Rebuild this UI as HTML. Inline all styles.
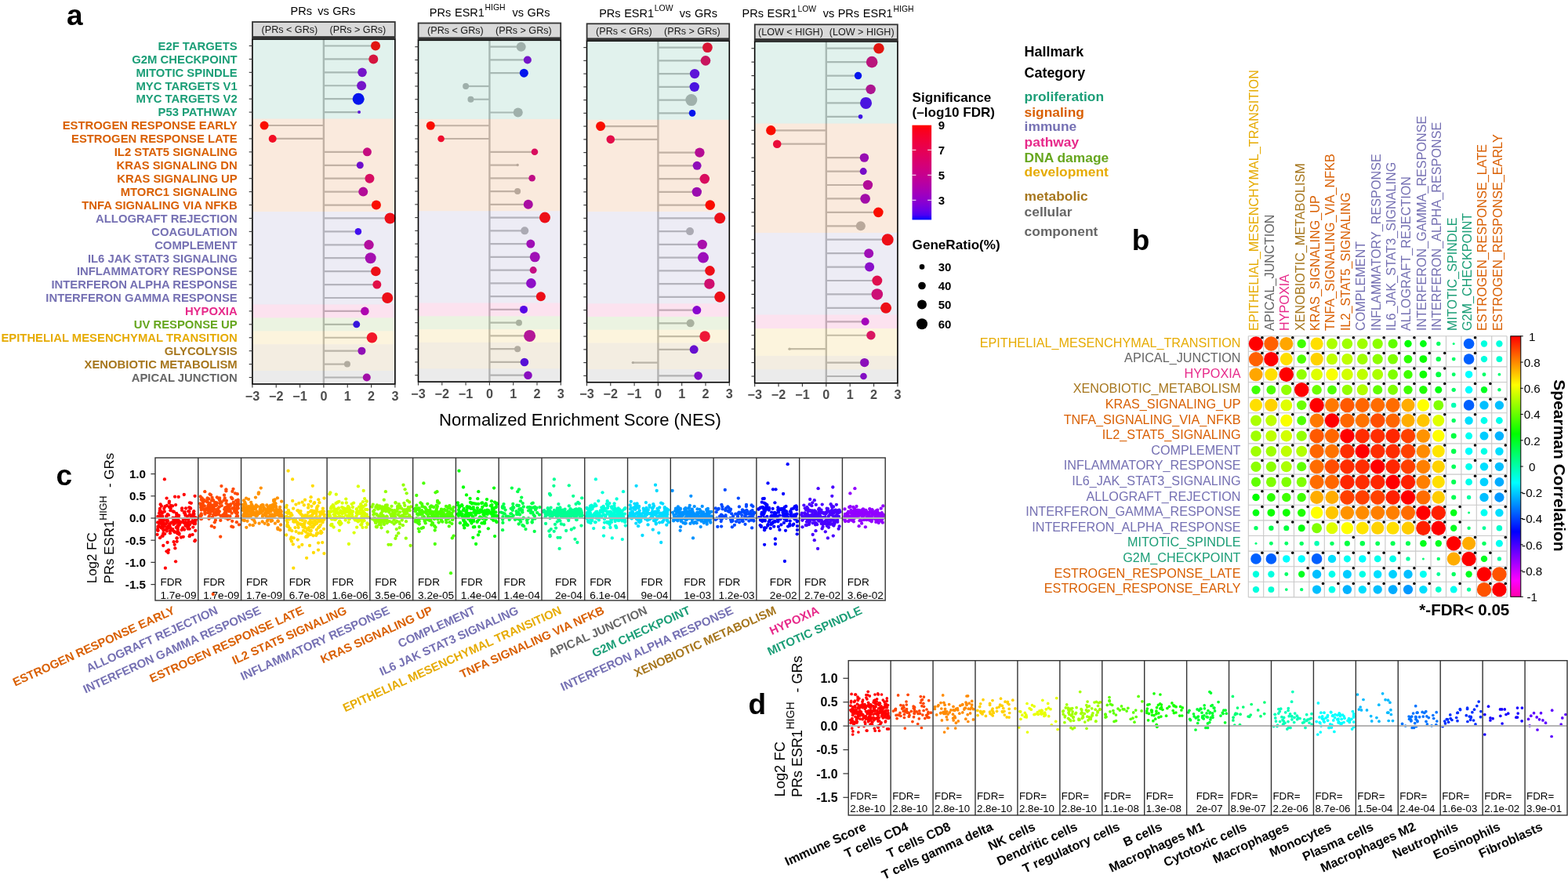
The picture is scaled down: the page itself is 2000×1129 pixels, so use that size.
<!DOCTYPE html><html><head><meta charset="utf-8"><title>Figure</title><style>html,body{margin:0;padding:0;background:#fff;}svg{display:block;} text{font-family:"Liberation Sans",sans-serif;} .b{font-weight:bold;}</style></head><body>
<svg width="2000" height="1129" viewBox="0 0 2000 1129">
<rect width="2000" height="1129" fill="#fff"/>
<text x="1163.6" y="130" class="b" font-size="17.1" fill="#000">Significance</text>
<text x="1163.6" y="148.8" class="b" font-size="17.1" fill="#000">(–log10 FDR)</text>
<defs><linearGradient id="sg" x1="0" y1="0" x2="0" y2="1"><stop offset="0.00" stop-color="#ff0000"/><stop offset="0.05" stop-color="#fb001a"/><stop offset="0.10" stop-color="#f6002a"/><stop offset="0.15" stop-color="#f20037"/><stop offset="0.20" stop-color="#ed0044"/><stop offset="0.25" stop-color="#e80050"/><stop offset="0.30" stop-color="#e3005b"/><stop offset="0.35" stop-color="#dd0066"/><stop offset="0.40" stop-color="#d70072"/><stop offset="0.45" stop-color="#d1007d"/><stop offset="0.50" stop-color="#ca0088"/><stop offset="0.55" stop-color="#c20094"/><stop offset="0.60" stop-color="#ba009f"/><stop offset="0.65" stop-color="#b000ab"/><stop offset="0.70" stop-color="#a600b7"/><stop offset="0.75" stop-color="#9a00c3"/><stop offset="0.80" stop-color="#8d00ce"/><stop offset="0.85" stop-color="#7c00da"/><stop offset="0.90" stop-color="#6800e7"/><stop offset="0.95" stop-color="#4b00f3"/><stop offset="1.00" stop-color="#0000ff"/></linearGradient><linearGradient id="cg" x1="0" y1="0" x2="0" y2="1"><stop offset="0.0000" stop-color="#ff0000"/><stop offset="0.0312" stop-color="#ff2a00"/><stop offset="0.0625" stop-color="#ff5500"/><stop offset="0.0938" stop-color="#ff8000"/><stop offset="0.1250" stop-color="#ffaa00"/><stop offset="0.1562" stop-color="#ffd400"/><stop offset="0.1875" stop-color="#ffff00"/><stop offset="0.2188" stop-color="#d4ff00"/><stop offset="0.2500" stop-color="#aaff00"/><stop offset="0.2812" stop-color="#80ff00"/><stop offset="0.3125" stop-color="#55ff00"/><stop offset="0.3438" stop-color="#2aff00"/><stop offset="0.3750" stop-color="#00ff00"/><stop offset="0.4062" stop-color="#00ff2a"/><stop offset="0.4375" stop-color="#00ff55"/><stop offset="0.4688" stop-color="#00ff80"/><stop offset="0.5000" stop-color="#00ffaa"/><stop offset="0.5312" stop-color="#00ffd4"/><stop offset="0.5625" stop-color="#00ffff"/><stop offset="0.5938" stop-color="#00d4ff"/><stop offset="0.6250" stop-color="#00aaff"/><stop offset="0.6562" stop-color="#0080ff"/><stop offset="0.6875" stop-color="#0055ff"/><stop offset="0.7188" stop-color="#002bff"/><stop offset="0.7500" stop-color="#0000ff"/><stop offset="0.7812" stop-color="#2a00ff"/><stop offset="0.8125" stop-color="#5500ff"/><stop offset="0.8438" stop-color="#8000ff"/><stop offset="0.8750" stop-color="#aa00ff"/><stop offset="0.9062" stop-color="#d500ff"/><stop offset="0.9375" stop-color="#ff00ff"/><stop offset="0.9688" stop-color="#ff00d4"/><stop offset="1.0000" stop-color="#ff00aa"/></linearGradient></defs>
<rect x="1163.5" y="159.7" width="24.6" height="120.7" fill="url(#sg)"/>
<line x1="1163.5" y1="191.3" x2="1168.4" y2="191.3" stroke="#fff" stroke-width="1"/>
<line x1="1183.2" y1="191.3" x2="1188.1" y2="191.3" stroke="#fff" stroke-width="1"/>
<line x1="1163.5" y1="223.3" x2="1168.4" y2="223.3" stroke="#fff" stroke-width="1"/>
<line x1="1183.2" y1="223.3" x2="1188.1" y2="223.3" stroke="#fff" stroke-width="1"/>
<line x1="1163.5" y1="255.3" x2="1168.4" y2="255.3" stroke="#fff" stroke-width="1"/>
<line x1="1183.2" y1="255.3" x2="1188.1" y2="255.3" stroke="#fff" stroke-width="1"/>
<text x="1196.7" y="164.7" class="b" font-size="15" fill="#000">9</text>
<text x="1196.7" y="196.7" class="b" font-size="15" fill="#000">7</text>
<text x="1196.7" y="228.7" class="b" font-size="15" fill="#000">5</text>
<text x="1196.7" y="260.7" class="b" font-size="15" fill="#000">3</text>
<text x="1163.6" y="317.5" class="b" font-size="17.1" fill="#000">GeneRatio(%)</text>
<circle cx="1176" cy="340.4" r="3.3" fill="#000"/>
<text x="1196.7" y="345.8" class="b" font-size="15" fill="#000">30</text>
<circle cx="1176" cy="364.5" r="4.8" fill="#000"/>
<text x="1196.7" y="369.9" class="b" font-size="15" fill="#000">40</text>
<circle cx="1176" cy="388.6" r="6.0" fill="#000"/>
<text x="1196.7" y="394" class="b" font-size="15" fill="#000">50</text>
<circle cx="1176" cy="413.3" r="7.0" fill="#000"/>
<text x="1196.7" y="418.7" class="b" font-size="15" fill="#000">60</text>
<text x="1306.6" y="71.7" class="b" font-size="17.9" fill="#000">Hallmark</text>
<text x="1306.6" y="99.4" class="b" font-size="17.9" fill="#000">Category</text>
<text x="1306.6" y="129.2" class="b" font-size="17.4" fill="#1B9E77">proliferation</text>
<text x="1306.6" y="148.8" class="b" font-size="17.4" fill="#D95F02">signaling</text>
<text x="1306.6" y="166.9" class="b" font-size="17.4" fill="#7570B3">immune</text>
<text x="1306.6" y="186.7" class="b" font-size="17.4" fill="#E7298A">pathway</text>
<text x="1306.6" y="206.9" class="b" font-size="17.4" fill="#66A61E">DNA damage</text>
<text x="1306.6" y="225" class="b" font-size="17.4" fill="#E6AB02">development</text>
<text x="1306.6" y="255.7" class="b" font-size="17.4" fill="#A6761D">metabolic</text>
<text x="1306.6" y="276.2" class="b" font-size="17.4" fill="#666666">cellular</text>
<text x="1306.6" y="301.2" class="b" font-size="17.4" fill="#666666">component</text>
<text x="1443.7" y="319" class="b" font-size="37">b</text>
<text x="85" y="32.4" class="b" font-size="37">a</text>
<text x="302.7" y="63.8" class="b" font-size="14.85" text-anchor="end" fill="#1B9E77">E2F TARGETS</text>
<text x="302.7" y="80.72" class="b" font-size="14.85" text-anchor="end" fill="#1B9E77">G2M CHECKPOINT</text>
<text x="302.7" y="97.64" class="b" font-size="14.85" text-anchor="end" fill="#1B9E77">MITOTIC SPINDLE</text>
<text x="302.7" y="114.56" class="b" font-size="14.85" text-anchor="end" fill="#1B9E77">MYC TARGETS V1</text>
<text x="302.7" y="131.48" class="b" font-size="14.85" text-anchor="end" fill="#1B9E77">MYC TARGETS V2</text>
<text x="302.7" y="148.4" class="b" font-size="14.85" text-anchor="end" fill="#1B9E77">P53 PATHWAY</text>
<text x="302.7" y="165.32" class="b" font-size="14.85" text-anchor="end" fill="#D95F02">ESTROGEN RESPONSE EARLY</text>
<text x="302.7" y="182.24" class="b" font-size="14.85" text-anchor="end" fill="#D95F02">ESTROGEN RESPONSE LATE</text>
<text x="302.7" y="199.16" class="b" font-size="14.85" text-anchor="end" fill="#D95F02">IL2 STAT5 SIGNALING</text>
<text x="302.7" y="216.08" class="b" font-size="14.85" text-anchor="end" fill="#D95F02">KRAS SIGNALING DN</text>
<text x="302.7" y="233" class="b" font-size="14.85" text-anchor="end" fill="#D95F02">KRAS SIGNALING UP</text>
<text x="302.7" y="249.92" class="b" font-size="14.85" text-anchor="end" fill="#D95F02">MTORC1 SIGNALING</text>
<text x="302.7" y="266.84" class="b" font-size="14.85" text-anchor="end" fill="#D95F02">TNFA SIGNALING VIA NFKB</text>
<text x="302.7" y="283.76" class="b" font-size="14.85" text-anchor="end" fill="#7570B3">ALLOGRAFT REJECTION</text>
<text x="302.7" y="300.68" class="b" font-size="14.85" text-anchor="end" fill="#7570B3">COAGULATION</text>
<text x="302.7" y="317.6" class="b" font-size="14.85" text-anchor="end" fill="#7570B3">COMPLEMENT</text>
<text x="302.7" y="334.52" class="b" font-size="14.85" text-anchor="end" fill="#7570B3">IL6 JAK STAT3 SIGNALING</text>
<text x="302.7" y="351.44" class="b" font-size="14.85" text-anchor="end" fill="#7570B3">INFLAMMATORY RESPONSE</text>
<text x="302.7" y="368.36" class="b" font-size="14.85" text-anchor="end" fill="#7570B3">INTERFERON ALPHA RESPONSE</text>
<text x="302.7" y="385.28" class="b" font-size="14.85" text-anchor="end" fill="#7570B3">INTERFERON GAMMA RESPONSE</text>
<text x="302.7" y="402.2" class="b" font-size="14.85" text-anchor="end" fill="#E7298A">HYPOXIA</text>
<text x="302.7" y="419.12" class="b" font-size="14.85" text-anchor="end" fill="#66A61E">UV RESPONSE UP</text>
<text x="302.7" y="436.04" class="b" font-size="14.85" text-anchor="end" fill="#E6AB02">EPITHELIAL MESENCHYMAL TRANSITION</text>
<text x="302.7" y="452.96" class="b" font-size="14.85" text-anchor="end" fill="#A6761D">GLYCOLYSIS</text>
<text x="302.7" y="469.88" class="b" font-size="14.85" text-anchor="end" fill="#A6761D">XENOBIOTIC METABOLISM</text>
<text x="302.7" y="486.8" class="b" font-size="14.85" text-anchor="end" fill="#666666">APICAL JUNCTION</text>
<rect x="321.91" y="50.04" width="181.98" height="439.92" fill="#fff"/>
<line x1="412.9" y1="50.04" x2="412.9" y2="489.96" stroke="#bebebe" stroke-width="2.4"/>
<line x1="412.9" y1="58.5" x2="479.02" y2="58.5" stroke="#bebebe" stroke-width="2.2"/>
<line x1="412.9" y1="75.42" x2="476.29" y2="75.42" stroke="#bebebe" stroke-width="2.2"/>
<line x1="412.9" y1="92.34" x2="462.03" y2="92.34" stroke="#bebebe" stroke-width="2.2"/>
<line x1="412.9" y1="109.26" x2="461.12" y2="109.26" stroke="#bebebe" stroke-width="2.2"/>
<line x1="412.9" y1="126.18" x2="457.18" y2="126.18" stroke="#bebebe" stroke-width="2.2"/>
<line x1="412.9" y1="143.1" x2="458.09" y2="143.1" stroke="#bebebe" stroke-width="2.2"/>
<line x1="412.9" y1="160.02" x2="337.07" y2="160.02" stroke="#bebebe" stroke-width="2.2"/>
<line x1="412.9" y1="176.94" x2="347.69" y2="176.94" stroke="#bebebe" stroke-width="2.2"/>
<line x1="412.9" y1="193.86" x2="468.4" y2="193.86" stroke="#bebebe" stroke-width="2.2"/>
<line x1="412.9" y1="210.78" x2="459.3" y2="210.78" stroke="#bebebe" stroke-width="2.2"/>
<line x1="412.9" y1="227.7" x2="471.44" y2="227.7" stroke="#bebebe" stroke-width="2.2"/>
<line x1="412.9" y1="244.62" x2="463.25" y2="244.62" stroke="#bebebe" stroke-width="2.2"/>
<line x1="412.9" y1="261.54" x2="479.93" y2="261.54" stroke="#bebebe" stroke-width="2.2"/>
<line x1="412.9" y1="278.46" x2="497.52" y2="278.46" stroke="#bebebe" stroke-width="2.2"/>
<line x1="412.9" y1="295.38" x2="456.88" y2="295.38" stroke="#bebebe" stroke-width="2.2"/>
<line x1="412.9" y1="312.3" x2="470.53" y2="312.3" stroke="#bebebe" stroke-width="2.2"/>
<line x1="412.9" y1="329.22" x2="472.65" y2="329.22" stroke="#bebebe" stroke-width="2.2"/>
<line x1="412.9" y1="346.14" x2="479.32" y2="346.14" stroke="#bebebe" stroke-width="2.2"/>
<line x1="412.9" y1="363.06" x2="480.84" y2="363.06" stroke="#bebebe" stroke-width="2.2"/>
<line x1="412.9" y1="379.98" x2="494.18" y2="379.98" stroke="#bebebe" stroke-width="2.2"/>
<line x1="412.9" y1="396.9" x2="465.37" y2="396.9" stroke="#bebebe" stroke-width="2.2"/>
<line x1="412.9" y1="413.82" x2="454.76" y2="413.82" stroke="#bebebe" stroke-width="2.2"/>
<line x1="412.9" y1="430.74" x2="474.47" y2="430.74" stroke="#bebebe" stroke-width="2.2"/>
<line x1="412.9" y1="447.66" x2="461.43" y2="447.66" stroke="#bebebe" stroke-width="2.2"/>
<line x1="412.9" y1="464.58" x2="442.93" y2="464.58" stroke="#bebebe" stroke-width="2.2"/>
<line x1="412.9" y1="481.5" x2="467.8" y2="481.5" stroke="#bebebe" stroke-width="2.2"/>
<circle cx="479.02" cy="58.5" r="6" fill="#ff0000"/>
<circle cx="476.29" cy="75.42" r="6" fill="#f20037"/>
<circle cx="462.03" cy="92.34" r="5.8" fill="#8300d6"/>
<circle cx="461.12" cy="109.26" r="6" fill="#8300d6"/>
<circle cx="457.18" cy="126.18" r="7.5" fill="#0000ff"/>
<circle cx="458.09" cy="143.1" r="2" fill="#6800e7"/>
<circle cx="337.07" cy="160.02" r="5.5" fill="#ff0000"/>
<circle cx="347.69" cy="176.94" r="5" fill="#f6002a"/>
<circle cx="468.4" cy="193.86" r="5.5" fill="#c20094"/>
<circle cx="459.3" cy="210.78" r="4.5" fill="#5e00eb"/>
<circle cx="471.44" cy="227.7" r="6" fill="#d70072"/>
<circle cx="463.25" cy="244.62" r="6" fill="#ac00b0"/>
<circle cx="479.93" cy="261.54" r="6" fill="#ff0000"/>
<circle cx="497.52" cy="278.46" r="7" fill="#ff0000"/>
<circle cx="456.88" cy="295.38" r="4.3" fill="#3a00f8"/>
<circle cx="470.53" cy="312.3" r="6.2" fill="#bd009b"/>
<circle cx="472.65" cy="329.22" r="7" fill="#ac00b0"/>
<circle cx="479.32" cy="346.14" r="6.2" fill="#ff0000"/>
<circle cx="480.84" cy="363.06" r="5.5" fill="#f20037"/>
<circle cx="494.18" cy="379.98" r="7" fill="#ff0000"/>
<circle cx="465.37" cy="396.9" r="5.3" fill="#a600b7"/>
<circle cx="454.76" cy="413.82" r="4.5" fill="#2f00fa"/>
<circle cx="474.47" cy="430.74" r="6.8" fill="#f50030"/>
<circle cx="461.43" cy="447.66" r="5" fill="#8d00ce"/>
<circle cx="442.93" cy="464.58" r="4" fill="#b3b3b3"/>
<circle cx="467.8" cy="481.5" r="5" fill="#aa00b2"/>
<rect x="321.91" y="50.04" width="181.98" height="101.52" fill="#1B9E77" fill-opacity="0.135"/>
<rect x="321.91" y="151.56" width="181.98" height="118.44" fill="#D95F02" fill-opacity="0.135"/>
<rect x="321.91" y="270" width="181.98" height="118.44" fill="#7570B3" fill-opacity="0.135"/>
<rect x="321.91" y="388.44" width="181.98" height="16.92" fill="#E7298A" fill-opacity="0.135"/>
<rect x="321.91" y="405.36" width="181.98" height="16.92" fill="#66A61E" fill-opacity="0.135"/>
<rect x="321.91" y="422.28" width="181.98" height="16.92" fill="#E6AB02" fill-opacity="0.135"/>
<rect x="321.91" y="439.2" width="181.98" height="33.84" fill="#A6761D" fill-opacity="0.135"/>
<rect x="321.91" y="473.04" width="181.98" height="16.92" fill="#666666" fill-opacity="0.135"/>
<rect x="321.91" y="50.04" width="181.98" height="439.92" fill="none" stroke="#000" stroke-width="1.6"/>
<rect x="321.11" y="27.1" width="183.58" height="22.94" fill="#333"/>
<rect x="322.91" y="28.9" width="179.98" height="17.24" fill="#d9d9d9"/>
<text x="369.4" y="41.82" font-size="12.6" text-anchor="middle" fill="#1a1a1a">(PRs &lt; GRs)</text>
<text x="456.4" y="41.82" font-size="12.6" text-anchor="middle" fill="#1a1a1a">(PRs &gt; GRs)</text>
<line x1="317.71" y1="58.5" x2="321.91" y2="58.5" stroke="#333" stroke-width="1.1"/>
<line x1="317.71" y1="75.42" x2="321.91" y2="75.42" stroke="#333" stroke-width="1.1"/>
<line x1="317.71" y1="92.34" x2="321.91" y2="92.34" stroke="#333" stroke-width="1.1"/>
<line x1="317.71" y1="109.26" x2="321.91" y2="109.26" stroke="#333" stroke-width="1.1"/>
<line x1="317.71" y1="126.18" x2="321.91" y2="126.18" stroke="#333" stroke-width="1.1"/>
<line x1="317.71" y1="143.1" x2="321.91" y2="143.1" stroke="#333" stroke-width="1.1"/>
<line x1="317.71" y1="160.02" x2="321.91" y2="160.02" stroke="#333" stroke-width="1.1"/>
<line x1="317.71" y1="176.94" x2="321.91" y2="176.94" stroke="#333" stroke-width="1.1"/>
<line x1="317.71" y1="193.86" x2="321.91" y2="193.86" stroke="#333" stroke-width="1.1"/>
<line x1="317.71" y1="210.78" x2="321.91" y2="210.78" stroke="#333" stroke-width="1.1"/>
<line x1="317.71" y1="227.7" x2="321.91" y2="227.7" stroke="#333" stroke-width="1.1"/>
<line x1="317.71" y1="244.62" x2="321.91" y2="244.62" stroke="#333" stroke-width="1.1"/>
<line x1="317.71" y1="261.54" x2="321.91" y2="261.54" stroke="#333" stroke-width="1.1"/>
<line x1="317.71" y1="278.46" x2="321.91" y2="278.46" stroke="#333" stroke-width="1.1"/>
<line x1="317.71" y1="295.38" x2="321.91" y2="295.38" stroke="#333" stroke-width="1.1"/>
<line x1="317.71" y1="312.3" x2="321.91" y2="312.3" stroke="#333" stroke-width="1.1"/>
<line x1="317.71" y1="329.22" x2="321.91" y2="329.22" stroke="#333" stroke-width="1.1"/>
<line x1="317.71" y1="346.14" x2="321.91" y2="346.14" stroke="#333" stroke-width="1.1"/>
<line x1="317.71" y1="363.06" x2="321.91" y2="363.06" stroke="#333" stroke-width="1.1"/>
<line x1="317.71" y1="379.98" x2="321.91" y2="379.98" stroke="#333" stroke-width="1.1"/>
<line x1="317.71" y1="396.9" x2="321.91" y2="396.9" stroke="#333" stroke-width="1.1"/>
<line x1="317.71" y1="413.82" x2="321.91" y2="413.82" stroke="#333" stroke-width="1.1"/>
<line x1="317.71" y1="430.74" x2="321.91" y2="430.74" stroke="#333" stroke-width="1.1"/>
<line x1="317.71" y1="447.66" x2="321.91" y2="447.66" stroke="#333" stroke-width="1.1"/>
<line x1="317.71" y1="464.58" x2="321.91" y2="464.58" stroke="#333" stroke-width="1.1"/>
<line x1="317.71" y1="481.5" x2="321.91" y2="481.5" stroke="#333" stroke-width="1.1"/>
<line x1="321.91" y1="489.96" x2="321.91" y2="494.46" stroke="#333" stroke-width="1.1"/>
<text x="321.91" y="510.66" class="b" font-size="16.2" text-anchor="middle" fill="#4d4d4d">−3</text>
<line x1="352.24" y1="489.96" x2="352.24" y2="494.46" stroke="#333" stroke-width="1.1"/>
<text x="352.24" y="510.66" class="b" font-size="16.2" text-anchor="middle" fill="#4d4d4d">−2</text>
<line x1="382.57" y1="489.96" x2="382.57" y2="494.46" stroke="#333" stroke-width="1.1"/>
<text x="382.57" y="510.66" class="b" font-size="16.2" text-anchor="middle" fill="#4d4d4d">−1</text>
<line x1="412.9" y1="489.96" x2="412.9" y2="494.46" stroke="#333" stroke-width="1.1"/>
<text x="412.9" y="510.66" class="b" font-size="16.2" text-anchor="middle" fill="#4d4d4d">0</text>
<line x1="443.23" y1="489.96" x2="443.23" y2="494.46" stroke="#333" stroke-width="1.1"/>
<text x="443.23" y="510.66" class="b" font-size="16.2" text-anchor="middle" fill="#4d4d4d">1</text>
<line x1="473.56" y1="489.96" x2="473.56" y2="494.46" stroke="#333" stroke-width="1.1"/>
<text x="473.56" y="510.66" class="b" font-size="16.2" text-anchor="middle" fill="#4d4d4d">2</text>
<line x1="503.89" y1="489.96" x2="503.89" y2="494.46" stroke="#333" stroke-width="1.1"/>
<text x="503.89" y="510.66" class="b" font-size="16.2" text-anchor="middle" fill="#4d4d4d">3</text>
<rect x="533.5" y="51.32" width="181.8" height="435.76" fill="#fff"/>
<line x1="624.4" y1="51.32" x2="624.4" y2="487.08" stroke="#bebebe" stroke-width="2.4"/>
<line x1="624.4" y1="59.7" x2="664.7" y2="59.7" stroke="#bebebe" stroke-width="2.2"/>
<line x1="624.4" y1="76.46" x2="672.88" y2="76.46" stroke="#bebebe" stroke-width="2.2"/>
<line x1="624.4" y1="93.22" x2="668.34" y2="93.22" stroke="#bebebe" stroke-width="2.2"/>
<line x1="624.4" y1="109.98" x2="594.1" y2="109.98" stroke="#bebebe" stroke-width="2.2"/>
<line x1="624.4" y1="126.74" x2="600.46" y2="126.74" stroke="#bebebe" stroke-width="2.2"/>
<line x1="624.4" y1="143.5" x2="660.76" y2="143.5" stroke="#bebebe" stroke-width="2.2"/>
<line x1="624.4" y1="160.26" x2="549.26" y2="160.26" stroke="#bebebe" stroke-width="2.2"/>
<line x1="624.4" y1="177.02" x2="562.59" y2="177.02" stroke="#bebebe" stroke-width="2.2"/>
<line x1="624.4" y1="193.78" x2="681.97" y2="193.78" stroke="#bebebe" stroke-width="2.2"/>
<line x1="624.4" y1="210.54" x2="660.15" y2="210.54" stroke="#bebebe" stroke-width="2.2"/>
<line x1="624.4" y1="227.3" x2="678.64" y2="227.3" stroke="#bebebe" stroke-width="2.2"/>
<line x1="624.4" y1="244.06" x2="660.15" y2="244.06" stroke="#bebebe" stroke-width="2.2"/>
<line x1="624.4" y1="260.82" x2="673.79" y2="260.82" stroke="#bebebe" stroke-width="2.2"/>
<line x1="624.4" y1="277.58" x2="695" y2="277.58" stroke="#bebebe" stroke-width="2.2"/>
<line x1="624.4" y1="294.34" x2="669.24" y2="294.34" stroke="#bebebe" stroke-width="2.2"/>
<line x1="624.4" y1="311.1" x2="676.82" y2="311.1" stroke="#bebebe" stroke-width="2.2"/>
<line x1="624.4" y1="327.86" x2="682.27" y2="327.86" stroke="#bebebe" stroke-width="2.2"/>
<line x1="624.4" y1="344.62" x2="680.15" y2="344.62" stroke="#bebebe" stroke-width="2.2"/>
<line x1="624.4" y1="361.38" x2="677.42" y2="361.38" stroke="#bebebe" stroke-width="2.2"/>
<line x1="624.4" y1="378.14" x2="689.85" y2="378.14" stroke="#bebebe" stroke-width="2.2"/>
<line x1="624.4" y1="394.9" x2="668.03" y2="394.9" stroke="#bebebe" stroke-width="2.2"/>
<line x1="624.4" y1="411.66" x2="661.97" y2="411.66" stroke="#bebebe" stroke-width="2.2"/>
<line x1="624.4" y1="428.42" x2="675.61" y2="428.42" stroke="#bebebe" stroke-width="2.2"/>
<line x1="624.4" y1="445.18" x2="660.15" y2="445.18" stroke="#bebebe" stroke-width="2.2"/>
<line x1="624.4" y1="461.94" x2="668.94" y2="461.94" stroke="#bebebe" stroke-width="2.2"/>
<line x1="624.4" y1="478.7" x2="673.49" y2="478.7" stroke="#bebebe" stroke-width="2.2"/>
<circle cx="664.7" cy="59.7" r="6" fill="#b3b3b3"/>
<circle cx="672.88" cy="76.46" r="5" fill="#8300d6"/>
<circle cx="668.34" cy="93.22" r="5.5" fill="#0000ff"/>
<circle cx="594.1" cy="109.98" r="4" fill="#b3b3b3"/>
<circle cx="600.46" cy="126.74" r="4" fill="#b3b3b3"/>
<circle cx="660.76" cy="143.5" r="6" fill="#b3b3b3"/>
<circle cx="549.26" cy="160.26" r="5.5" fill="#ff0000"/>
<circle cx="562.59" cy="177.02" r="4.3" fill="#f20037"/>
<circle cx="681.97" cy="193.78" r="4.3" fill="#d9006d"/>
<circle cx="660.15" cy="210.54" r="1.7" fill="#b3b3b3"/>
<circle cx="678.64" cy="227.3" r="4.3" fill="#bd009b"/>
<circle cx="660.15" cy="244.06" r="4" fill="#b3b3b3"/>
<circle cx="673.79" cy="260.82" r="6" fill="#a200bb"/>
<circle cx="695" cy="277.58" r="7" fill="#ff0000"/>
<circle cx="669.24" cy="294.34" r="5" fill="#b3b3b3"/>
<circle cx="676.82" cy="311.1" r="5.5" fill="#a600b7"/>
<circle cx="682.27" cy="327.86" r="6.5" fill="#a600b7"/>
<circle cx="680.15" cy="344.62" r="4.5" fill="#d1007d"/>
<circle cx="677.42" cy="361.38" r="6.3" fill="#9200ca"/>
<circle cx="689.85" cy="378.14" r="6" fill="#ff0000"/>
<circle cx="668.03" cy="394.9" r="5" fill="#4300f5"/>
<circle cx="661.97" cy="411.66" r="4" fill="#b3b3b3"/>
<circle cx="675.61" cy="428.42" r="7.5" fill="#ac00b0"/>
<circle cx="660.15" cy="445.18" r="4" fill="#b3b3b3"/>
<circle cx="668.94" cy="461.94" r="5.3" fill="#4b00f3"/>
<circle cx="673.49" cy="478.7" r="5.3" fill="#8d00ce"/>
<rect x="533.5" y="51.32" width="181.8" height="100.56" fill="#1B9E77" fill-opacity="0.135"/>
<rect x="533.5" y="151.88" width="181.8" height="117.32" fill="#D95F02" fill-opacity="0.135"/>
<rect x="533.5" y="269.2" width="181.8" height="117.32" fill="#7570B3" fill-opacity="0.135"/>
<rect x="533.5" y="386.52" width="181.8" height="16.76" fill="#E7298A" fill-opacity="0.135"/>
<rect x="533.5" y="403.28" width="181.8" height="16.76" fill="#66A61E" fill-opacity="0.135"/>
<rect x="533.5" y="420.04" width="181.8" height="16.76" fill="#E6AB02" fill-opacity="0.135"/>
<rect x="533.5" y="436.8" width="181.8" height="33.52" fill="#A6761D" fill-opacity="0.135"/>
<rect x="533.5" y="470.32" width="181.8" height="16.76" fill="#666666" fill-opacity="0.135"/>
<rect x="533.5" y="51.32" width="181.8" height="435.76" fill="none" stroke="#000" stroke-width="1.6"/>
<rect x="532.7" y="28.6" width="183.4" height="22.72" fill="#333"/>
<rect x="534.5" y="30.4" width="179.8" height="17.02" fill="#d9d9d9"/>
<text x="580.9" y="43.21" font-size="12.6" text-anchor="middle" fill="#1a1a1a">(PRs &lt; GRs)</text>
<text x="667.9" y="43.21" font-size="12.6" text-anchor="middle" fill="#1a1a1a">(PRs &gt; GRs)</text>
<line x1="529.3" y1="59.7" x2="533.5" y2="59.7" stroke="#333" stroke-width="1.1"/>
<line x1="529.3" y1="76.46" x2="533.5" y2="76.46" stroke="#333" stroke-width="1.1"/>
<line x1="529.3" y1="93.22" x2="533.5" y2="93.22" stroke="#333" stroke-width="1.1"/>
<line x1="529.3" y1="109.98" x2="533.5" y2="109.98" stroke="#333" stroke-width="1.1"/>
<line x1="529.3" y1="126.74" x2="533.5" y2="126.74" stroke="#333" stroke-width="1.1"/>
<line x1="529.3" y1="143.5" x2="533.5" y2="143.5" stroke="#333" stroke-width="1.1"/>
<line x1="529.3" y1="160.26" x2="533.5" y2="160.26" stroke="#333" stroke-width="1.1"/>
<line x1="529.3" y1="177.02" x2="533.5" y2="177.02" stroke="#333" stroke-width="1.1"/>
<line x1="529.3" y1="193.78" x2="533.5" y2="193.78" stroke="#333" stroke-width="1.1"/>
<line x1="529.3" y1="210.54" x2="533.5" y2="210.54" stroke="#333" stroke-width="1.1"/>
<line x1="529.3" y1="227.3" x2="533.5" y2="227.3" stroke="#333" stroke-width="1.1"/>
<line x1="529.3" y1="244.06" x2="533.5" y2="244.06" stroke="#333" stroke-width="1.1"/>
<line x1="529.3" y1="260.82" x2="533.5" y2="260.82" stroke="#333" stroke-width="1.1"/>
<line x1="529.3" y1="277.58" x2="533.5" y2="277.58" stroke="#333" stroke-width="1.1"/>
<line x1="529.3" y1="294.34" x2="533.5" y2="294.34" stroke="#333" stroke-width="1.1"/>
<line x1="529.3" y1="311.1" x2="533.5" y2="311.1" stroke="#333" stroke-width="1.1"/>
<line x1="529.3" y1="327.86" x2="533.5" y2="327.86" stroke="#333" stroke-width="1.1"/>
<line x1="529.3" y1="344.62" x2="533.5" y2="344.62" stroke="#333" stroke-width="1.1"/>
<line x1="529.3" y1="361.38" x2="533.5" y2="361.38" stroke="#333" stroke-width="1.1"/>
<line x1="529.3" y1="378.14" x2="533.5" y2="378.14" stroke="#333" stroke-width="1.1"/>
<line x1="529.3" y1="394.9" x2="533.5" y2="394.9" stroke="#333" stroke-width="1.1"/>
<line x1="529.3" y1="411.66" x2="533.5" y2="411.66" stroke="#333" stroke-width="1.1"/>
<line x1="529.3" y1="428.42" x2="533.5" y2="428.42" stroke="#333" stroke-width="1.1"/>
<line x1="529.3" y1="445.18" x2="533.5" y2="445.18" stroke="#333" stroke-width="1.1"/>
<line x1="529.3" y1="461.94" x2="533.5" y2="461.94" stroke="#333" stroke-width="1.1"/>
<line x1="529.3" y1="478.7" x2="533.5" y2="478.7" stroke="#333" stroke-width="1.1"/>
<line x1="533.5" y1="487.08" x2="533.5" y2="491.58" stroke="#333" stroke-width="1.1"/>
<text x="533.5" y="507.78" class="b" font-size="16.2" text-anchor="middle" fill="#4d4d4d">−3</text>
<line x1="563.8" y1="487.08" x2="563.8" y2="491.58" stroke="#333" stroke-width="1.1"/>
<text x="563.8" y="507.78" class="b" font-size="16.2" text-anchor="middle" fill="#4d4d4d">−2</text>
<line x1="594.1" y1="487.08" x2="594.1" y2="491.58" stroke="#333" stroke-width="1.1"/>
<text x="594.1" y="507.78" class="b" font-size="16.2" text-anchor="middle" fill="#4d4d4d">−1</text>
<line x1="624.4" y1="487.08" x2="624.4" y2="491.58" stroke="#333" stroke-width="1.1"/>
<text x="624.4" y="507.78" class="b" font-size="16.2" text-anchor="middle" fill="#4d4d4d">0</text>
<line x1="654.7" y1="487.08" x2="654.7" y2="491.58" stroke="#333" stroke-width="1.1"/>
<text x="654.7" y="507.78" class="b" font-size="16.2" text-anchor="middle" fill="#4d4d4d">1</text>
<line x1="685" y1="487.08" x2="685" y2="491.58" stroke="#333" stroke-width="1.1"/>
<text x="685" y="507.78" class="b" font-size="16.2" text-anchor="middle" fill="#4d4d4d">2</text>
<line x1="715.3" y1="487.08" x2="715.3" y2="491.58" stroke="#333" stroke-width="1.1"/>
<text x="715.3" y="507.78" class="b" font-size="16.2" text-anchor="middle" fill="#4d4d4d">3</text>
<rect x="748.5" y="52.23" width="181.8" height="435.5" fill="#fff"/>
<line x1="839.4" y1="52.23" x2="839.4" y2="487.73" stroke="#bebebe" stroke-width="2.4"/>
<line x1="839.4" y1="60.6" x2="902.42" y2="60.6" stroke="#bebebe" stroke-width="2.2"/>
<line x1="839.4" y1="77.35" x2="900" y2="77.35" stroke="#bebebe" stroke-width="2.2"/>
<line x1="839.4" y1="94.1" x2="886.06" y2="94.1" stroke="#bebebe" stroke-width="2.2"/>
<line x1="839.4" y1="110.85" x2="885.76" y2="110.85" stroke="#bebebe" stroke-width="2.2"/>
<line x1="839.4" y1="127.6" x2="881.82" y2="127.6" stroke="#bebebe" stroke-width="2.2"/>
<line x1="839.4" y1="144.35" x2="883.03" y2="144.35" stroke="#bebebe" stroke-width="2.2"/>
<line x1="839.4" y1="161.1" x2="766.07" y2="161.1" stroke="#bebebe" stroke-width="2.2"/>
<line x1="839.4" y1="177.85" x2="778.8" y2="177.85" stroke="#bebebe" stroke-width="2.2"/>
<line x1="839.4" y1="194.6" x2="892.42" y2="194.6" stroke="#bebebe" stroke-width="2.2"/>
<line x1="839.4" y1="211.35" x2="889.09" y2="211.35" stroke="#bebebe" stroke-width="2.2"/>
<line x1="839.4" y1="228.1" x2="898.79" y2="228.1" stroke="#bebebe" stroke-width="2.2"/>
<line x1="839.4" y1="244.85" x2="888.79" y2="244.85" stroke="#bebebe" stroke-width="2.2"/>
<line x1="839.4" y1="261.6" x2="905.76" y2="261.6" stroke="#bebebe" stroke-width="2.2"/>
<line x1="839.4" y1="278.35" x2="918.18" y2="278.35" stroke="#bebebe" stroke-width="2.2"/>
<line x1="839.4" y1="295.1" x2="880" y2="295.1" stroke="#bebebe" stroke-width="2.2"/>
<line x1="839.4" y1="311.85" x2="895.76" y2="311.85" stroke="#bebebe" stroke-width="2.2"/>
<line x1="839.4" y1="328.6" x2="896.97" y2="328.6" stroke="#bebebe" stroke-width="2.2"/>
<line x1="839.4" y1="345.35" x2="905.45" y2="345.35" stroke="#bebebe" stroke-width="2.2"/>
<line x1="839.4" y1="362.1" x2="904.85" y2="362.1" stroke="#bebebe" stroke-width="2.2"/>
<line x1="839.4" y1="378.85" x2="918.18" y2="378.85" stroke="#bebebe" stroke-width="2.2"/>
<line x1="839.4" y1="395.6" x2="888.79" y2="395.6" stroke="#bebebe" stroke-width="2.2"/>
<line x1="839.4" y1="412.35" x2="880.61" y2="412.35" stroke="#bebebe" stroke-width="2.2"/>
<line x1="839.4" y1="429.1" x2="899.09" y2="429.1" stroke="#bebebe" stroke-width="2.2"/>
<line x1="839.4" y1="445.85" x2="885.15" y2="445.85" stroke="#bebebe" stroke-width="2.2"/>
<line x1="839.4" y1="462.6" x2="807.28" y2="462.6" stroke="#bebebe" stroke-width="2.2"/>
<line x1="839.4" y1="479.35" x2="890.61" y2="479.35" stroke="#bebebe" stroke-width="2.2"/>
<circle cx="902.42" cy="60.6" r="6.4" fill="#f6002a"/>
<circle cx="900" cy="77.35" r="6.3" fill="#e3005b"/>
<circle cx="886.06" cy="94.1" r="6.2" fill="#6800e7"/>
<circle cx="885.76" cy="110.85" r="6.2" fill="#5200f0"/>
<circle cx="881.82" cy="127.6" r="7.5" fill="#b3b3b3"/>
<circle cx="883.03" cy="144.35" r="4.3" fill="#0000ff"/>
<circle cx="766.07" cy="161.1" r="6" fill="#ff0000"/>
<circle cx="778.8" cy="177.85" r="5.3" fill="#e50056"/>
<circle cx="892.42" cy="194.6" r="6.2" fill="#b000ab"/>
<circle cx="889.09" cy="211.35" r="5.5" fill="#8300d6"/>
<circle cx="898.79" cy="228.1" r="6.3" fill="#d9006d"/>
<circle cx="888.79" cy="244.85" r="6.2" fill="#9200ca"/>
<circle cx="905.76" cy="261.6" r="6.3" fill="#ff0000"/>
<circle cx="918.18" cy="278.35" r="7" fill="#ff0000"/>
<circle cx="880" cy="295.1" r="5" fill="#b3b3b3"/>
<circle cx="895.76" cy="311.85" r="6.2" fill="#b000ab"/>
<circle cx="896.97" cy="328.6" r="7" fill="#a200bb"/>
<circle cx="905.45" cy="345.35" r="6.3" fill="#ff0000"/>
<circle cx="904.85" cy="362.1" r="6.7" fill="#dd0066"/>
<circle cx="918.18" cy="378.85" r="7" fill="#ff0000"/>
<circle cx="888.79" cy="395.6" r="5.5" fill="#7c00da"/>
<circle cx="880.61" cy="412.35" r="5" fill="#b3b3b3"/>
<circle cx="899.09" cy="429.1" r="6.8" fill="#ef003f"/>
<circle cx="885.15" cy="445.85" r="5.5" fill="#5e00eb"/>
<circle cx="807.28" cy="462.6" r="1.7" fill="#b3b3b3"/>
<circle cx="890.61" cy="479.35" r="5.3" fill="#8300d6"/>
<rect x="748.5" y="52.23" width="181.8" height="100.5" fill="#1B9E77" fill-opacity="0.135"/>
<rect x="748.5" y="152.72" width="181.8" height="117.25" fill="#D95F02" fill-opacity="0.135"/>
<rect x="748.5" y="269.98" width="181.8" height="117.25" fill="#7570B3" fill-opacity="0.135"/>
<rect x="748.5" y="387.23" width="181.8" height="16.75" fill="#E7298A" fill-opacity="0.135"/>
<rect x="748.5" y="403.98" width="181.8" height="16.75" fill="#66A61E" fill-opacity="0.135"/>
<rect x="748.5" y="420.73" width="181.8" height="16.75" fill="#E6AB02" fill-opacity="0.135"/>
<rect x="748.5" y="437.48" width="181.8" height="33.5" fill="#A6761D" fill-opacity="0.135"/>
<rect x="748.5" y="470.98" width="181.8" height="16.75" fill="#666666" fill-opacity="0.135"/>
<rect x="748.5" y="52.23" width="181.8" height="435.5" fill="none" stroke="#000" stroke-width="1.6"/>
<rect x="747.7" y="29.4" width="183.4" height="22.83" fill="#333"/>
<rect x="749.5" y="31.2" width="179.8" height="17.13" fill="#d9d9d9"/>
<text x="795.9" y="44.06" font-size="12.6" text-anchor="middle" fill="#1a1a1a">(PRs &lt; GRs)</text>
<text x="882.9" y="44.06" font-size="12.6" text-anchor="middle" fill="#1a1a1a">(PRs &gt; GRs)</text>
<line x1="744.3" y1="60.6" x2="748.5" y2="60.6" stroke="#333" stroke-width="1.1"/>
<line x1="744.3" y1="77.35" x2="748.5" y2="77.35" stroke="#333" stroke-width="1.1"/>
<line x1="744.3" y1="94.1" x2="748.5" y2="94.1" stroke="#333" stroke-width="1.1"/>
<line x1="744.3" y1="110.85" x2="748.5" y2="110.85" stroke="#333" stroke-width="1.1"/>
<line x1="744.3" y1="127.6" x2="748.5" y2="127.6" stroke="#333" stroke-width="1.1"/>
<line x1="744.3" y1="144.35" x2="748.5" y2="144.35" stroke="#333" stroke-width="1.1"/>
<line x1="744.3" y1="161.1" x2="748.5" y2="161.1" stroke="#333" stroke-width="1.1"/>
<line x1="744.3" y1="177.85" x2="748.5" y2="177.85" stroke="#333" stroke-width="1.1"/>
<line x1="744.3" y1="194.6" x2="748.5" y2="194.6" stroke="#333" stroke-width="1.1"/>
<line x1="744.3" y1="211.35" x2="748.5" y2="211.35" stroke="#333" stroke-width="1.1"/>
<line x1="744.3" y1="228.1" x2="748.5" y2="228.1" stroke="#333" stroke-width="1.1"/>
<line x1="744.3" y1="244.85" x2="748.5" y2="244.85" stroke="#333" stroke-width="1.1"/>
<line x1="744.3" y1="261.6" x2="748.5" y2="261.6" stroke="#333" stroke-width="1.1"/>
<line x1="744.3" y1="278.35" x2="748.5" y2="278.35" stroke="#333" stroke-width="1.1"/>
<line x1="744.3" y1="295.1" x2="748.5" y2="295.1" stroke="#333" stroke-width="1.1"/>
<line x1="744.3" y1="311.85" x2="748.5" y2="311.85" stroke="#333" stroke-width="1.1"/>
<line x1="744.3" y1="328.6" x2="748.5" y2="328.6" stroke="#333" stroke-width="1.1"/>
<line x1="744.3" y1="345.35" x2="748.5" y2="345.35" stroke="#333" stroke-width="1.1"/>
<line x1="744.3" y1="362.1" x2="748.5" y2="362.1" stroke="#333" stroke-width="1.1"/>
<line x1="744.3" y1="378.85" x2="748.5" y2="378.85" stroke="#333" stroke-width="1.1"/>
<line x1="744.3" y1="395.6" x2="748.5" y2="395.6" stroke="#333" stroke-width="1.1"/>
<line x1="744.3" y1="412.35" x2="748.5" y2="412.35" stroke="#333" stroke-width="1.1"/>
<line x1="744.3" y1="429.1" x2="748.5" y2="429.1" stroke="#333" stroke-width="1.1"/>
<line x1="744.3" y1="445.85" x2="748.5" y2="445.85" stroke="#333" stroke-width="1.1"/>
<line x1="744.3" y1="462.6" x2="748.5" y2="462.6" stroke="#333" stroke-width="1.1"/>
<line x1="744.3" y1="479.35" x2="748.5" y2="479.35" stroke="#333" stroke-width="1.1"/>
<line x1="748.5" y1="487.73" x2="748.5" y2="492.23" stroke="#333" stroke-width="1.1"/>
<text x="748.5" y="508.43" class="b" font-size="16.2" text-anchor="middle" fill="#4d4d4d">−3</text>
<line x1="778.8" y1="487.73" x2="778.8" y2="492.23" stroke="#333" stroke-width="1.1"/>
<text x="778.8" y="508.43" class="b" font-size="16.2" text-anchor="middle" fill="#4d4d4d">−2</text>
<line x1="809.1" y1="487.73" x2="809.1" y2="492.23" stroke="#333" stroke-width="1.1"/>
<text x="809.1" y="508.43" class="b" font-size="16.2" text-anchor="middle" fill="#4d4d4d">−1</text>
<line x1="839.4" y1="487.73" x2="839.4" y2="492.23" stroke="#333" stroke-width="1.1"/>
<text x="839.4" y="508.43" class="b" font-size="16.2" text-anchor="middle" fill="#4d4d4d">0</text>
<line x1="869.7" y1="487.73" x2="869.7" y2="492.23" stroke="#333" stroke-width="1.1"/>
<text x="869.7" y="508.43" class="b" font-size="16.2" text-anchor="middle" fill="#4d4d4d">1</text>
<line x1="900" y1="487.73" x2="900" y2="492.23" stroke="#333" stroke-width="1.1"/>
<text x="900" y="508.43" class="b" font-size="16.2" text-anchor="middle" fill="#4d4d4d">2</text>
<line x1="930.3" y1="487.73" x2="930.3" y2="492.23" stroke="#333" stroke-width="1.1"/>
<text x="930.3" y="508.43" class="b" font-size="16.2" text-anchor="middle" fill="#4d4d4d">3</text>
<rect x="962.66" y="52.98" width="182.28" height="435.75" fill="#fff"/>
<line x1="1053.8" y1="52.98" x2="1053.8" y2="488.73" stroke="#bebebe" stroke-width="2.4"/>
<line x1="1053.8" y1="61.7" x2="1120.94" y2="61.7" stroke="#bebebe" stroke-width="2.2"/>
<line x1="1053.8" y1="79.13" x2="1112.13" y2="79.13" stroke="#bebebe" stroke-width="2.2"/>
<line x1="1053.8" y1="96.56" x2="1094.51" y2="96.56" stroke="#bebebe" stroke-width="2.2"/>
<line x1="1053.8" y1="113.99" x2="1110.61" y2="113.99" stroke="#bebebe" stroke-width="2.2"/>
<line x1="1053.8" y1="131.42" x2="1104.53" y2="131.42" stroke="#bebebe" stroke-width="2.2"/>
<line x1="1053.8" y1="148.85" x2="1097.55" y2="148.85" stroke="#bebebe" stroke-width="2.2"/>
<line x1="1053.8" y1="166.28" x2="983.32" y2="166.28" stroke="#bebebe" stroke-width="2.2"/>
<line x1="1053.8" y1="183.71" x2="991.22" y2="183.71" stroke="#bebebe" stroke-width="2.2"/>
<line x1="1053.8" y1="201.14" x2="1102.41" y2="201.14" stroke="#bebebe" stroke-width="2.2"/>
<line x1="1053.8" y1="218.57" x2="1101.19" y2="218.57" stroke="#bebebe" stroke-width="2.2"/>
<line x1="1053.8" y1="236" x2="1106.96" y2="236" stroke="#bebebe" stroke-width="2.2"/>
<line x1="1053.8" y1="253.43" x2="1103.62" y2="253.43" stroke="#bebebe" stroke-width="2.2"/>
<line x1="1053.8" y1="270.86" x2="1120.33" y2="270.86" stroke="#bebebe" stroke-width="2.2"/>
<line x1="1053.8" y1="288.29" x2="1097.85" y2="288.29" stroke="#bebebe" stroke-width="2.2"/>
<line x1="1053.8" y1="305.72" x2="1132.18" y2="305.72" stroke="#bebebe" stroke-width="2.2"/>
<line x1="1053.8" y1="323.15" x2="1108.18" y2="323.15" stroke="#bebebe" stroke-width="2.2"/>
<line x1="1053.8" y1="340.58" x2="1109.09" y2="340.58" stroke="#bebebe" stroke-width="2.2"/>
<line x1="1053.8" y1="358.01" x2="1118.81" y2="358.01" stroke="#bebebe" stroke-width="2.2"/>
<line x1="1053.8" y1="375.44" x2="1118.81" y2="375.44" stroke="#bebebe" stroke-width="2.2"/>
<line x1="1053.8" y1="392.87" x2="1130.05" y2="392.87" stroke="#bebebe" stroke-width="2.2"/>
<line x1="1053.8" y1="410.3" x2="1103.62" y2="410.3" stroke="#bebebe" stroke-width="2.2"/>
<line x1="1053.8" y1="427.73" x2="1110.91" y2="427.73" stroke="#bebebe" stroke-width="2.2"/>
<line x1="1053.8" y1="445.16" x2="1007.01" y2="445.16" stroke="#bebebe" stroke-width="2.2"/>
<line x1="1053.8" y1="462.59" x2="1102.71" y2="462.59" stroke="#bebebe" stroke-width="2.2"/>
<line x1="1053.8" y1="480.02" x2="1101.5" y2="480.02" stroke="#bebebe" stroke-width="2.2"/>
<circle cx="1120.94" cy="61.7" r="6.8" fill="#ff0000"/>
<circle cx="1112.13" cy="79.13" r="7.3" fill="#d1007d"/>
<circle cx="1094.51" cy="96.56" r="4.7" fill="#0000ff"/>
<circle cx="1110.61" cy="113.99" r="6.2" fill="#c20094"/>
<circle cx="1104.53" cy="131.42" r="7.5" fill="#5200f0"/>
<circle cx="1097.55" cy="148.85" r="2.8" fill="#4300f5"/>
<circle cx="983.32" cy="166.28" r="6.2" fill="#ff0000"/>
<circle cx="991.22" cy="183.71" r="5.3" fill="#ed0044"/>
<circle cx="1102.41" cy="201.14" r="5.7" fill="#8d00ce"/>
<circle cx="1101.19" cy="218.57" r="4.5" fill="#6800e7"/>
<circle cx="1106.96" cy="236" r="6.2" fill="#ac00b0"/>
<circle cx="1103.62" cy="253.43" r="6.3" fill="#9a00c3"/>
<circle cx="1120.33" cy="270.86" r="6.3" fill="#ff0000"/>
<circle cx="1097.85" cy="288.29" r="6" fill="#b3b3b3"/>
<circle cx="1132.18" cy="305.72" r="7.5" fill="#ff0000"/>
<circle cx="1108.18" cy="323.15" r="6" fill="#a600b7"/>
<circle cx="1109.09" cy="340.58" r="6" fill="#8d00ce"/>
<circle cx="1118.81" cy="358.01" r="6.5" fill="#ef003f"/>
<circle cx="1118.81" cy="375.44" r="7.3" fill="#d9006d"/>
<circle cx="1130.05" cy="392.87" r="7" fill="#ff0000"/>
<circle cx="1103.62" cy="410.3" r="5" fill="#9a00c3"/>
<circle cx="1110.91" cy="427.73" r="5.7" fill="#d70072"/>
<circle cx="1007.01" cy="445.16" r="1.7" fill="#b3b3b3"/>
<circle cx="1102.71" cy="462.59" r="5.7" fill="#8700d3"/>
<circle cx="1101.5" cy="480.02" r="4.3" fill="#8700d3"/>
<rect x="962.66" y="52.98" width="182.28" height="104.58" fill="#1B9E77" fill-opacity="0.135"/>
<rect x="962.66" y="157.56" width="182.28" height="139.44" fill="#D95F02" fill-opacity="0.135"/>
<rect x="962.66" y="297" width="182.28" height="104.58" fill="#7570B3" fill-opacity="0.135"/>
<rect x="962.66" y="401.58" width="182.28" height="17.43" fill="#E7298A" fill-opacity="0.135"/>
<rect x="962.66" y="419.01" width="182.28" height="34.86" fill="#E6AB02" fill-opacity="0.135"/>
<rect x="962.66" y="453.88" width="182.28" height="17.43" fill="#A6761D" fill-opacity="0.135"/>
<rect x="962.66" y="471.31" width="182.28" height="17.43" fill="#666666" fill-opacity="0.135"/>
<rect x="962.66" y="52.98" width="182.28" height="435.75" fill="none" stroke="#000" stroke-width="1.6"/>
<rect x="961.86" y="30.4" width="183.88" height="22.59" fill="#333"/>
<rect x="963.66" y="32.2" width="180.28" height="16.89" fill="#d9d9d9"/>
<text x="1008.4" y="44.94" font-size="12.6" text-anchor="middle" fill="#1a1a1a">(LOW &lt; HIGH)</text>
<text x="1099.2" y="44.94" font-size="12.6" text-anchor="middle" fill="#1a1a1a">(LOW &gt; HIGH)</text>
<line x1="958.46" y1="61.7" x2="962.66" y2="61.7" stroke="#333" stroke-width="1.1"/>
<line x1="958.46" y1="79.13" x2="962.66" y2="79.13" stroke="#333" stroke-width="1.1"/>
<line x1="958.46" y1="96.56" x2="962.66" y2="96.56" stroke="#333" stroke-width="1.1"/>
<line x1="958.46" y1="113.99" x2="962.66" y2="113.99" stroke="#333" stroke-width="1.1"/>
<line x1="958.46" y1="131.42" x2="962.66" y2="131.42" stroke="#333" stroke-width="1.1"/>
<line x1="958.46" y1="148.85" x2="962.66" y2="148.85" stroke="#333" stroke-width="1.1"/>
<line x1="958.46" y1="166.28" x2="962.66" y2="166.28" stroke="#333" stroke-width="1.1"/>
<line x1="958.46" y1="183.71" x2="962.66" y2="183.71" stroke="#333" stroke-width="1.1"/>
<line x1="958.46" y1="201.14" x2="962.66" y2="201.14" stroke="#333" stroke-width="1.1"/>
<line x1="958.46" y1="218.57" x2="962.66" y2="218.57" stroke="#333" stroke-width="1.1"/>
<line x1="958.46" y1="236" x2="962.66" y2="236" stroke="#333" stroke-width="1.1"/>
<line x1="958.46" y1="253.43" x2="962.66" y2="253.43" stroke="#333" stroke-width="1.1"/>
<line x1="958.46" y1="270.86" x2="962.66" y2="270.86" stroke="#333" stroke-width="1.1"/>
<line x1="958.46" y1="288.29" x2="962.66" y2="288.29" stroke="#333" stroke-width="1.1"/>
<line x1="958.46" y1="305.72" x2="962.66" y2="305.72" stroke="#333" stroke-width="1.1"/>
<line x1="958.46" y1="323.15" x2="962.66" y2="323.15" stroke="#333" stroke-width="1.1"/>
<line x1="958.46" y1="340.58" x2="962.66" y2="340.58" stroke="#333" stroke-width="1.1"/>
<line x1="958.46" y1="358.01" x2="962.66" y2="358.01" stroke="#333" stroke-width="1.1"/>
<line x1="958.46" y1="375.44" x2="962.66" y2="375.44" stroke="#333" stroke-width="1.1"/>
<line x1="958.46" y1="392.87" x2="962.66" y2="392.87" stroke="#333" stroke-width="1.1"/>
<line x1="958.46" y1="410.3" x2="962.66" y2="410.3" stroke="#333" stroke-width="1.1"/>
<line x1="958.46" y1="427.73" x2="962.66" y2="427.73" stroke="#333" stroke-width="1.1"/>
<line x1="958.46" y1="445.16" x2="962.66" y2="445.16" stroke="#333" stroke-width="1.1"/>
<line x1="958.46" y1="462.59" x2="962.66" y2="462.59" stroke="#333" stroke-width="1.1"/>
<line x1="958.46" y1="480.02" x2="962.66" y2="480.02" stroke="#333" stroke-width="1.1"/>
<line x1="962.66" y1="488.73" x2="962.66" y2="493.23" stroke="#333" stroke-width="1.1"/>
<text x="962.66" y="509.43" class="b" font-size="16.2" text-anchor="middle" fill="#4d4d4d">−3</text>
<line x1="993.04" y1="488.73" x2="993.04" y2="493.23" stroke="#333" stroke-width="1.1"/>
<text x="993.04" y="509.43" class="b" font-size="16.2" text-anchor="middle" fill="#4d4d4d">−2</text>
<line x1="1023.42" y1="488.73" x2="1023.42" y2="493.23" stroke="#333" stroke-width="1.1"/>
<text x="1023.42" y="509.43" class="b" font-size="16.2" text-anchor="middle" fill="#4d4d4d">−1</text>
<line x1="1053.8" y1="488.73" x2="1053.8" y2="493.23" stroke="#333" stroke-width="1.1"/>
<text x="1053.8" y="509.43" class="b" font-size="16.2" text-anchor="middle" fill="#4d4d4d">0</text>
<line x1="1084.18" y1="488.73" x2="1084.18" y2="493.23" stroke="#333" stroke-width="1.1"/>
<text x="1084.18" y="509.43" class="b" font-size="16.2" text-anchor="middle" fill="#4d4d4d">1</text>
<line x1="1114.56" y1="488.73" x2="1114.56" y2="493.23" stroke="#333" stroke-width="1.1"/>
<text x="1114.56" y="509.43" class="b" font-size="16.2" text-anchor="middle" fill="#4d4d4d">2</text>
<line x1="1144.94" y1="488.73" x2="1144.94" y2="493.23" stroke="#333" stroke-width="1.1"/>
<text x="1144.94" y="509.43" class="b" font-size="16.2" text-anchor="middle" fill="#4d4d4d">3</text>
<text y="19.2" font-size="14.5" fill="#000"><tspan x="370.6">PRs</tspan><tspan x="405.3">vs</tspan><tspan x="424.3">GRs</tspan></text>
<text y="21" font-size="14.5" fill="#000"><tspan x="547.8">PRs</tspan><tspan x="580">ESR1</tspan><tspan x="653.4">vs</tspan><tspan x="672.4">GRs</tspan></text>
<text x="618.6" y="12.6" font-size="10.4" fill="#000">HIGH</text>
<text y="21.8" font-size="14.5" fill="#000"><tspan x="764.2">PRs</tspan><tspan x="796.2">ESR1</tspan><tspan x="866.8">vs</tspan><tspan x="886">GRs</tspan></text>
<text x="834.8" y="13.8" font-size="10.4" fill="#000">LOW</text>
<text y="21.8" font-size="14.5" fill="#000"><tspan x="946.6">PRs</tspan><tspan x="978.6">ESR1</tspan><tspan x="1049.8">vs</tspan><tspan x="1068.7">PRs</tspan><tspan x="1100.8">ESR1</tspan></text>
<text x="1017.4" y="14.6" font-size="10.4" fill="#000">LOW</text>
<text x="1139.5" y="14.6" font-size="10.4" fill="#000">HIGH</text>
<text x="560" y="543.2" font-size="22.1" fill="#000">Normalized Enrichment Score (NES)</text>
<line x1="1592.3" y1="428.7" x2="1592.3" y2="761.9" stroke="#c8c8c8" stroke-width="1.1"/>
<line x1="1592.3" y1="428.7" x2="1922.1" y2="428.7" stroke="#c8c8c8" stroke-width="1.1"/>
<line x1="1611.7" y1="428.7" x2="1611.7" y2="761.9" stroke="#c8c8c8" stroke-width="1.1"/>
<line x1="1592.3" y1="448.3" x2="1922.1" y2="448.3" stroke="#c8c8c8" stroke-width="1.1"/>
<line x1="1631.1" y1="428.7" x2="1631.1" y2="761.9" stroke="#c8c8c8" stroke-width="1.1"/>
<line x1="1592.3" y1="467.9" x2="1922.1" y2="467.9" stroke="#c8c8c8" stroke-width="1.1"/>
<line x1="1650.5" y1="428.7" x2="1650.5" y2="761.9" stroke="#c8c8c8" stroke-width="1.1"/>
<line x1="1592.3" y1="487.5" x2="1922.1" y2="487.5" stroke="#c8c8c8" stroke-width="1.1"/>
<line x1="1669.9" y1="428.7" x2="1669.9" y2="761.9" stroke="#c8c8c8" stroke-width="1.1"/>
<line x1="1592.3" y1="507.1" x2="1922.1" y2="507.1" stroke="#c8c8c8" stroke-width="1.1"/>
<line x1="1689.3" y1="428.7" x2="1689.3" y2="761.9" stroke="#c8c8c8" stroke-width="1.1"/>
<line x1="1592.3" y1="526.7" x2="1922.1" y2="526.7" stroke="#c8c8c8" stroke-width="1.1"/>
<line x1="1708.7" y1="428.7" x2="1708.7" y2="761.9" stroke="#c8c8c8" stroke-width="1.1"/>
<line x1="1592.3" y1="546.3" x2="1922.1" y2="546.3" stroke="#c8c8c8" stroke-width="1.1"/>
<line x1="1728.1" y1="428.7" x2="1728.1" y2="761.9" stroke="#c8c8c8" stroke-width="1.1"/>
<line x1="1592.3" y1="565.9" x2="1922.1" y2="565.9" stroke="#c8c8c8" stroke-width="1.1"/>
<line x1="1747.5" y1="428.7" x2="1747.5" y2="761.9" stroke="#c8c8c8" stroke-width="1.1"/>
<line x1="1592.3" y1="585.5" x2="1922.1" y2="585.5" stroke="#c8c8c8" stroke-width="1.1"/>
<line x1="1766.9" y1="428.7" x2="1766.9" y2="761.9" stroke="#c8c8c8" stroke-width="1.1"/>
<line x1="1592.3" y1="605.1" x2="1922.1" y2="605.1" stroke="#c8c8c8" stroke-width="1.1"/>
<line x1="1786.3" y1="428.7" x2="1786.3" y2="761.9" stroke="#c8c8c8" stroke-width="1.1"/>
<line x1="1592.3" y1="624.7" x2="1922.1" y2="624.7" stroke="#c8c8c8" stroke-width="1.1"/>
<line x1="1805.7" y1="428.7" x2="1805.7" y2="761.9" stroke="#c8c8c8" stroke-width="1.1"/>
<line x1="1592.3" y1="644.3" x2="1922.1" y2="644.3" stroke="#c8c8c8" stroke-width="1.1"/>
<line x1="1825.1" y1="428.7" x2="1825.1" y2="761.9" stroke="#c8c8c8" stroke-width="1.1"/>
<line x1="1592.3" y1="663.9" x2="1922.1" y2="663.9" stroke="#c8c8c8" stroke-width="1.1"/>
<line x1="1844.5" y1="428.7" x2="1844.5" y2="761.9" stroke="#c8c8c8" stroke-width="1.1"/>
<line x1="1592.3" y1="683.5" x2="1922.1" y2="683.5" stroke="#c8c8c8" stroke-width="1.1"/>
<line x1="1863.9" y1="428.7" x2="1863.9" y2="761.9" stroke="#c8c8c8" stroke-width="1.1"/>
<line x1="1592.3" y1="703.1" x2="1922.1" y2="703.1" stroke="#c8c8c8" stroke-width="1.1"/>
<line x1="1883.3" y1="428.7" x2="1883.3" y2="761.9" stroke="#c8c8c8" stroke-width="1.1"/>
<line x1="1592.3" y1="722.7" x2="1922.1" y2="722.7" stroke="#c8c8c8" stroke-width="1.1"/>
<line x1="1902.7" y1="428.7" x2="1902.7" y2="761.9" stroke="#c8c8c8" stroke-width="1.1"/>
<line x1="1592.3" y1="742.3" x2="1922.1" y2="742.3" stroke="#c8c8c8" stroke-width="1.1"/>
<line x1="1922.1" y1="428.7" x2="1922.1" y2="761.9" stroke="#c8c8c8" stroke-width="1.1"/>
<line x1="1592.3" y1="761.9" x2="1922.1" y2="761.9" stroke="#c8c8c8" stroke-width="1.1"/>
<circle cx="1602" cy="438.5" r="9.2" fill="#ff0000"/>
<circle cx="1621.4" cy="438.5" r="9.13" fill="#ff6000"/>
<circle cx="1640.8" cy="438.5" r="8.56" fill="#ffa600"/>
<circle cx="1660.2" cy="438.5" r="5.67" fill="#40ff00"/>
<circle cx="1679.6" cy="438.5" r="8.06" fill="#ffdf00"/>
<circle cx="1699" cy="438.5" r="6.94" fill="#acff00"/>
<circle cx="1718.4" cy="438.5" r="6.81" fill="#9fff00"/>
<circle cx="1737.8" cy="438.5" r="6.81" fill="#9fff00"/>
<circle cx="1757.2" cy="438.5" r="6.59" fill="#8cff00"/>
<circle cx="1776.6" cy="438.5" r="6.07" fill="#60ff00"/>
<circle cx="1796" cy="438.5" r="4.74" fill="#00ff00"/>
<circle cx="1815.4" cy="438.5" r="4.41" fill="#00ff13"/>
<circle cx="1834.8" cy="438.5" r="2.67" fill="#00ff60"/>
<circle cx="1854.2" cy="438.5" r="1.52" fill="#00ff79"/>
<circle cx="1873.6" cy="438.5" r="6.81" fill="#0060ff"/>
<circle cx="1893" cy="438.5" r="4.18" fill="#00ffdf"/>
<circle cx="1912.4" cy="438.5" r="4.18" fill="#00ffdf"/>
<circle cx="1602" cy="458.1" r="9.13" fill="#ff6000"/>
<circle cx="1621.4" cy="458.1" r="9.2" fill="#ff0000"/>
<circle cx="1640.8" cy="458.1" r="8.06" fill="#ffdf00"/>
<circle cx="1660.2" cy="458.1" r="5.91" fill="#53ff00"/>
<circle cx="1679.6" cy="458.1" r="8.17" fill="#ffd200"/>
<circle cx="1699" cy="458.1" r="7.14" fill="#bfff00"/>
<circle cx="1718.4" cy="458.1" r="7.14" fill="#bfff00"/>
<circle cx="1737.8" cy="458.1" r="6.81" fill="#9fff00"/>
<circle cx="1757.2" cy="458.1" r="6.59" fill="#8cff00"/>
<circle cx="1776.6" cy="458.1" r="6.45" fill="#80ff00"/>
<circle cx="1796" cy="458.1" r="5.41" fill="#2dff00"/>
<circle cx="1815.4" cy="458.1" r="4.94" fill="#0dff00"/>
<circle cx="1834.8" cy="458.1" r="3.22" fill="#00ff4d"/>
<circle cx="1854.2" cy="458.1" r="2.45" fill="#00ff66"/>
<circle cx="1873.6" cy="458.1" r="6.81" fill="#0060ff"/>
<circle cx="1893" cy="458.1" r="4.18" fill="#00ffdf"/>
<circle cx="1912.4" cy="458.1" r="3.94" fill="#00ffd2"/>
<circle cx="1602" cy="477.7" r="8.56" fill="#ffa600"/>
<circle cx="1621.4" cy="477.7" r="8.06" fill="#ffdf00"/>
<circle cx="1640.8" cy="477.7" r="9.2" fill="#ff0000"/>
<circle cx="1660.2" cy="477.7" r="6.67" fill="#93ff00"/>
<circle cx="1679.6" cy="477.7" r="7.46" fill="#dfff00"/>
<circle cx="1699" cy="477.7" r="7.71" fill="#f9ff00"/>
<circle cx="1718.4" cy="477.7" r="7.33" fill="#d2ff00"/>
<circle cx="1737.8" cy="477.7" r="7.14" fill="#bfff00"/>
<circle cx="1757.2" cy="477.7" r="6.94" fill="#acff00"/>
<circle cx="1776.6" cy="477.7" r="6.45" fill="#80ff00"/>
<circle cx="1796" cy="477.7" r="5.67" fill="#40ff00"/>
<circle cx="1815.4" cy="477.7" r="4.94" fill="#0dff00"/>
<circle cx="1834.8" cy="477.7" r="3.53" fill="#00ff40"/>
<circle cx="1854.2" cy="477.7" r="2.45" fill="#00ff66"/>
<circle cx="1873.6" cy="477.7" r="4.74" fill="#00ffff"/>
<circle cx="1893" cy="477.7" r="2.45" fill="#00ff66"/>
<circle cx="1912.4" cy="477.7" r="1.91" fill="#00ff73"/>
<circle cx="1602" cy="497.3" r="5.67" fill="#40ff00"/>
<circle cx="1621.4" cy="497.3" r="5.91" fill="#53ff00"/>
<circle cx="1640.8" cy="497.3" r="6.67" fill="#93ff00"/>
<circle cx="1660.2" cy="497.3" r="9.2" fill="#ff0000"/>
<circle cx="1679.6" cy="497.3" r="6.23" fill="#6cff00"/>
<circle cx="1699" cy="497.3" r="5.91" fill="#53ff00"/>
<circle cx="1718.4" cy="497.3" r="6.67" fill="#93ff00"/>
<circle cx="1737.8" cy="497.3" r="7.01" fill="#b2ff00"/>
<circle cx="1757.2" cy="497.3" r="6.07" fill="#60ff00"/>
<circle cx="1776.6" cy="497.3" r="6.45" fill="#80ff00"/>
<circle cx="1796" cy="497.3" r="5.67" fill="#40ff00"/>
<circle cx="1815.4" cy="497.3" r="5.22" fill="#20ff00"/>
<circle cx="1834.8" cy="497.3" r="4.52" fill="#00ff0d"/>
<circle cx="1854.2" cy="497.3" r="2.67" fill="#00ff60"/>
<circle cx="1873.6" cy="497.3" r="4.74" fill="#00ffff"/>
<circle cx="1893" cy="497.3" r="4.18" fill="#00ff20"/>
<circle cx="1912.4" cy="497.3" r="2.2" fill="#00ff6c"/>
<circle cx="1602" cy="516.9" r="8.06" fill="#ffdf00"/>
<circle cx="1621.4" cy="516.9" r="8.17" fill="#ffd200"/>
<circle cx="1640.8" cy="516.9" r="7.46" fill="#dfff00"/>
<circle cx="1660.2" cy="516.9" r="6.23" fill="#6cff00"/>
<circle cx="1679.6" cy="516.9" r="9.2" fill="#ff0000"/>
<circle cx="1699" cy="516.9" r="8.93" fill="#ff7900"/>
<circle cx="1718.4" cy="516.9" r="9.18" fill="#ff5900"/>
<circle cx="1737.8" cy="516.9" r="9.08" fill="#ff6600"/>
<circle cx="1757.2" cy="516.9" r="9.03" fill="#ff6c00"/>
<circle cx="1776.6" cy="516.9" r="9.03" fill="#ff6c00"/>
<circle cx="1796" cy="516.9" r="8.5" fill="#ffac00"/>
<circle cx="1815.4" cy="516.9" r="7.77" fill="#ffff00"/>
<circle cx="1834.8" cy="516.9" r="6.45" fill="#80ff00"/>
<circle cx="1854.2" cy="516.9" r="3.22" fill="#00ffb3"/>
<circle cx="1873.6" cy="516.9" r="6.81" fill="#0060ff"/>
<circle cx="1893" cy="516.9" r="5.67" fill="#00bfff"/>
<circle cx="1912.4" cy="516.9" r="5.67" fill="#00bfff"/>
<circle cx="1602" cy="536.5" r="6.94" fill="#acff00"/>
<circle cx="1621.4" cy="536.5" r="7.14" fill="#bfff00"/>
<circle cx="1640.8" cy="536.5" r="7.71" fill="#f9ff00"/>
<circle cx="1660.2" cy="536.5" r="5.91" fill="#53ff00"/>
<circle cx="1679.6" cy="536.5" r="8.93" fill="#ff7900"/>
<circle cx="1699" cy="536.5" r="9.2" fill="#ff0000"/>
<circle cx="1718.4" cy="536.5" r="9.08" fill="#ff6600"/>
<circle cx="1737.8" cy="536.5" r="8.98" fill="#ff7300"/>
<circle cx="1757.2" cy="536.5" r="9.2" fill="#ff4d00"/>
<circle cx="1776.6" cy="536.5" r="9.08" fill="#ff6600"/>
<circle cx="1796" cy="536.5" r="8.5" fill="#ffac00"/>
<circle cx="1815.4" cy="536.5" r="8.28" fill="#ffc600"/>
<circle cx="1834.8" cy="536.5" r="7.46" fill="#dfff00"/>
<circle cx="1854.2" cy="536.5" r="2.67" fill="#00ff60"/>
<circle cx="1873.6" cy="536.5" r="5.22" fill="#00dfff"/>
<circle cx="1893" cy="536.5" r="4.41" fill="#00ffec"/>
<circle cx="1912.4" cy="536.5" r="4.41" fill="#00ffec"/>
<circle cx="1602" cy="556.1" r="6.81" fill="#9fff00"/>
<circle cx="1621.4" cy="556.1" r="7.14" fill="#bfff00"/>
<circle cx="1640.8" cy="556.1" r="7.33" fill="#d2ff00"/>
<circle cx="1660.2" cy="556.1" r="6.67" fill="#93ff00"/>
<circle cx="1679.6" cy="556.1" r="9.18" fill="#ff5900"/>
<circle cx="1699" cy="556.1" r="9.08" fill="#ff6600"/>
<circle cx="1718.4" cy="556.1" r="9.2" fill="#ff0000"/>
<circle cx="1737.8" cy="556.1" r="9.2" fill="#ff2d00"/>
<circle cx="1757.2" cy="556.1" r="9.2" fill="#ff2d00"/>
<circle cx="1776.6" cy="556.1" r="9.2" fill="#ff2600"/>
<circle cx="1796" cy="556.1" r="9.2" fill="#ff4000"/>
<circle cx="1815.4" cy="556.1" r="8.72" fill="#ff9300"/>
<circle cx="1834.8" cy="556.1" r="7.77" fill="#ffff00"/>
<circle cx="1854.2" cy="556.1" r="3.53" fill="#00ff40"/>
<circle cx="1873.6" cy="556.1" r="4.52" fill="#00fff2"/>
<circle cx="1893" cy="556.1" r="5.49" fill="#00ccff"/>
<circle cx="1912.4" cy="556.1" r="5.83" fill="#00b2ff"/>
<circle cx="1602" cy="575.7" r="6.81" fill="#9fff00"/>
<circle cx="1621.4" cy="575.7" r="6.81" fill="#9fff00"/>
<circle cx="1640.8" cy="575.7" r="7.14" fill="#bfff00"/>
<circle cx="1660.2" cy="575.7" r="7.01" fill="#b2ff00"/>
<circle cx="1679.6" cy="575.7" r="9.08" fill="#ff6600"/>
<circle cx="1699" cy="575.7" r="8.98" fill="#ff7300"/>
<circle cx="1718.4" cy="575.7" r="9.2" fill="#ff2d00"/>
<circle cx="1737.8" cy="575.7" r="9.2" fill="#ff0000"/>
<circle cx="1757.2" cy="575.7" r="9.2" fill="#ff2d00"/>
<circle cx="1776.6" cy="575.7" r="9.2" fill="#ff2d00"/>
<circle cx="1796" cy="575.7" r="9.2" fill="#ff4000"/>
<circle cx="1815.4" cy="575.7" r="8.77" fill="#ff8c00"/>
<circle cx="1834.8" cy="575.7" r="8" fill="#ffe500"/>
<circle cx="1854.2" cy="575.7" r="3.22" fill="#00ff4d"/>
<circle cx="1873.6" cy="575.7" r="4.74" fill="#00ffff"/>
<circle cx="1893" cy="575.7" r="4.3" fill="#00ffe5"/>
<circle cx="1912.4" cy="575.7" r="5.22" fill="#00dfff"/>
<circle cx="1602" cy="595.3" r="6.59" fill="#8cff00"/>
<circle cx="1621.4" cy="595.3" r="6.59" fill="#8cff00"/>
<circle cx="1640.8" cy="595.3" r="6.94" fill="#acff00"/>
<circle cx="1660.2" cy="595.3" r="6.07" fill="#60ff00"/>
<circle cx="1679.6" cy="595.3" r="9.03" fill="#ff6c00"/>
<circle cx="1699" cy="595.3" r="9.2" fill="#ff4d00"/>
<circle cx="1718.4" cy="595.3" r="9.2" fill="#ff2d00"/>
<circle cx="1737.8" cy="595.3" r="9.2" fill="#ff2d00"/>
<circle cx="1757.2" cy="595.3" r="9.2" fill="#ff0000"/>
<circle cx="1776.6" cy="595.3" r="9.2" fill="#ff2600"/>
<circle cx="1796" cy="595.3" r="9.2" fill="#ff4000"/>
<circle cx="1815.4" cy="595.3" r="8.87" fill="#ff7f00"/>
<circle cx="1834.8" cy="595.3" r="8.17" fill="#ffd200"/>
<circle cx="1854.2" cy="595.3" r="2.87" fill="#00ff59"/>
<circle cx="1873.6" cy="595.3" r="4.41" fill="#00ffec"/>
<circle cx="1893" cy="595.3" r="5.22" fill="#00dfff"/>
<circle cx="1912.4" cy="595.3" r="5.67" fill="#00bfff"/>
<circle cx="1602" cy="614.9" r="6.07" fill="#60ff00"/>
<circle cx="1621.4" cy="614.9" r="6.45" fill="#80ff00"/>
<circle cx="1640.8" cy="614.9" r="6.45" fill="#80ff00"/>
<circle cx="1660.2" cy="614.9" r="6.45" fill="#80ff00"/>
<circle cx="1679.6" cy="614.9" r="9.03" fill="#ff6c00"/>
<circle cx="1699" cy="614.9" r="9.08" fill="#ff6600"/>
<circle cx="1718.4" cy="614.9" r="9.2" fill="#ff2600"/>
<circle cx="1737.8" cy="614.9" r="9.2" fill="#ff2d00"/>
<circle cx="1757.2" cy="614.9" r="9.2" fill="#ff2600"/>
<circle cx="1776.6" cy="614.9" r="9.2" fill="#ff0000"/>
<circle cx="1796" cy="614.9" r="9.2" fill="#ff2000"/>
<circle cx="1815.4" cy="614.9" r="8.87" fill="#ff7f00"/>
<circle cx="1834.8" cy="614.9" r="8.06" fill="#ffdf00"/>
<circle cx="1854.2" cy="614.9" r="3.05" fill="#00ff53"/>
<circle cx="1873.6" cy="614.9" r="4.41" fill="#00ffec"/>
<circle cx="1893" cy="614.9" r="5.41" fill="#00d2ff"/>
<circle cx="1912.4" cy="614.9" r="5.91" fill="#00acff"/>
<circle cx="1602" cy="634.5" r="4.74" fill="#00ff00"/>
<circle cx="1621.4" cy="634.5" r="5.41" fill="#2dff00"/>
<circle cx="1640.8" cy="634.5" r="5.67" fill="#40ff00"/>
<circle cx="1660.2" cy="634.5" r="5.67" fill="#40ff00"/>
<circle cx="1679.6" cy="634.5" r="8.5" fill="#ffac00"/>
<circle cx="1699" cy="634.5" r="8.5" fill="#ffac00"/>
<circle cx="1718.4" cy="634.5" r="9.2" fill="#ff4000"/>
<circle cx="1737.8" cy="634.5" r="9.2" fill="#ff4000"/>
<circle cx="1757.2" cy="634.5" r="9.2" fill="#ff4000"/>
<circle cx="1776.6" cy="634.5" r="9.2" fill="#ff2000"/>
<circle cx="1796" cy="634.5" r="9.2" fill="#ff0000"/>
<circle cx="1815.4" cy="634.5" r="9.03" fill="#ff6c00"/>
<circle cx="1834.8" cy="634.5" r="8.23" fill="#ffcc00"/>
<circle cx="1854.2" cy="634.5" r="3.05" fill="#00ff53"/>
<circle cx="1873.6" cy="634.5" r="2.67" fill="#00ff9f"/>
<circle cx="1893" cy="634.5" r="5.67" fill="#00bfff"/>
<circle cx="1912.4" cy="634.5" r="6.15" fill="#0099ff"/>
<circle cx="1602" cy="654.1" r="4.41" fill="#00ff13"/>
<circle cx="1621.4" cy="654.1" r="4.94" fill="#0dff00"/>
<circle cx="1640.8" cy="654.1" r="4.94" fill="#0dff00"/>
<circle cx="1660.2" cy="654.1" r="5.22" fill="#20ff00"/>
<circle cx="1679.6" cy="654.1" r="7.77" fill="#ffff00"/>
<circle cx="1699" cy="654.1" r="8.28" fill="#ffc600"/>
<circle cx="1718.4" cy="654.1" r="8.72" fill="#ff9300"/>
<circle cx="1737.8" cy="654.1" r="8.77" fill="#ff8c00"/>
<circle cx="1757.2" cy="654.1" r="8.87" fill="#ff7f00"/>
<circle cx="1776.6" cy="654.1" r="8.87" fill="#ff7f00"/>
<circle cx="1796" cy="654.1" r="9.03" fill="#ff6c00"/>
<circle cx="1815.4" cy="654.1" r="9.2" fill="#ff0000"/>
<circle cx="1834.8" cy="654.1" r="9.2" fill="#ff2000"/>
<circle cx="1854.2" cy="654.1" r="4.3" fill="#00ff19"/>
<circle cx="1873.6" cy="654.1" r="1.52" fill="#00ff79"/>
<circle cx="1893" cy="654.1" r="4.52" fill="#00fff2"/>
<circle cx="1912.4" cy="654.1" r="5.22" fill="#00dfff"/>
<circle cx="1602" cy="673.7" r="2.67" fill="#00ff60"/>
<circle cx="1621.4" cy="673.7" r="3.22" fill="#00ff4d"/>
<circle cx="1640.8" cy="673.7" r="3.53" fill="#00ff40"/>
<circle cx="1660.2" cy="673.7" r="4.52" fill="#00ff0d"/>
<circle cx="1679.6" cy="673.7" r="6.45" fill="#80ff00"/>
<circle cx="1699" cy="673.7" r="7.46" fill="#dfff00"/>
<circle cx="1718.4" cy="673.7" r="7.77" fill="#ffff00"/>
<circle cx="1737.8" cy="673.7" r="8" fill="#ffe500"/>
<circle cx="1757.2" cy="673.7" r="8.17" fill="#ffd200"/>
<circle cx="1776.6" cy="673.7" r="8.06" fill="#ffdf00"/>
<circle cx="1796" cy="673.7" r="8.23" fill="#ffcc00"/>
<circle cx="1815.4" cy="673.7" r="9.2" fill="#ff2000"/>
<circle cx="1834.8" cy="673.7" r="9.2" fill="#ff0000"/>
<circle cx="1854.2" cy="673.7" r="4.18" fill="#00ff20"/>
<circle cx="1873.6" cy="673.7" r="2.2" fill="#00ff6c"/>
<circle cx="1893" cy="673.7" r="2.45" fill="#00ff99"/>
<circle cx="1912.4" cy="673.7" r="3.8" fill="#00ffcc"/>
<circle cx="1602" cy="693.3" r="1.52" fill="#00ff79"/>
<circle cx="1621.4" cy="693.3" r="2.45" fill="#00ff66"/>
<circle cx="1640.8" cy="693.3" r="2.45" fill="#00ff66"/>
<circle cx="1660.2" cy="693.3" r="2.67" fill="#00ff60"/>
<circle cx="1679.6" cy="693.3" r="3.22" fill="#00ffb3"/>
<circle cx="1699" cy="693.3" r="2.67" fill="#00ff60"/>
<circle cx="1718.4" cy="693.3" r="3.53" fill="#00ff40"/>
<circle cx="1737.8" cy="693.3" r="3.22" fill="#00ff4d"/>
<circle cx="1757.2" cy="693.3" r="2.87" fill="#00ff59"/>
<circle cx="1776.6" cy="693.3" r="3.05" fill="#00ff53"/>
<circle cx="1796" cy="693.3" r="3.05" fill="#00ff53"/>
<circle cx="1815.4" cy="693.3" r="4.3" fill="#00ff19"/>
<circle cx="1834.8" cy="693.3" r="4.18" fill="#00ff20"/>
<circle cx="1854.2" cy="693.3" r="9.2" fill="#ff0000"/>
<circle cx="1873.6" cy="693.3" r="8.5" fill="#ffac00"/>
<circle cx="1893" cy="693.3" r="2.67" fill="#00ff60"/>
<circle cx="1912.4" cy="693.3" r="4.52" fill="#00fff2"/>
<circle cx="1602" cy="712.9" r="6.81" fill="#0060ff"/>
<circle cx="1621.4" cy="712.9" r="6.81" fill="#0060ff"/>
<circle cx="1640.8" cy="712.9" r="4.74" fill="#00ffff"/>
<circle cx="1660.2" cy="712.9" r="4.74" fill="#00ffff"/>
<circle cx="1679.6" cy="712.9" r="6.81" fill="#0060ff"/>
<circle cx="1699" cy="712.9" r="5.22" fill="#00dfff"/>
<circle cx="1718.4" cy="712.9" r="4.52" fill="#00fff2"/>
<circle cx="1737.8" cy="712.9" r="4.74" fill="#00ffff"/>
<circle cx="1757.2" cy="712.9" r="4.41" fill="#00ffec"/>
<circle cx="1776.6" cy="712.9" r="4.41" fill="#00ffec"/>
<circle cx="1796" cy="712.9" r="2.67" fill="#00ff9f"/>
<circle cx="1815.4" cy="712.9" r="1.52" fill="#00ff79"/>
<circle cx="1834.8" cy="712.9" r="2.2" fill="#00ff6c"/>
<circle cx="1854.2" cy="712.9" r="8.5" fill="#ffac00"/>
<circle cx="1873.6" cy="712.9" r="9.2" fill="#ff0000"/>
<circle cx="1893" cy="712.9" r="4.18" fill="#00ff20"/>
<circle cx="1912.4" cy="712.9" r="2.67" fill="#00ff9f"/>
<circle cx="1602" cy="732.5" r="4.18" fill="#00ffdf"/>
<circle cx="1621.4" cy="732.5" r="4.18" fill="#00ffdf"/>
<circle cx="1640.8" cy="732.5" r="2.45" fill="#00ff66"/>
<circle cx="1660.2" cy="732.5" r="4.18" fill="#00ff20"/>
<circle cx="1679.6" cy="732.5" r="5.67" fill="#00bfff"/>
<circle cx="1699" cy="732.5" r="4.41" fill="#00ffec"/>
<circle cx="1718.4" cy="732.5" r="5.49" fill="#00ccff"/>
<circle cx="1737.8" cy="732.5" r="4.3" fill="#00ffe5"/>
<circle cx="1757.2" cy="732.5" r="5.22" fill="#00dfff"/>
<circle cx="1776.6" cy="732.5" r="5.41" fill="#00d2ff"/>
<circle cx="1796" cy="732.5" r="5.67" fill="#00bfff"/>
<circle cx="1815.4" cy="732.5" r="4.52" fill="#00fff2"/>
<circle cx="1834.8" cy="732.5" r="2.45" fill="#00ff99"/>
<circle cx="1854.2" cy="732.5" r="2.67" fill="#00ff60"/>
<circle cx="1873.6" cy="732.5" r="4.18" fill="#00ff20"/>
<circle cx="1893" cy="732.5" r="9.2" fill="#ff0000"/>
<circle cx="1912.4" cy="732.5" r="9.2" fill="#ff5300"/>
<circle cx="1602" cy="752.1" r="4.18" fill="#00ffdf"/>
<circle cx="1621.4" cy="752.1" r="3.94" fill="#00ffd2"/>
<circle cx="1640.8" cy="752.1" r="1.91" fill="#00ff73"/>
<circle cx="1660.2" cy="752.1" r="2.2" fill="#00ff6c"/>
<circle cx="1679.6" cy="752.1" r="5.67" fill="#00bfff"/>
<circle cx="1699" cy="752.1" r="4.41" fill="#00ffec"/>
<circle cx="1718.4" cy="752.1" r="5.83" fill="#00b2ff"/>
<circle cx="1737.8" cy="752.1" r="5.22" fill="#00dfff"/>
<circle cx="1757.2" cy="752.1" r="5.67" fill="#00bfff"/>
<circle cx="1776.6" cy="752.1" r="5.91" fill="#00acff"/>
<circle cx="1796" cy="752.1" r="6.15" fill="#0099ff"/>
<circle cx="1815.4" cy="752.1" r="5.22" fill="#00dfff"/>
<circle cx="1834.8" cy="752.1" r="3.8" fill="#00ffcc"/>
<circle cx="1854.2" cy="752.1" r="4.52" fill="#00fff2"/>
<circle cx="1873.6" cy="752.1" r="2.67" fill="#00ff9f"/>
<circle cx="1893" cy="752.1" r="9.2" fill="#ff5300"/>
<circle cx="1912.4" cy="752.1" r="9.2" fill="#ff0000"/>
<circle cx="1609.9" cy="430.8" r="1.75" fill="#000"/>
<circle cx="1629.3" cy="430.8" r="1.75" fill="#000"/>
<circle cx="1648.7" cy="430.8" r="1.75" fill="#000"/>
<circle cx="1668.1" cy="430.8" r="1.75" fill="#000"/>
<circle cx="1687.5" cy="430.8" r="1.75" fill="#000"/>
<circle cx="1706.9" cy="430.8" r="1.75" fill="#000"/>
<circle cx="1726.3" cy="430.8" r="1.75" fill="#000"/>
<circle cx="1745.7" cy="430.8" r="1.75" fill="#000"/>
<circle cx="1765.1" cy="430.8" r="1.75" fill="#000"/>
<circle cx="1784.5" cy="430.8" r="1.75" fill="#000"/>
<circle cx="1803.9" cy="430.8" r="1.75" fill="#000"/>
<circle cx="1823.3" cy="430.8" r="1.75" fill="#000"/>
<circle cx="1881.5" cy="430.8" r="1.75" fill="#000"/>
<circle cx="1609.9" cy="450.4" r="1.75" fill="#000"/>
<circle cx="1629.3" cy="450.4" r="1.75" fill="#000"/>
<circle cx="1648.7" cy="450.4" r="1.75" fill="#000"/>
<circle cx="1668.1" cy="450.4" r="1.75" fill="#000"/>
<circle cx="1687.5" cy="450.4" r="1.75" fill="#000"/>
<circle cx="1706.9" cy="450.4" r="1.75" fill="#000"/>
<circle cx="1726.3" cy="450.4" r="1.75" fill="#000"/>
<circle cx="1745.7" cy="450.4" r="1.75" fill="#000"/>
<circle cx="1765.1" cy="450.4" r="1.75" fill="#000"/>
<circle cx="1784.5" cy="450.4" r="1.75" fill="#000"/>
<circle cx="1803.9" cy="450.4" r="1.75" fill="#000"/>
<circle cx="1823.3" cy="450.4" r="1.75" fill="#000"/>
<circle cx="1842.7" cy="450.4" r="1.75" fill="#000"/>
<circle cx="1881.5" cy="450.4" r="1.75" fill="#000"/>
<circle cx="1609.9" cy="470" r="1.75" fill="#000"/>
<circle cx="1629.3" cy="470" r="1.75" fill="#000"/>
<circle cx="1648.7" cy="470" r="1.75" fill="#000"/>
<circle cx="1668.1" cy="470" r="1.75" fill="#000"/>
<circle cx="1687.5" cy="470" r="1.75" fill="#000"/>
<circle cx="1706.9" cy="470" r="1.75" fill="#000"/>
<circle cx="1726.3" cy="470" r="1.75" fill="#000"/>
<circle cx="1745.7" cy="470" r="1.75" fill="#000"/>
<circle cx="1765.1" cy="470" r="1.75" fill="#000"/>
<circle cx="1784.5" cy="470" r="1.75" fill="#000"/>
<circle cx="1803.9" cy="470" r="1.75" fill="#000"/>
<circle cx="1823.3" cy="470" r="1.75" fill="#000"/>
<circle cx="1842.7" cy="470" r="1.75" fill="#000"/>
<circle cx="1881.5" cy="470" r="1.75" fill="#000"/>
<circle cx="1609.9" cy="489.6" r="1.75" fill="#000"/>
<circle cx="1629.3" cy="489.6" r="1.75" fill="#000"/>
<circle cx="1648.7" cy="489.6" r="1.75" fill="#000"/>
<circle cx="1668.1" cy="489.6" r="1.75" fill="#000"/>
<circle cx="1687.5" cy="489.6" r="1.75" fill="#000"/>
<circle cx="1706.9" cy="489.6" r="1.75" fill="#000"/>
<circle cx="1726.3" cy="489.6" r="1.75" fill="#000"/>
<circle cx="1745.7" cy="489.6" r="1.75" fill="#000"/>
<circle cx="1765.1" cy="489.6" r="1.75" fill="#000"/>
<circle cx="1784.5" cy="489.6" r="1.75" fill="#000"/>
<circle cx="1803.9" cy="489.6" r="1.75" fill="#000"/>
<circle cx="1823.3" cy="489.6" r="1.75" fill="#000"/>
<circle cx="1842.7" cy="489.6" r="1.75" fill="#000"/>
<circle cx="1881.5" cy="489.6" r="1.75" fill="#000"/>
<circle cx="1900.9" cy="489.6" r="1.75" fill="#000"/>
<circle cx="1609.9" cy="509.2" r="1.75" fill="#000"/>
<circle cx="1629.3" cy="509.2" r="1.75" fill="#000"/>
<circle cx="1648.7" cy="509.2" r="1.75" fill="#000"/>
<circle cx="1668.1" cy="509.2" r="1.75" fill="#000"/>
<circle cx="1687.5" cy="509.2" r="1.75" fill="#000"/>
<circle cx="1706.9" cy="509.2" r="1.75" fill="#000"/>
<circle cx="1726.3" cy="509.2" r="1.75" fill="#000"/>
<circle cx="1745.7" cy="509.2" r="1.75" fill="#000"/>
<circle cx="1765.1" cy="509.2" r="1.75" fill="#000"/>
<circle cx="1784.5" cy="509.2" r="1.75" fill="#000"/>
<circle cx="1803.9" cy="509.2" r="1.75" fill="#000"/>
<circle cx="1823.3" cy="509.2" r="1.75" fill="#000"/>
<circle cx="1842.7" cy="509.2" r="1.75" fill="#000"/>
<circle cx="1881.5" cy="509.2" r="1.75" fill="#000"/>
<circle cx="1900.9" cy="509.2" r="1.75" fill="#000"/>
<circle cx="1920.3" cy="509.2" r="1.75" fill="#000"/>
<circle cx="1609.9" cy="528.8" r="1.75" fill="#000"/>
<circle cx="1629.3" cy="528.8" r="1.75" fill="#000"/>
<circle cx="1648.7" cy="528.8" r="1.75" fill="#000"/>
<circle cx="1668.1" cy="528.8" r="1.75" fill="#000"/>
<circle cx="1687.5" cy="528.8" r="1.75" fill="#000"/>
<circle cx="1706.9" cy="528.8" r="1.75" fill="#000"/>
<circle cx="1726.3" cy="528.8" r="1.75" fill="#000"/>
<circle cx="1745.7" cy="528.8" r="1.75" fill="#000"/>
<circle cx="1765.1" cy="528.8" r="1.75" fill="#000"/>
<circle cx="1784.5" cy="528.8" r="1.75" fill="#000"/>
<circle cx="1803.9" cy="528.8" r="1.75" fill="#000"/>
<circle cx="1823.3" cy="528.8" r="1.75" fill="#000"/>
<circle cx="1842.7" cy="528.8" r="1.75" fill="#000"/>
<circle cx="1881.5" cy="528.8" r="1.75" fill="#000"/>
<circle cx="1609.9" cy="548.4" r="1.75" fill="#000"/>
<circle cx="1629.3" cy="548.4" r="1.75" fill="#000"/>
<circle cx="1648.7" cy="548.4" r="1.75" fill="#000"/>
<circle cx="1668.1" cy="548.4" r="1.75" fill="#000"/>
<circle cx="1687.5" cy="548.4" r="1.75" fill="#000"/>
<circle cx="1706.9" cy="548.4" r="1.75" fill="#000"/>
<circle cx="1726.3" cy="548.4" r="1.75" fill="#000"/>
<circle cx="1745.7" cy="548.4" r="1.75" fill="#000"/>
<circle cx="1765.1" cy="548.4" r="1.75" fill="#000"/>
<circle cx="1784.5" cy="548.4" r="1.75" fill="#000"/>
<circle cx="1803.9" cy="548.4" r="1.75" fill="#000"/>
<circle cx="1823.3" cy="548.4" r="1.75" fill="#000"/>
<circle cx="1842.7" cy="548.4" r="1.75" fill="#000"/>
<circle cx="1900.9" cy="548.4" r="1.75" fill="#000"/>
<circle cx="1920.3" cy="548.4" r="1.75" fill="#000"/>
<circle cx="1609.9" cy="568" r="1.75" fill="#000"/>
<circle cx="1629.3" cy="568" r="1.75" fill="#000"/>
<circle cx="1648.7" cy="568" r="1.75" fill="#000"/>
<circle cx="1668.1" cy="568" r="1.75" fill="#000"/>
<circle cx="1687.5" cy="568" r="1.75" fill="#000"/>
<circle cx="1706.9" cy="568" r="1.75" fill="#000"/>
<circle cx="1726.3" cy="568" r="1.75" fill="#000"/>
<circle cx="1745.7" cy="568" r="1.75" fill="#000"/>
<circle cx="1765.1" cy="568" r="1.75" fill="#000"/>
<circle cx="1784.5" cy="568" r="1.75" fill="#000"/>
<circle cx="1803.9" cy="568" r="1.75" fill="#000"/>
<circle cx="1823.3" cy="568" r="1.75" fill="#000"/>
<circle cx="1842.7" cy="568" r="1.75" fill="#000"/>
<circle cx="1881.5" cy="568" r="1.75" fill="#000"/>
<circle cx="1920.3" cy="568" r="1.75" fill="#000"/>
<circle cx="1609.9" cy="587.6" r="1.75" fill="#000"/>
<circle cx="1629.3" cy="587.6" r="1.75" fill="#000"/>
<circle cx="1648.7" cy="587.6" r="1.75" fill="#000"/>
<circle cx="1668.1" cy="587.6" r="1.75" fill="#000"/>
<circle cx="1687.5" cy="587.6" r="1.75" fill="#000"/>
<circle cx="1706.9" cy="587.6" r="1.75" fill="#000"/>
<circle cx="1726.3" cy="587.6" r="1.75" fill="#000"/>
<circle cx="1745.7" cy="587.6" r="1.75" fill="#000"/>
<circle cx="1765.1" cy="587.6" r="1.75" fill="#000"/>
<circle cx="1784.5" cy="587.6" r="1.75" fill="#000"/>
<circle cx="1803.9" cy="587.6" r="1.75" fill="#000"/>
<circle cx="1823.3" cy="587.6" r="1.75" fill="#000"/>
<circle cx="1842.7" cy="587.6" r="1.75" fill="#000"/>
<circle cx="1881.5" cy="587.6" r="1.75" fill="#000"/>
<circle cx="1900.9" cy="587.6" r="1.75" fill="#000"/>
<circle cx="1920.3" cy="587.6" r="1.75" fill="#000"/>
<circle cx="1609.9" cy="607.2" r="1.75" fill="#000"/>
<circle cx="1629.3" cy="607.2" r="1.75" fill="#000"/>
<circle cx="1648.7" cy="607.2" r="1.75" fill="#000"/>
<circle cx="1668.1" cy="607.2" r="1.75" fill="#000"/>
<circle cx="1687.5" cy="607.2" r="1.75" fill="#000"/>
<circle cx="1706.9" cy="607.2" r="1.75" fill="#000"/>
<circle cx="1726.3" cy="607.2" r="1.75" fill="#000"/>
<circle cx="1745.7" cy="607.2" r="1.75" fill="#000"/>
<circle cx="1765.1" cy="607.2" r="1.75" fill="#000"/>
<circle cx="1784.5" cy="607.2" r="1.75" fill="#000"/>
<circle cx="1803.9" cy="607.2" r="1.75" fill="#000"/>
<circle cx="1823.3" cy="607.2" r="1.75" fill="#000"/>
<circle cx="1842.7" cy="607.2" r="1.75" fill="#000"/>
<circle cx="1881.5" cy="607.2" r="1.75" fill="#000"/>
<circle cx="1900.9" cy="607.2" r="1.75" fill="#000"/>
<circle cx="1920.3" cy="607.2" r="1.75" fill="#000"/>
<circle cx="1609.9" cy="626.8" r="1.75" fill="#000"/>
<circle cx="1629.3" cy="626.8" r="1.75" fill="#000"/>
<circle cx="1648.7" cy="626.8" r="1.75" fill="#000"/>
<circle cx="1668.1" cy="626.8" r="1.75" fill="#000"/>
<circle cx="1687.5" cy="626.8" r="1.75" fill="#000"/>
<circle cx="1706.9" cy="626.8" r="1.75" fill="#000"/>
<circle cx="1726.3" cy="626.8" r="1.75" fill="#000"/>
<circle cx="1745.7" cy="626.8" r="1.75" fill="#000"/>
<circle cx="1765.1" cy="626.8" r="1.75" fill="#000"/>
<circle cx="1784.5" cy="626.8" r="1.75" fill="#000"/>
<circle cx="1803.9" cy="626.8" r="1.75" fill="#000"/>
<circle cx="1823.3" cy="626.8" r="1.75" fill="#000"/>
<circle cx="1842.7" cy="626.8" r="1.75" fill="#000"/>
<circle cx="1900.9" cy="626.8" r="1.75" fill="#000"/>
<circle cx="1920.3" cy="626.8" r="1.75" fill="#000"/>
<circle cx="1609.9" cy="646.4" r="1.75" fill="#000"/>
<circle cx="1629.3" cy="646.4" r="1.75" fill="#000"/>
<circle cx="1648.7" cy="646.4" r="1.75" fill="#000"/>
<circle cx="1668.1" cy="646.4" r="1.75" fill="#000"/>
<circle cx="1687.5" cy="646.4" r="1.75" fill="#000"/>
<circle cx="1706.9" cy="646.4" r="1.75" fill="#000"/>
<circle cx="1726.3" cy="646.4" r="1.75" fill="#000"/>
<circle cx="1745.7" cy="646.4" r="1.75" fill="#000"/>
<circle cx="1765.1" cy="646.4" r="1.75" fill="#000"/>
<circle cx="1784.5" cy="646.4" r="1.75" fill="#000"/>
<circle cx="1803.9" cy="646.4" r="1.75" fill="#000"/>
<circle cx="1823.3" cy="646.4" r="1.75" fill="#000"/>
<circle cx="1842.7" cy="646.4" r="1.75" fill="#000"/>
<circle cx="1862.1" cy="646.4" r="1.75" fill="#000"/>
<circle cx="1900.9" cy="646.4" r="1.75" fill="#000"/>
<circle cx="1920.3" cy="646.4" r="1.75" fill="#000"/>
<circle cx="1629.3" cy="666" r="1.75" fill="#000"/>
<circle cx="1648.7" cy="666" r="1.75" fill="#000"/>
<circle cx="1668.1" cy="666" r="1.75" fill="#000"/>
<circle cx="1687.5" cy="666" r="1.75" fill="#000"/>
<circle cx="1706.9" cy="666" r="1.75" fill="#000"/>
<circle cx="1726.3" cy="666" r="1.75" fill="#000"/>
<circle cx="1745.7" cy="666" r="1.75" fill="#000"/>
<circle cx="1765.1" cy="666" r="1.75" fill="#000"/>
<circle cx="1784.5" cy="666" r="1.75" fill="#000"/>
<circle cx="1803.9" cy="666" r="1.75" fill="#000"/>
<circle cx="1823.3" cy="666" r="1.75" fill="#000"/>
<circle cx="1842.7" cy="666" r="1.75" fill="#000"/>
<circle cx="1862.1" cy="666" r="1.75" fill="#000"/>
<circle cx="1726.3" cy="685.6" r="1.75" fill="#000"/>
<circle cx="1823.3" cy="685.6" r="1.75" fill="#000"/>
<circle cx="1842.7" cy="685.6" r="1.75" fill="#000"/>
<circle cx="1862.1" cy="685.6" r="1.75" fill="#000"/>
<circle cx="1881.5" cy="685.6" r="1.75" fill="#000"/>
<circle cx="1920.3" cy="685.6" r="1.75" fill="#000"/>
<circle cx="1609.9" cy="705.2" r="1.75" fill="#000"/>
<circle cx="1629.3" cy="705.2" r="1.75" fill="#000"/>
<circle cx="1648.7" cy="705.2" r="1.75" fill="#000"/>
<circle cx="1668.1" cy="705.2" r="1.75" fill="#000"/>
<circle cx="1687.5" cy="705.2" r="1.75" fill="#000"/>
<circle cx="1706.9" cy="705.2" r="1.75" fill="#000"/>
<circle cx="1726.3" cy="705.2" r="1.75" fill="#000"/>
<circle cx="1745.7" cy="705.2" r="1.75" fill="#000"/>
<circle cx="1765.1" cy="705.2" r="1.75" fill="#000"/>
<circle cx="1784.5" cy="705.2" r="1.75" fill="#000"/>
<circle cx="1862.1" cy="705.2" r="1.75" fill="#000"/>
<circle cx="1881.5" cy="705.2" r="1.75" fill="#000"/>
<circle cx="1900.9" cy="705.2" r="1.75" fill="#000"/>
<circle cx="1668.1" cy="724.8" r="1.75" fill="#000"/>
<circle cx="1687.5" cy="724.8" r="1.75" fill="#000"/>
<circle cx="1726.3" cy="724.8" r="1.75" fill="#000"/>
<circle cx="1765.1" cy="724.8" r="1.75" fill="#000"/>
<circle cx="1784.5" cy="724.8" r="1.75" fill="#000"/>
<circle cx="1803.9" cy="724.8" r="1.75" fill="#000"/>
<circle cx="1823.3" cy="724.8" r="1.75" fill="#000"/>
<circle cx="1881.5" cy="724.8" r="1.75" fill="#000"/>
<circle cx="1900.9" cy="724.8" r="1.75" fill="#000"/>
<circle cx="1920.3" cy="724.8" r="1.75" fill="#000"/>
<circle cx="1687.5" cy="744.4" r="1.75" fill="#000"/>
<circle cx="1706.9" cy="744.4" r="1.75" fill="#000"/>
<circle cx="1726.3" cy="744.4" r="1.75" fill="#000"/>
<circle cx="1745.7" cy="744.4" r="1.75" fill="#000"/>
<circle cx="1765.1" cy="744.4" r="1.75" fill="#000"/>
<circle cx="1784.5" cy="744.4" r="1.75" fill="#000"/>
<circle cx="1803.9" cy="744.4" r="1.75" fill="#000"/>
<circle cx="1823.3" cy="744.4" r="1.75" fill="#000"/>
<circle cx="1862.1" cy="744.4" r="1.75" fill="#000"/>
<circle cx="1900.9" cy="744.4" r="1.75" fill="#000"/>
<circle cx="1920.3" cy="744.4" r="1.75" fill="#000"/>
<text x="1582.5" y="442.5" font-size="16.2" text-anchor="end" fill="#E6AB02">EPITHELIAL_MESENCHYMAL_TRANSITION</text>
<text transform="translate(1605.3,422) rotate(-90)" font-size="16.2" fill="#E6AB02">EPITHELIAL_MESENCHYMAL_TRANSITION</text>
<text x="1582.5" y="462.1" font-size="16.2" text-anchor="end" fill="#666666">APICAL_JUNCTION</text>
<text transform="translate(1624.7,422) rotate(-90)" font-size="16.2" fill="#666666">APICAL_JUNCTION</text>
<text x="1582.5" y="481.7" font-size="16.2" text-anchor="end" fill="#E7298A">HYPOXIA</text>
<text transform="translate(1644.1,422) rotate(-90)" font-size="16.2" fill="#E7298A">HYPOXIA</text>
<text x="1582.5" y="501.3" font-size="16.2" text-anchor="end" fill="#A6761D">XENOBIOTIC_METABOLISM</text>
<text transform="translate(1663.5,422) rotate(-90)" font-size="16.2" fill="#A6761D">XENOBIOTIC_METABOLISM</text>
<text x="1582.5" y="520.9" font-size="16.2" text-anchor="end" fill="#D95F02">KRAS_SIGNALING_UP</text>
<text transform="translate(1682.9,422) rotate(-90)" font-size="16.2" fill="#D95F02">KRAS_SIGNALING_UP</text>
<text x="1582.5" y="540.5" font-size="16.2" text-anchor="end" fill="#D95F02">TNFA_SIGNALING_VIA_NFKB</text>
<text transform="translate(1702.3,422) rotate(-90)" font-size="16.2" fill="#D95F02">TNFA_SIGNALING_VIA_NFKB</text>
<text x="1582.5" y="560.1" font-size="16.2" text-anchor="end" fill="#D95F02">IL2_STAT5_SIGNALING</text>
<text transform="translate(1721.7,422) rotate(-90)" font-size="16.2" fill="#D95F02">IL2_STAT5_SIGNALING</text>
<text x="1582.5" y="579.7" font-size="16.2" text-anchor="end" fill="#7570B3">COMPLEMENT</text>
<text transform="translate(1741.1,422) rotate(-90)" font-size="16.2" fill="#7570B3">COMPLEMENT</text>
<text x="1582.5" y="599.3" font-size="16.2" text-anchor="end" fill="#7570B3">INFLAMMATORY_RESPONSE</text>
<text transform="translate(1760.5,422) rotate(-90)" font-size="16.2" fill="#7570B3">INFLAMMATORY_RESPONSE</text>
<text x="1582.5" y="618.9" font-size="16.2" text-anchor="end" fill="#7570B3">IL6_JAK_STAT3_SIGNALING</text>
<text transform="translate(1779.9,422) rotate(-90)" font-size="16.2" fill="#7570B3">IL6_JAK_STAT3_SIGNALING</text>
<text x="1582.5" y="638.5" font-size="16.2" text-anchor="end" fill="#7570B3">ALLOGRAFT_REJECTION</text>
<text transform="translate(1799.3,422) rotate(-90)" font-size="16.2" fill="#7570B3">ALLOGRAFT_REJECTION</text>
<text x="1582.5" y="658.1" font-size="16.2" text-anchor="end" fill="#7570B3">INTERFERON_GAMMA_RESPONSE</text>
<text transform="translate(1818.7,422) rotate(-90)" font-size="16.2" fill="#7570B3">INTERFERON_GAMMA_RESPONSE</text>
<text x="1582.5" y="677.7" font-size="16.2" text-anchor="end" fill="#7570B3">INTERFERON_ALPHA_RESPONSE</text>
<text transform="translate(1838.1,422) rotate(-90)" font-size="16.2" fill="#7570B3">INTERFERON_ALPHA_RESPONSE</text>
<text x="1582.5" y="697.3" font-size="16.2" text-anchor="end" fill="#1B9E77">MITOTIC_SPINDLE</text>
<text transform="translate(1857.5,422) rotate(-90)" font-size="16.2" fill="#1B9E77">MITOTIC_SPINDLE</text>
<text x="1582.5" y="716.9" font-size="16.2" text-anchor="end" fill="#1B9E77">G2M_CHECKPOINT</text>
<text transform="translate(1876.9,422) rotate(-90)" font-size="16.2" fill="#1B9E77">G2M_CHECKPOINT</text>
<text x="1582.5" y="736.5" font-size="16.2" text-anchor="end" fill="#D95F02">ESTROGEN_RESPONSE_LATE</text>
<text transform="translate(1896.3,422) rotate(-90)" font-size="16.2" fill="#D95F02">ESTROGEN_RESPONSE_LATE</text>
<text x="1582.5" y="756.1" font-size="16.2" text-anchor="end" fill="#D95F02">ESTROGEN_RESPONSE_EARLY</text>
<text transform="translate(1915.7,422) rotate(-90)" font-size="16.2" fill="#D95F02">ESTROGEN_RESPONSE_EARLY</text>
<rect x="1926.8" y="428.8" width="13" height="332.5" fill="url(#cg)" stroke="#000" stroke-width="1"/>
<line x1="1939.3" y1="428.8" x2="1942.8" y2="428.8" stroke="#000" stroke-width="1"/>
<text x="1954.2" y="434.6" font-size="15.2" text-anchor="middle" fill="#000">1</text>
<line x1="1939.3" y1="462.05" x2="1942.8" y2="462.05" stroke="#000" stroke-width="1"/>
<text x="1954.2" y="467.85" font-size="15.2" text-anchor="middle" fill="#000">0.8</text>
<line x1="1939.3" y1="495.3" x2="1942.8" y2="495.3" stroke="#000" stroke-width="1"/>
<text x="1954.2" y="501.1" font-size="15.2" text-anchor="middle" fill="#000">0.6</text>
<line x1="1939.3" y1="528.55" x2="1942.8" y2="528.55" stroke="#000" stroke-width="1"/>
<text x="1954.2" y="534.35" font-size="15.2" text-anchor="middle" fill="#000">0.4</text>
<line x1="1939.3" y1="561.8" x2="1942.8" y2="561.8" stroke="#000" stroke-width="1"/>
<text x="1954.2" y="567.6" font-size="15.2" text-anchor="middle" fill="#000">0.2</text>
<line x1="1939.3" y1="595.05" x2="1942.8" y2="595.05" stroke="#000" stroke-width="1"/>
<text x="1954.2" y="600.85" font-size="15.2" text-anchor="middle" fill="#000">0</text>
<line x1="1939.3" y1="628.3" x2="1942.8" y2="628.3" stroke="#000" stroke-width="1"/>
<text x="1954.2" y="634.1" font-size="15.2" text-anchor="middle" fill="#000">-0.2</text>
<line x1="1939.3" y1="661.55" x2="1942.8" y2="661.55" stroke="#000" stroke-width="1"/>
<text x="1954.2" y="667.35" font-size="15.2" text-anchor="middle" fill="#000">-0.4</text>
<line x1="1939.3" y1="694.8" x2="1942.8" y2="694.8" stroke="#000" stroke-width="1"/>
<text x="1954.2" y="700.6" font-size="15.2" text-anchor="middle" fill="#000">-0.6</text>
<line x1="1939.3" y1="728.05" x2="1942.8" y2="728.05" stroke="#000" stroke-width="1"/>
<text x="1954.2" y="733.85" font-size="15.2" text-anchor="middle" fill="#000">-0.8</text>
<line x1="1939.3" y1="761.3" x2="1942.8" y2="761.3" stroke="#000" stroke-width="1"/>
<text x="1954.2" y="767.1" font-size="15.2" text-anchor="middle" fill="#000">-1</text>
<text transform="translate(1981.5,594) rotate(90)" class="b" font-size="21" text-anchor="middle" fill="#000">Spearman Correlation</text>
<text x="1810.3" y="785.3" class="b" font-size="20.6" fill="#000">*-FDR&lt; 0.05</text>
<text x="71.5" y="619" class="b" font-size="37">c</text>
<rect x="198" y="584" width="931.2" height="182" fill="#fff"/>
<clipPath id="clc"><rect x="198" y="584" width="931.2" height="182"/></clipPath>
<g clip-path="url(#clc)">
<g fill="#ff0000"><circle cx="237.9" cy="671.6" r="2.15"/><circle cx="224.3" cy="665.1" r="2.15"/><circle cx="209.4" cy="671.4" r="2.15"/><circle cx="239.8" cy="672.1" r="2.15"/><circle cx="217.0" cy="677.3" r="2.15"/><circle cx="240.4" cy="671.3" r="2.15"/><circle cx="248.9" cy="660.1" r="2.15"/><circle cx="220.2" cy="665.9" r="2.15"/><circle cx="220.5" cy="660.7" r="2.15"/><circle cx="247.7" cy="667.4" r="2.15"/><circle cx="236.6" cy="666.1" r="2.15"/><circle cx="208.9" cy="667.9" r="2.15"/><circle cx="206.8" cy="683.6" r="2.15"/><circle cx="208.0" cy="662.2" r="2.15"/><circle cx="245.6" cy="665.2" r="2.15"/><circle cx="240.7" cy="665.2" r="2.15"/><circle cx="207.7" cy="683.8" r="2.15"/><circle cx="241.7" cy="684.2" r="2.15"/><circle cx="249.3" cy="677.0" r="2.15"/><circle cx="233.2" cy="673.4" r="2.15"/><circle cx="217.9" cy="666.9" r="2.15"/><circle cx="227.8" cy="669.8" r="2.15"/><circle cx="207.0" cy="665.1" r="2.15"/><circle cx="201.2" cy="674.9" r="2.15"/><circle cx="248.9" cy="666.8" r="2.15"/><circle cx="232.9" cy="666.1" r="2.15"/><circle cx="226.7" cy="675.1" r="2.15"/><circle cx="247.0" cy="654.9" r="2.15"/><circle cx="222.1" cy="664.8" r="2.15"/><circle cx="243.9" cy="659.3" r="2.15"/><circle cx="241.7" cy="674.7" r="2.15"/><circle cx="211.0" cy="675.7" r="2.15"/><circle cx="213.0" cy="672.4" r="2.15"/><circle cx="215.1" cy="670.4" r="2.15"/><circle cx="212.4" cy="664.1" r="2.15"/><circle cx="229.7" cy="667.4" r="2.15"/><circle cx="213.4" cy="673.2" r="2.15"/><circle cx="221.3" cy="677.6" r="2.15"/><circle cx="207.0" cy="673.9" r="2.15"/><circle cx="245.8" cy="659.1" r="2.15"/><circle cx="218.1" cy="676.3" r="2.15"/><circle cx="223.3" cy="667.4" r="2.15"/><circle cx="229.5" cy="665.9" r="2.15"/><circle cx="245.6" cy="682.1" r="2.15"/><circle cx="221.4" cy="669.0" r="2.15"/><circle cx="246.2" cy="658.4" r="2.15"/><circle cx="225.5" cy="686.5" r="2.15"/><circle cx="227.0" cy="672.2" r="2.15"/><circle cx="226.6" cy="670.4" r="2.15"/><circle cx="201.4" cy="676.4" r="2.15"/><circle cx="222.4" cy="665.3" r="2.15"/><circle cx="209.6" cy="670.0" r="2.15"/><circle cx="200.6" cy="681.9" r="2.15"/><circle cx="240.3" cy="662.5" r="2.15"/><circle cx="209.0" cy="663.8" r="2.15"/><circle cx="224.1" cy="661.5" r="2.15"/><circle cx="236.6" cy="657.3" r="2.15"/><circle cx="228.2" cy="666.4" r="2.15"/><circle cx="216.7" cy="668.5" r="2.15"/><circle cx="226.3" cy="680.5" r="2.15"/><circle cx="228.2" cy="664.3" r="2.15"/><circle cx="239.6" cy="674.6" r="2.15"/><circle cx="205.7" cy="673.3" r="2.15"/><circle cx="228.4" cy="680.2" r="2.15"/><circle cx="212.8" cy="677.6" r="2.15"/><circle cx="214.3" cy="674.0" r="2.15"/><circle cx="239.0" cy="658.6" r="2.15"/><circle cx="225.8" cy="686.6" r="2.15"/><circle cx="228.5" cy="681.8" r="2.15"/><circle cx="238.4" cy="667.4" r="2.15"/><circle cx="246.0" cy="657.2" r="2.15"/><circle cx="222.6" cy="664.6" r="2.15"/><circle cx="231.0" cy="685.5" r="2.15"/><circle cx="225.7" cy="690.8" r="2.15"/><circle cx="226.0" cy="666.4" r="2.15"/><circle cx="235.0" cy="675.7" r="2.15"/><circle cx="223.0" cy="678.9" r="2.15"/><circle cx="227.0" cy="661.2" r="2.15"/><circle cx="224.3" cy="660.1" r="2.15"/><circle cx="247.4" cy="668.1" r="2.15"/><circle cx="235.3" cy="667.4" r="2.15"/><circle cx="244.2" cy="665.8" r="2.15"/><circle cx="247.4" cy="656.0" r="2.15"/><circle cx="213.4" cy="664.2" r="2.15"/><circle cx="228.4" cy="665.1" r="2.15"/><circle cx="247.5" cy="664.8" r="2.15"/><circle cx="242.3" cy="682.7" r="2.15"/><circle cx="207.3" cy="658.6" r="2.15"/><circle cx="206.5" cy="661.4" r="2.15"/><circle cx="222.5" cy="665.0" r="2.15"/><circle cx="204.1" cy="686.2" r="2.15"/><circle cx="212.5" cy="674.8" r="2.15"/><circle cx="204.1" cy="662.3" r="2.15"/><circle cx="233.8" cy="684.8" r="2.15"/><circle cx="239.5" cy="671.0" r="2.15"/><circle cx="245.2" cy="660.8" r="2.15"/><circle cx="208.2" cy="680.6" r="2.15"/><circle cx="236.2" cy="655.8" r="2.15"/><circle cx="233.4" cy="664.8" r="2.15"/><circle cx="207.6" cy="670.7" r="2.15"/><circle cx="244.5" cy="666.7" r="2.15"/><circle cx="248.7" cy="664.0" r="2.15"/><circle cx="211.4" cy="668.4" r="2.15"/><circle cx="248.0" cy="659.8" r="2.15"/><circle cx="220.3" cy="675.1" r="2.15"/><circle cx="224.8" cy="673.0" r="2.15"/><circle cx="249.8" cy="660.6" r="2.15"/><circle cx="242.0" cy="669.2" r="2.15"/><circle cx="208.5" cy="676.9" r="2.15"/><circle cx="222.0" cy="661.5" r="2.15"/><circle cx="226.2" cy="657.1" r="2.15"/><circle cx="217.4" cy="673.2" r="2.15"/><circle cx="210.2" cy="681.1" r="2.15"/><circle cx="216.3" cy="670.6" r="2.15"/><circle cx="236.5" cy="670.7" r="2.15"/><circle cx="201.4" cy="672.0" r="2.15"/><circle cx="228.1" cy="657.6" r="2.15"/><circle cx="222.4" cy="678.1" r="2.15"/><circle cx="201.4" cy="658.8" r="2.15"/><circle cx="217.0" cy="680.2" r="2.15"/><circle cx="231.6" cy="676.1" r="2.15"/><circle cx="226.0" cy="664.1" r="2.15"/><circle cx="203.7" cy="659.9" r="2.15"/><circle cx="249.6" cy="662.2" r="2.15"/><circle cx="239.8" cy="666.5" r="2.15"/><circle cx="248.9" cy="668.3" r="2.15"/><circle cx="205.7" cy="668.2" r="2.15"/><circle cx="213.7" cy="664.6" r="2.15"/><circle cx="202.4" cy="671.0" r="2.15"/><circle cx="239.3" cy="667.1" r="2.15"/><circle cx="213.9" cy="664.6" r="2.15"/><circle cx="206.9" cy="669.5" r="2.15"/><circle cx="221.5" cy="663.0" r="2.15"/><circle cx="245.9" cy="664.7" r="2.15"/><circle cx="241.3" cy="652.5" r="2.15"/><circle cx="213.3" cy="666.7" r="2.15"/><circle cx="207.9" cy="673.1" r="2.15"/><circle cx="246.3" cy="672.6" r="2.15"/><circle cx="228.9" cy="669.6" r="2.15"/><circle cx="235.4" cy="661.6" r="2.15"/><circle cx="204.9" cy="672.3" r="2.15"/><circle cx="203.3" cy="666.2" r="2.15"/><circle cx="234.8" cy="653.9" r="2.15"/><circle cx="221.7" cy="691.2" r="2.15"/><circle cx="204.1" cy="663.7" r="2.15"/><circle cx="247.3" cy="652.2" r="2.15"/><circle cx="232.1" cy="650.9" r="2.15"/><circle cx="240.4" cy="652.2" r="2.15"/><circle cx="204.6" cy="657.9" r="2.15"/><circle cx="243.2" cy="648.7" r="2.15"/><circle cx="203.8" cy="651.8" r="2.15"/><circle cx="243.5" cy="658.6" r="2.15"/><circle cx="223.1" cy="633.7" r="2.15"/><circle cx="217.4" cy="651.2" r="2.15"/><circle cx="228.0" cy="658.9" r="2.15"/><circle cx="246.7" cy="655.1" r="2.15"/><circle cx="213.8" cy="656.1" r="2.15"/><circle cx="206.9" cy="654.8" r="2.15"/><circle cx="226.7" cy="677.3" r="2.15"/><circle cx="212.3" cy="658.4" r="2.15"/><circle cx="205.9" cy="645.7" r="2.15"/><circle cx="208.5" cy="664.1" r="2.15"/><circle cx="203.0" cy="654.8" r="2.15"/><circle cx="210.5" cy="646.2" r="2.15"/><circle cx="216.0" cy="647.0" r="2.15"/><circle cx="215.7" cy="641.6" r="2.15"/><circle cx="238.3" cy="668.6" r="2.15"/><circle cx="214.9" cy="657.2" r="2.15"/><circle cx="225.4" cy="657.1" r="2.15"/><circle cx="209.3" cy="649.0" r="2.15"/><circle cx="217.8" cy="645.0" r="2.15"/><circle cx="201.4" cy="676.9" r="2.15"/><circle cx="212.9" cy="645.0" r="2.15"/><circle cx="201.2" cy="666.5" r="2.15"/><circle cx="237.0" cy="648.5" r="2.15"/><circle cx="227.9" cy="666.9" r="2.15"/><circle cx="209.9" cy="652.7" r="2.15"/><circle cx="224.1" cy="644.1" r="2.15"/><circle cx="247.1" cy="655.5" r="2.15"/><circle cx="205.8" cy="652.6" r="2.15"/><circle cx="241.3" cy="647.5" r="2.15"/><circle cx="222.0" cy="653.0" r="2.15"/><circle cx="225.1" cy="655.0" r="2.15"/><circle cx="242.1" cy="641.3" r="2.15"/><circle cx="220.1" cy="645.4" r="2.15"/><circle cx="225.7" cy="656.7" r="2.15"/><circle cx="234.8" cy="631.0" r="2.15"/><circle cx="249.5" cy="663.9" r="2.15"/><circle cx="217.5" cy="646.5" r="2.15"/><circle cx="242.0" cy="656.5" r="2.15"/><circle cx="235.7" cy="653.1" r="2.15"/><circle cx="232.2" cy="648.3" r="2.15"/><circle cx="220.6" cy="652.4" r="2.15"/><circle cx="217.8" cy="648.8" r="2.15"/><circle cx="203.2" cy="667.2" r="2.15"/><circle cx="206.9" cy="667.0" r="2.15"/><circle cx="204.0" cy="649.0" r="2.15"/><circle cx="237.4" cy="662.4" r="2.15"/><circle cx="213.2" cy="662.9" r="2.15"/><circle cx="208.6" cy="666.7" r="2.15"/><circle cx="204.7" cy="643.5" r="2.15"/><circle cx="242.4" cy="647.9" r="2.15"/><circle cx="243.9" cy="641.8" r="2.15"/><circle cx="233.9" cy="662.2" r="2.15"/><circle cx="209.9" cy="611.4" r="2.15"/><circle cx="210.9" cy="724.7" r="2.15"/><circle cx="224.1" cy="716.3" r="2.15"/><circle cx="214.5" cy="705.0" r="2.15"/><circle cx="212.5" cy="703.3" r="2.15"/><circle cx="215.1" cy="701.6" r="2.15"/><circle cx="223.4" cy="699.4" r="2.15"/><circle cx="208.3" cy="696.0" r="2.15"/><circle cx="222.7" cy="694.8" r="2.15"/><circle cx="213.6" cy="692.0" r="2.15"/><circle cx="248.4" cy="690.3" r="2.15"/><circle cx="249.0" cy="689.2" r="2.15"/><circle cx="227.7" cy="633.9" r="2.15"/><circle cx="212.6" cy="635.6" r="2.15"/><circle cx="248.6" cy="632.8" r="2.15"/><circle cx="215.9" cy="639.6" r="2.15"/></g>
<g fill="#ff4900"><circle cx="269.1" cy="648.8" r="2.15"/><circle cx="303.5" cy="648.3" r="2.15"/><circle cx="261.5" cy="655.7" r="2.15"/><circle cx="280.3" cy="642.1" r="2.15"/><circle cx="286.6" cy="654.3" r="2.15"/><circle cx="298.3" cy="648.7" r="2.15"/><circle cx="266.0" cy="649.4" r="2.15"/><circle cx="268.7" cy="648.6" r="2.15"/><circle cx="267.6" cy="648.9" r="2.15"/><circle cx="275.2" cy="644.9" r="2.15"/><circle cx="277.5" cy="650.6" r="2.15"/><circle cx="302.8" cy="647.1" r="2.15"/><circle cx="297.6" cy="641.5" r="2.15"/><circle cx="298.8" cy="647.6" r="2.15"/><circle cx="256.3" cy="647.4" r="2.15"/><circle cx="256.8" cy="637.4" r="2.15"/><circle cx="290.6" cy="662.5" r="2.15"/><circle cx="299.9" cy="651.2" r="2.15"/><circle cx="278.8" cy="656.0" r="2.15"/><circle cx="284.5" cy="659.8" r="2.15"/><circle cx="255.2" cy="642.5" r="2.15"/><circle cx="274.8" cy="654.4" r="2.15"/><circle cx="301.5" cy="659.9" r="2.15"/><circle cx="296.4" cy="626.9" r="2.15"/><circle cx="297.9" cy="640.6" r="2.15"/><circle cx="303.7" cy="637.6" r="2.15"/><circle cx="267.6" cy="650.2" r="2.15"/><circle cx="260.7" cy="650.6" r="2.15"/><circle cx="262.9" cy="639.5" r="2.15"/><circle cx="281.3" cy="663.9" r="2.15"/><circle cx="289.2" cy="658.2" r="2.15"/><circle cx="302.2" cy="658.5" r="2.15"/><circle cx="291.2" cy="646.8" r="2.15"/><circle cx="287.5" cy="652.9" r="2.15"/><circle cx="293.4" cy="658.5" r="2.15"/><circle cx="278.0" cy="650.1" r="2.15"/><circle cx="282.7" cy="640.8" r="2.15"/><circle cx="257.2" cy="661.8" r="2.15"/><circle cx="294.2" cy="643.4" r="2.15"/><circle cx="266.8" cy="658.5" r="2.15"/><circle cx="301.1" cy="638.6" r="2.15"/><circle cx="287.4" cy="656.6" r="2.15"/><circle cx="270.4" cy="650.7" r="2.15"/><circle cx="261.6" cy="654.3" r="2.15"/><circle cx="267.8" cy="644.2" r="2.15"/><circle cx="287.0" cy="647.7" r="2.15"/><circle cx="290.1" cy="651.1" r="2.15"/><circle cx="260.8" cy="645.5" r="2.15"/><circle cx="258.7" cy="643.0" r="2.15"/><circle cx="281.4" cy="657.9" r="2.15"/><circle cx="284.3" cy="656.8" r="2.15"/><circle cx="274.6" cy="657.1" r="2.15"/><circle cx="266.4" cy="652.7" r="2.15"/><circle cx="285.2" cy="657.5" r="2.15"/><circle cx="255.7" cy="633.5" r="2.15"/><circle cx="270.3" cy="648.3" r="2.15"/><circle cx="278.2" cy="648.7" r="2.15"/><circle cx="303.1" cy="658.6" r="2.15"/><circle cx="287.4" cy="660.7" r="2.15"/><circle cx="299.3" cy="651.3" r="2.15"/><circle cx="278.9" cy="635.9" r="2.15"/><circle cx="266.9" cy="643.0" r="2.15"/><circle cx="267.5" cy="648.6" r="2.15"/><circle cx="303.1" cy="645.3" r="2.15"/><circle cx="290.4" cy="649.9" r="2.15"/><circle cx="270.6" cy="635.0" r="2.15"/><circle cx="256.3" cy="644.7" r="2.15"/><circle cx="280.1" cy="635.3" r="2.15"/><circle cx="288.9" cy="638.8" r="2.15"/><circle cx="276.2" cy="650.1" r="2.15"/><circle cx="268.1" cy="655.7" r="2.15"/><circle cx="288.5" cy="642.1" r="2.15"/><circle cx="301.4" cy="654.4" r="2.15"/><circle cx="266.5" cy="661.8" r="2.15"/><circle cx="256.9" cy="657.6" r="2.15"/><circle cx="272.1" cy="656.7" r="2.15"/><circle cx="276.2" cy="644.4" r="2.15"/><circle cx="289.3" cy="646.4" r="2.15"/><circle cx="265.1" cy="648.9" r="2.15"/><circle cx="295.0" cy="634.6" r="2.15"/><circle cx="292.1" cy="652.3" r="2.15"/><circle cx="280.4" cy="638.3" r="2.15"/><circle cx="265.5" cy="645.6" r="2.15"/><circle cx="303.6" cy="648.4" r="2.15"/><circle cx="270.8" cy="650.1" r="2.15"/><circle cx="296.1" cy="636.0" r="2.15"/><circle cx="266.7" cy="653.1" r="2.15"/><circle cx="266.3" cy="660.5" r="2.15"/><circle cx="293.2" cy="651.2" r="2.15"/><circle cx="269.9" cy="638.7" r="2.15"/><circle cx="302.7" cy="657.8" r="2.15"/><circle cx="280.0" cy="646.5" r="2.15"/><circle cx="264.6" cy="635.4" r="2.15"/><circle cx="266.4" cy="636.5" r="2.15"/><circle cx="276.0" cy="641.3" r="2.15"/><circle cx="288.4" cy="626.4" r="2.15"/><circle cx="302.5" cy="647.1" r="2.15"/><circle cx="262.5" cy="649.2" r="2.15"/><circle cx="274.9" cy="663.7" r="2.15"/><circle cx="265.8" cy="644.6" r="2.15"/><circle cx="303.8" cy="639.5" r="2.15"/><circle cx="262.3" cy="650.4" r="2.15"/><circle cx="257.8" cy="649.3" r="2.15"/><circle cx="258.2" cy="642.8" r="2.15"/><circle cx="274.8" cy="643.1" r="2.15"/><circle cx="300.0" cy="650.5" r="2.15"/><circle cx="299.3" cy="652.7" r="2.15"/><circle cx="291.8" cy="650.9" r="2.15"/><circle cx="305.0" cy="669.3" r="2.15"/><circle cx="301.7" cy="651.7" r="2.15"/><circle cx="271.6" cy="638.1" r="2.15"/><circle cx="264.5" cy="637.0" r="2.15"/><circle cx="301.9" cy="666.2" r="2.15"/><circle cx="292.4" cy="649.6" r="2.15"/><circle cx="256.8" cy="650.4" r="2.15"/><circle cx="288.4" cy="654.5" r="2.15"/><circle cx="274.1" cy="640.8" r="2.15"/><circle cx="273.9" cy="654.4" r="2.15"/><circle cx="271.8" cy="647.9" r="2.15"/><circle cx="263.7" cy="648.5" r="2.15"/><circle cx="255.4" cy="657.8" r="2.15"/><circle cx="269.2" cy="648.1" r="2.15"/><circle cx="272.8" cy="650.1" r="2.15"/><circle cx="302.9" cy="644.2" r="2.15"/><circle cx="261.4" cy="652.7" r="2.15"/><circle cx="303.3" cy="642.5" r="2.15"/><circle cx="265.6" cy="648.3" r="2.15"/><circle cx="273.0" cy="649.0" r="2.15"/><circle cx="296.2" cy="648.5" r="2.15"/><circle cx="296.2" cy="664.8" r="2.15"/><circle cx="276.8" cy="634.5" r="2.15"/><circle cx="257.7" cy="635.4" r="2.15"/><circle cx="278.8" cy="652.8" r="2.15"/><circle cx="273.8" cy="666.3" r="2.15"/><circle cx="301.1" cy="650.6" r="2.15"/><circle cx="264.9" cy="640.7" r="2.15"/><circle cx="273.4" cy="672.8" r="2.15"/><circle cx="300.0" cy="629.3" r="2.15"/><circle cx="256.7" cy="655.4" r="2.15"/><circle cx="275.7" cy="652.8" r="2.15"/><circle cx="295.7" cy="654.7" r="2.15"/><circle cx="293.5" cy="645.6" r="2.15"/><circle cx="257.3" cy="644.9" r="2.15"/><circle cx="257.0" cy="647.4" r="2.15"/><circle cx="258.3" cy="645.1" r="2.15"/><circle cx="301.1" cy="654.6" r="2.15"/><circle cx="268.0" cy="642.7" r="2.15"/><circle cx="292.5" cy="651.1" r="2.15"/><circle cx="300.0" cy="649.6" r="2.15"/><circle cx="272.1" cy="638.5" r="2.15"/><circle cx="268.8" cy="645.6" r="2.15"/><circle cx="303.0" cy="641.0" r="2.15"/><circle cx="286.0" cy="631.7" r="2.15"/><circle cx="268.3" cy="653.4" r="2.15"/><circle cx="291.0" cy="644.1" r="2.15"/><circle cx="271.0" cy="659.6" r="2.15"/><circle cx="269.0" cy="631.4" r="2.15"/><circle cx="255.4" cy="659.0" r="2.15"/><circle cx="292.9" cy="661.4" r="2.15"/><circle cx="300.9" cy="652.7" r="2.15"/><circle cx="286.8" cy="635.5" r="2.15"/><circle cx="302.3" cy="644.4" r="2.15"/><circle cx="256.4" cy="662.1" r="2.15"/><circle cx="266.9" cy="644.3" r="2.15"/><circle cx="278.9" cy="652.9" r="2.15"/><circle cx="302.9" cy="654.1" r="2.15"/><circle cx="302.8" cy="630.2" r="2.15"/><circle cx="274.5" cy="642.7" r="2.15"/><circle cx="267.7" cy="641.9" r="2.15"/><circle cx="276.7" cy="641.7" r="2.15"/><circle cx="279.8" cy="652.5" r="2.15"/><circle cx="301.5" cy="642.7" r="2.15"/><circle cx="264.4" cy="650.2" r="2.15"/><circle cx="295.3" cy="671.7" r="2.15"/><circle cx="292.1" cy="649.4" r="2.15"/><circle cx="296.3" cy="636.3" r="2.15"/><circle cx="293.8" cy="652.0" r="2.15"/><circle cx="285.5" cy="638.3" r="2.15"/><circle cx="271.6" cy="652.6" r="2.15"/><circle cx="271.2" cy="645.4" r="2.15"/><circle cx="273.3" cy="645.5" r="2.15"/><circle cx="294.2" cy="643.7" r="2.15"/><circle cx="259.2" cy="640.4" r="2.15"/><circle cx="265.1" cy="654.1" r="2.15"/><circle cx="292.8" cy="645.1" r="2.15"/><circle cx="267.6" cy="630.5" r="2.15"/><circle cx="258.5" cy="639.3" r="2.15"/><circle cx="256.9" cy="648.8" r="2.15"/><circle cx="282.8" cy="645.1" r="2.15"/><circle cx="271.5" cy="644.3" r="2.15"/><circle cx="304.1" cy="642.1" r="2.15"/><circle cx="299.3" cy="644.4" r="2.15"/><circle cx="304.5" cy="643.3" r="2.15"/><circle cx="268.4" cy="645.2" r="2.15"/><circle cx="259.4" cy="649.2" r="2.15"/><circle cx="260.0" cy="637.6" r="2.15"/><circle cx="280.1" cy="637.9" r="2.15"/><circle cx="290.6" cy="657.8" r="2.15"/><circle cx="277.5" cy="656.1" r="2.15"/><circle cx="266.9" cy="644.0" r="2.15"/><circle cx="276.0" cy="656.7" r="2.15"/><circle cx="286.2" cy="649.8" r="2.15"/><circle cx="288.8" cy="650.2" r="2.15"/><circle cx="292.5" cy="646.0" r="2.15"/><circle cx="282.4" cy="620.1" r="2.15"/><circle cx="297.5" cy="623.8" r="2.15"/><circle cx="288.4" cy="624.3" r="2.15"/><circle cx="261.3" cy="627.2" r="2.15"/><circle cx="281.2" cy="684.7" r="2.15"/><circle cx="297.2" cy="672.3" r="2.15"/><circle cx="269.9" cy="671.2" r="2.15"/><circle cx="271.8" cy="758.0" r="2.15"/></g>
<g fill="#ff9200"><circle cx="359.4" cy="658.5" r="2.15"/><circle cx="338.8" cy="655.2" r="2.15"/><circle cx="328.0" cy="652.9" r="2.15"/><circle cx="348.1" cy="657.0" r="2.15"/><circle cx="332.1" cy="652.5" r="2.15"/><circle cx="318.8" cy="647.5" r="2.15"/><circle cx="347.1" cy="644.5" r="2.15"/><circle cx="312.4" cy="641.0" r="2.15"/><circle cx="350.9" cy="657.8" r="2.15"/><circle cx="322.7" cy="655.4" r="2.15"/><circle cx="341.9" cy="669.3" r="2.15"/><circle cx="359.1" cy="639.7" r="2.15"/><circle cx="339.2" cy="657.4" r="2.15"/><circle cx="343.1" cy="652.8" r="2.15"/><circle cx="325.6" cy="649.0" r="2.15"/><circle cx="310.1" cy="661.7" r="2.15"/><circle cx="311.7" cy="649.4" r="2.15"/><circle cx="317.5" cy="652.7" r="2.15"/><circle cx="340.7" cy="664.9" r="2.15"/><circle cx="331.6" cy="650.6" r="2.15"/><circle cx="335.6" cy="644.5" r="2.15"/><circle cx="354.7" cy="665.2" r="2.15"/><circle cx="316.6" cy="647.1" r="2.15"/><circle cx="321.3" cy="651.1" r="2.15"/><circle cx="342.6" cy="649.3" r="2.15"/><circle cx="311.1" cy="649.6" r="2.15"/><circle cx="310.1" cy="643.7" r="2.15"/><circle cx="327.7" cy="654.1" r="2.15"/><circle cx="315.3" cy="646.6" r="2.15"/><circle cx="327.8" cy="655.3" r="2.15"/><circle cx="321.2" cy="647.6" r="2.15"/><circle cx="339.1" cy="658.0" r="2.15"/><circle cx="339.4" cy="653.3" r="2.15"/><circle cx="320.2" cy="640.8" r="2.15"/><circle cx="341.1" cy="649.5" r="2.15"/><circle cx="333.7" cy="653.6" r="2.15"/><circle cx="316.7" cy="660.3" r="2.15"/><circle cx="356.7" cy="657.9" r="2.15"/><circle cx="322.2" cy="651.2" r="2.15"/><circle cx="317.5" cy="646.2" r="2.15"/><circle cx="314.8" cy="649.7" r="2.15"/><circle cx="341.8" cy="649.0" r="2.15"/><circle cx="353.5" cy="652.8" r="2.15"/><circle cx="349.0" cy="643.4" r="2.15"/><circle cx="330.1" cy="655.2" r="2.15"/><circle cx="323.2" cy="656.3" r="2.15"/><circle cx="310.6" cy="646.5" r="2.15"/><circle cx="342.2" cy="652.1" r="2.15"/><circle cx="338.1" cy="654.4" r="2.15"/><circle cx="327.5" cy="656.4" r="2.15"/><circle cx="342.2" cy="654.3" r="2.15"/><circle cx="332.1" cy="648.3" r="2.15"/><circle cx="356.7" cy="650.1" r="2.15"/><circle cx="346.6" cy="660.7" r="2.15"/><circle cx="322.4" cy="649.7" r="2.15"/><circle cx="355.1" cy="651.3" r="2.15"/><circle cx="312.2" cy="659.3" r="2.15"/><circle cx="336.5" cy="647.3" r="2.15"/><circle cx="330.3" cy="654.4" r="2.15"/><circle cx="321.9" cy="654.8" r="2.15"/><circle cx="312.9" cy="647.2" r="2.15"/><circle cx="348.9" cy="643.6" r="2.15"/><circle cx="310.6" cy="657.2" r="2.15"/><circle cx="337.5" cy="649.6" r="2.15"/><circle cx="356.9" cy="658.5" r="2.15"/><circle cx="317.1" cy="636.9" r="2.15"/><circle cx="320.0" cy="655.9" r="2.15"/><circle cx="340.3" cy="644.5" r="2.15"/><circle cx="335.3" cy="656.9" r="2.15"/><circle cx="342.0" cy="647.0" r="2.15"/><circle cx="350.6" cy="637.5" r="2.15"/><circle cx="318.7" cy="669.7" r="2.15"/><circle cx="325.4" cy="655.5" r="2.15"/><circle cx="325.0" cy="649.2" r="2.15"/><circle cx="312.4" cy="653.2" r="2.15"/><circle cx="354.4" cy="657.1" r="2.15"/><circle cx="349.1" cy="638.0" r="2.15"/><circle cx="345.7" cy="652.0" r="2.15"/><circle cx="310.3" cy="663.7" r="2.15"/><circle cx="352.1" cy="646.8" r="2.15"/><circle cx="347.2" cy="664.2" r="2.15"/><circle cx="333.2" cy="644.8" r="2.15"/><circle cx="347.0" cy="656.5" r="2.15"/><circle cx="332.6" cy="651.6" r="2.15"/><circle cx="321.3" cy="644.0" r="2.15"/><circle cx="315.3" cy="651.7" r="2.15"/><circle cx="321.6" cy="662.0" r="2.15"/><circle cx="311.9" cy="664.0" r="2.15"/><circle cx="326.7" cy="644.5" r="2.15"/><circle cx="347.4" cy="647.5" r="2.15"/><circle cx="344.7" cy="658.1" r="2.15"/><circle cx="352.2" cy="646.7" r="2.15"/><circle cx="345.5" cy="649.2" r="2.15"/><circle cx="323.3" cy="648.2" r="2.15"/><circle cx="337.6" cy="667.8" r="2.15"/><circle cx="331.8" cy="654.6" r="2.15"/><circle cx="349.3" cy="646.4" r="2.15"/><circle cx="336.1" cy="647.6" r="2.15"/><circle cx="323.2" cy="646.6" r="2.15"/><circle cx="342.0" cy="669.2" r="2.15"/><circle cx="358.1" cy="651.4" r="2.15"/><circle cx="320.8" cy="649.2" r="2.15"/><circle cx="353.9" cy="635.3" r="2.15"/><circle cx="310.8" cy="659.0" r="2.15"/><circle cx="323.0" cy="654.8" r="2.15"/><circle cx="321.8" cy="652.3" r="2.15"/><circle cx="347.1" cy="646.5" r="2.15"/><circle cx="357.1" cy="655.5" r="2.15"/><circle cx="347.2" cy="644.8" r="2.15"/><circle cx="326.3" cy="657.9" r="2.15"/><circle cx="353.9" cy="650.7" r="2.15"/><circle cx="326.4" cy="656.1" r="2.15"/><circle cx="321.9" cy="651.5" r="2.15"/><circle cx="355.3" cy="657.2" r="2.15"/><circle cx="341.5" cy="663.4" r="2.15"/><circle cx="344.6" cy="645.1" r="2.15"/><circle cx="343.2" cy="650.5" r="2.15"/><circle cx="358.8" cy="656.3" r="2.15"/><circle cx="333.4" cy="651.2" r="2.15"/><circle cx="351.9" cy="645.8" r="2.15"/><circle cx="344.8" cy="659.2" r="2.15"/><circle cx="352.8" cy="653.3" r="2.15"/><circle cx="331.8" cy="648.9" r="2.15"/><circle cx="346.1" cy="649.0" r="2.15"/><circle cx="338.4" cy="654.8" r="2.15"/><circle cx="325.4" cy="666.8" r="2.15"/><circle cx="320.6" cy="644.1" r="2.15"/><circle cx="341.1" cy="650.3" r="2.15"/><circle cx="313.9" cy="652.5" r="2.15"/><circle cx="355.4" cy="654.4" r="2.15"/><circle cx="317.2" cy="650.8" r="2.15"/><circle cx="311.3" cy="655.4" r="2.15"/><circle cx="315.3" cy="659.5" r="2.15"/><circle cx="356.3" cy="657.5" r="2.15"/><circle cx="327.2" cy="656.6" r="2.15"/><circle cx="317.1" cy="656.7" r="2.15"/><circle cx="311.4" cy="660.4" r="2.15"/><circle cx="312.1" cy="648.2" r="2.15"/><circle cx="344.5" cy="661.4" r="2.15"/><circle cx="341.6" cy="648.1" r="2.15"/><circle cx="344.8" cy="659.4" r="2.15"/><circle cx="346.8" cy="650.2" r="2.15"/><circle cx="313.3" cy="643.2" r="2.15"/><circle cx="339.5" cy="651.2" r="2.15"/><circle cx="328.1" cy="657.5" r="2.15"/><circle cx="350.8" cy="652.2" r="2.15"/><circle cx="350.9" cy="651.5" r="2.15"/><circle cx="354.5" cy="664.3" r="2.15"/><circle cx="313.3" cy="656.7" r="2.15"/><circle cx="353.3" cy="651.4" r="2.15"/><circle cx="355.6" cy="655.7" r="2.15"/><circle cx="357.1" cy="652.0" r="2.15"/><circle cx="315.3" cy="647.6" r="2.15"/><circle cx="320.3" cy="647.4" r="2.15"/><circle cx="315.6" cy="646.4" r="2.15"/><circle cx="311.7" cy="648.6" r="2.15"/><circle cx="352.3" cy="654.5" r="2.15"/><circle cx="350.5" cy="652.7" r="2.15"/><circle cx="341.6" cy="654.4" r="2.15"/><circle cx="351.2" cy="654.7" r="2.15"/><circle cx="341.5" cy="653.8" r="2.15"/><circle cx="324.3" cy="664.2" r="2.15"/><circle cx="315.0" cy="654.8" r="2.15"/><circle cx="314.9" cy="652.7" r="2.15"/><circle cx="347.8" cy="659.1" r="2.15"/><circle cx="320.2" cy="652.7" r="2.15"/><circle cx="325.9" cy="649.1" r="2.15"/><circle cx="331.1" cy="653.7" r="2.15"/><circle cx="311.0" cy="638.5" r="2.15"/><circle cx="322.8" cy="670.2" r="2.15"/><circle cx="324.1" cy="653.9" r="2.15"/><circle cx="345.7" cy="664.9" r="2.15"/><circle cx="328.4" cy="645.9" r="2.15"/><circle cx="326.0" cy="634.6" r="2.15"/><circle cx="358.1" cy="669.5" r="2.15"/><circle cx="335.1" cy="651.7" r="2.15"/><circle cx="352.5" cy="649.0" r="2.15"/><circle cx="340.8" cy="654.6" r="2.15"/><circle cx="311.5" cy="648.8" r="2.15"/><circle cx="330.6" cy="667.7" r="2.15"/><circle cx="331.8" cy="646.8" r="2.15"/><circle cx="348.6" cy="650.0" r="2.15"/><circle cx="327.3" cy="652.4" r="2.15"/><circle cx="345.1" cy="656.5" r="2.15"/><circle cx="336.8" cy="648.2" r="2.15"/><circle cx="320.8" cy="655.8" r="2.15"/><circle cx="353.0" cy="651.0" r="2.15"/><circle cx="314.5" cy="656.0" r="2.15"/><circle cx="350.9" cy="667.7" r="2.15"/><circle cx="318.5" cy="652.8" r="2.15"/><circle cx="310.1" cy="651.2" r="2.15"/><circle cx="320.1" cy="647.4" r="2.15"/><circle cx="348.0" cy="658.5" r="2.15"/><circle cx="358.8" cy="652.8" r="2.15"/><circle cx="310.2" cy="648.4" r="2.15"/><circle cx="334.5" cy="651.6" r="2.15"/><circle cx="334.5" cy="644.1" r="2.15"/><circle cx="349.7" cy="639.1" r="2.15"/><circle cx="319.2" cy="658.7" r="2.15"/><circle cx="334.7" cy="665.5" r="2.15"/><circle cx="327.3" cy="646.7" r="2.15"/><circle cx="351.5" cy="642.2" r="2.15"/><circle cx="323.0" cy="646.3" r="2.15"/><circle cx="357.1" cy="647.0" r="2.15"/><circle cx="324.2" cy="656.7" r="2.15"/><circle cx="320.7" cy="657.4" r="2.15"/><circle cx="344.9" cy="646.5" r="2.15"/><circle cx="334.9" cy="658.7" r="2.15"/><circle cx="315.5" cy="664.8" r="2.15"/><circle cx="341.8" cy="659.3" r="2.15"/><circle cx="314.0" cy="635.7" r="2.15"/><circle cx="349.3" cy="639.5" r="2.15"/><circle cx="344.8" cy="657.2" r="2.15"/><circle cx="349.3" cy="657.5" r="2.15"/><circle cx="341.3" cy="651.0" r="2.15"/><circle cx="327.7" cy="657.6" r="2.15"/><circle cx="332.8" cy="622.6" r="2.15"/><circle cx="330.0" cy="628.3" r="2.15"/><circle cx="329.7" cy="630.0" r="2.15"/><circle cx="357.3" cy="676.2" r="2.15"/><circle cx="354.4" cy="673.4" r="2.15"/><circle cx="314.3" cy="672.8" r="2.15"/><circle cx="354.3" cy="675.1" r="2.15"/></g>
<g fill="#ffdb00"><circle cx="372.4" cy="657.2" r="2.15"/><circle cx="409.9" cy="664.2" r="2.15"/><circle cx="404.3" cy="667.7" r="2.15"/><circle cx="373.2" cy="638.9" r="2.15"/><circle cx="409.2" cy="677.6" r="2.15"/><circle cx="395.1" cy="665.6" r="2.15"/><circle cx="403.7" cy="658.8" r="2.15"/><circle cx="398.1" cy="671.5" r="2.15"/><circle cx="409.4" cy="680.3" r="2.15"/><circle cx="404.1" cy="661.8" r="2.15"/><circle cx="406.6" cy="664.9" r="2.15"/><circle cx="374.6" cy="686.3" r="2.15"/><circle cx="399.3" cy="672.5" r="2.15"/><circle cx="391.3" cy="674.6" r="2.15"/><circle cx="401.8" cy="668.9" r="2.15"/><circle cx="386.7" cy="659.1" r="2.15"/><circle cx="408.8" cy="655.4" r="2.15"/><circle cx="392.5" cy="680.8" r="2.15"/><circle cx="378.0" cy="665.9" r="2.15"/><circle cx="376.5" cy="673.1" r="2.15"/><circle cx="371.7" cy="685.3" r="2.15"/><circle cx="389.4" cy="657.5" r="2.15"/><circle cx="367.7" cy="671.2" r="2.15"/><circle cx="388.1" cy="668.6" r="2.15"/><circle cx="372.0" cy="690.6" r="2.15"/><circle cx="389.3" cy="659.4" r="2.15"/><circle cx="389.6" cy="664.9" r="2.15"/><circle cx="391.7" cy="657.4" r="2.15"/><circle cx="407.8" cy="671.7" r="2.15"/><circle cx="365.1" cy="647.2" r="2.15"/><circle cx="406.7" cy="661.5" r="2.15"/><circle cx="388.1" cy="671.5" r="2.15"/><circle cx="392.8" cy="660.3" r="2.15"/><circle cx="398.0" cy="657.7" r="2.15"/><circle cx="406.7" cy="672.5" r="2.15"/><circle cx="383.5" cy="652.1" r="2.15"/><circle cx="385.7" cy="659.6" r="2.15"/><circle cx="412.7" cy="656.1" r="2.15"/><circle cx="368.5" cy="653.0" r="2.15"/><circle cx="396.6" cy="634.2" r="2.15"/><circle cx="396.5" cy="666.3" r="2.15"/><circle cx="366.2" cy="671.2" r="2.15"/><circle cx="395.2" cy="659.9" r="2.15"/><circle cx="398.8" cy="666.9" r="2.15"/><circle cx="411.2" cy="692.1" r="2.15"/><circle cx="381.3" cy="641.8" r="2.15"/><circle cx="413.7" cy="659.9" r="2.15"/><circle cx="390.2" cy="684.9" r="2.15"/><circle cx="389.0" cy="673.0" r="2.15"/><circle cx="409.5" cy="662.3" r="2.15"/><circle cx="366.5" cy="669.3" r="2.15"/><circle cx="400.6" cy="670.0" r="2.15"/><circle cx="396.0" cy="662.2" r="2.15"/><circle cx="381.7" cy="653.7" r="2.15"/><circle cx="407.8" cy="653.3" r="2.15"/><circle cx="383.0" cy="662.9" r="2.15"/><circle cx="388.4" cy="660.7" r="2.15"/><circle cx="391.0" cy="684.0" r="2.15"/><circle cx="403.2" cy="683.1" r="2.15"/><circle cx="375.3" cy="665.6" r="2.15"/><circle cx="386.5" cy="672.2" r="2.15"/><circle cx="385.8" cy="663.9" r="2.15"/><circle cx="392.4" cy="675.6" r="2.15"/><circle cx="406.0" cy="673.2" r="2.15"/><circle cx="379.4" cy="667.1" r="2.15"/><circle cx="406.1" cy="692.6" r="2.15"/><circle cx="384.9" cy="680.2" r="2.15"/><circle cx="389.9" cy="658.6" r="2.15"/><circle cx="378.3" cy="665.6" r="2.15"/><circle cx="390.0" cy="678.5" r="2.15"/><circle cx="413.4" cy="662.8" r="2.15"/><circle cx="397.4" cy="645.8" r="2.15"/><circle cx="404.3" cy="649.9" r="2.15"/><circle cx="381.3" cy="680.2" r="2.15"/><circle cx="380.6" cy="673.0" r="2.15"/><circle cx="379.7" cy="688.6" r="2.15"/><circle cx="394.0" cy="673.1" r="2.15"/><circle cx="396.4" cy="681.6" r="2.15"/><circle cx="403.9" cy="675.8" r="2.15"/><circle cx="366.8" cy="662.4" r="2.15"/><circle cx="400.8" cy="669.4" r="2.15"/><circle cx="409.0" cy="669.6" r="2.15"/><circle cx="392.0" cy="684.5" r="2.15"/><circle cx="367.3" cy="655.0" r="2.15"/><circle cx="379.8" cy="669.5" r="2.15"/><circle cx="365.1" cy="682.5" r="2.15"/><circle cx="374.3" cy="665.5" r="2.15"/><circle cx="410.7" cy="652.5" r="2.15"/><circle cx="395.1" cy="682.1" r="2.15"/><circle cx="397.6" cy="660.7" r="2.15"/><circle cx="404.1" cy="681.2" r="2.15"/><circle cx="410.2" cy="655.5" r="2.15"/><circle cx="395.3" cy="658.4" r="2.15"/><circle cx="395.5" cy="668.9" r="2.15"/><circle cx="396.0" cy="677.7" r="2.15"/><circle cx="399.5" cy="683.3" r="2.15"/><circle cx="394.5" cy="676.5" r="2.15"/><circle cx="398.7" cy="656.2" r="2.15"/><circle cx="375.4" cy="662.1" r="2.15"/><circle cx="398.0" cy="666.1" r="2.15"/><circle cx="387.6" cy="672.6" r="2.15"/><circle cx="402.8" cy="667.5" r="2.15"/><circle cx="369.8" cy="659.7" r="2.15"/><circle cx="373.8" cy="694.4" r="2.15"/><circle cx="366.6" cy="671.2" r="2.15"/><circle cx="403.4" cy="666.2" r="2.15"/><circle cx="410.4" cy="679.3" r="2.15"/><circle cx="397.5" cy="672.5" r="2.15"/><circle cx="383.2" cy="668.5" r="2.15"/><circle cx="405.8" cy="680.1" r="2.15"/><circle cx="404.0" cy="680.5" r="2.15"/><circle cx="392.8" cy="683.4" r="2.15"/><circle cx="377.6" cy="678.1" r="2.15"/><circle cx="379.8" cy="667.2" r="2.15"/><circle cx="385.8" cy="657.4" r="2.15"/><circle cx="380.7" cy="668.2" r="2.15"/><circle cx="386.3" cy="670.5" r="2.15"/><circle cx="396.8" cy="676.9" r="2.15"/><circle cx="411.4" cy="665.0" r="2.15"/><circle cx="367.5" cy="671.8" r="2.15"/><circle cx="393.1" cy="653.9" r="2.15"/><circle cx="366.7" cy="666.6" r="2.15"/><circle cx="370.7" cy="656.2" r="2.15"/><circle cx="405.2" cy="662.1" r="2.15"/><circle cx="393.5" cy="667.2" r="2.15"/><circle cx="410.6" cy="664.3" r="2.15"/><circle cx="387.0" cy="676.8" r="2.15"/><circle cx="365.5" cy="659.2" r="2.15"/><circle cx="384.1" cy="669.2" r="2.15"/><circle cx="394.3" cy="676.5" r="2.15"/><circle cx="411.5" cy="666.4" r="2.15"/><circle cx="413.7" cy="656.7" r="2.15"/><circle cx="388.5" cy="667.1" r="2.15"/><circle cx="385.3" cy="694.9" r="2.15"/><circle cx="369.9" cy="674.1" r="2.15"/><circle cx="396.9" cy="667.0" r="2.15"/><circle cx="375.4" cy="661.6" r="2.15"/><circle cx="372.3" cy="677.2" r="2.15"/><circle cx="365.6" cy="664.0" r="2.15"/><circle cx="365.0" cy="659.2" r="2.15"/><circle cx="398.9" cy="661.8" r="2.15"/><circle cx="370.8" cy="687.8" r="2.15"/><circle cx="413.0" cy="674.8" r="2.15"/><circle cx="369.2" cy="675.9" r="2.15"/><circle cx="408.1" cy="658.1" r="2.15"/><circle cx="371.2" cy="654.8" r="2.15"/><circle cx="365.7" cy="644.8" r="2.15"/><circle cx="400.7" cy="654.3" r="2.15"/><circle cx="376.9" cy="662.6" r="2.15"/><circle cx="401.4" cy="664.5" r="2.15"/><circle cx="374.1" cy="648.7" r="2.15"/><circle cx="367.3" cy="661.2" r="2.15"/><circle cx="403.4" cy="655.5" r="2.15"/><circle cx="400.4" cy="642.3" r="2.15"/><circle cx="407.4" cy="641.2" r="2.15"/><circle cx="401.2" cy="641.2" r="2.15"/><circle cx="369.0" cy="662.6" r="2.15"/><circle cx="396.1" cy="639.5" r="2.15"/><circle cx="400.2" cy="653.4" r="2.15"/><circle cx="387.8" cy="644.4" r="2.15"/><circle cx="411.3" cy="652.7" r="2.15"/><circle cx="377.5" cy="643.6" r="2.15"/><circle cx="412.9" cy="652.3" r="2.15"/><circle cx="400.6" cy="652.0" r="2.15"/><circle cx="365.3" cy="653.8" r="2.15"/><circle cx="365.5" cy="659.3" r="2.15"/><circle cx="397.2" cy="652.3" r="2.15"/><circle cx="405.5" cy="645.4" r="2.15"/><circle cx="368.8" cy="661.4" r="2.15"/><circle cx="380.3" cy="651.4" r="2.15"/><circle cx="401.2" cy="660.6" r="2.15"/><circle cx="373.1" cy="662.0" r="2.15"/><circle cx="407.7" cy="665.2" r="2.15"/><circle cx="389.0" cy="637.7" r="2.15"/><circle cx="367.8" cy="650.8" r="2.15"/><circle cx="383.1" cy="654.8" r="2.15"/><circle cx="393.5" cy="643.9" r="2.15"/><circle cx="386.7" cy="668.8" r="2.15"/><circle cx="398.5" cy="651.6" r="2.15"/><circle cx="372.0" cy="657.1" r="2.15"/><circle cx="404.5" cy="646.7" r="2.15"/><circle cx="382.9" cy="663.0" r="2.15"/><circle cx="396.9" cy="651.3" r="2.15"/><circle cx="396.2" cy="652.4" r="2.15"/><circle cx="385.6" cy="640.7" r="2.15"/><circle cx="384.0" cy="656.2" r="2.15"/><circle cx="404.0" cy="652.5" r="2.15"/><circle cx="411.9" cy="648.6" r="2.15"/><circle cx="403.9" cy="648.7" r="2.15"/><circle cx="393.1" cy="647.7" r="2.15"/><circle cx="379.4" cy="651.3" r="2.15"/><circle cx="367.8" cy="660.2" r="2.15"/><circle cx="367.6" cy="600.7" r="2.15"/><circle cx="373.1" cy="611.4" r="2.15"/><circle cx="398.8" cy="619.8" r="2.15"/><circle cx="374.3" cy="724.7" r="2.15"/><circle cx="391.1" cy="711.8" r="2.15"/><circle cx="413.4" cy="706.1" r="2.15"/><circle cx="399.9" cy="705.0" r="2.15"/><circle cx="406.0" cy="701.6" r="2.15"/><circle cx="381.3" cy="697.7" r="2.15"/><circle cx="395.0" cy="696.0" r="2.15"/><circle cx="413.5" cy="635.6" r="2.15"/><circle cx="406.2" cy="637.3" r="2.15"/></g>
<g fill="#dbff00"><circle cx="427.3" cy="659.7" r="2.15"/><circle cx="433.1" cy="658.3" r="2.15"/><circle cx="461.4" cy="669.1" r="2.15"/><circle cx="436.2" cy="647.1" r="2.15"/><circle cx="427.9" cy="662.8" r="2.15"/><circle cx="444.0" cy="645.8" r="2.15"/><circle cx="435.4" cy="667.7" r="2.15"/><circle cx="464.6" cy="664.3" r="2.15"/><circle cx="425.3" cy="652.0" r="2.15"/><circle cx="468.4" cy="660.3" r="2.15"/><circle cx="422.4" cy="648.1" r="2.15"/><circle cx="464.2" cy="654.2" r="2.15"/><circle cx="452.9" cy="663.5" r="2.15"/><circle cx="430.1" cy="649.3" r="2.15"/><circle cx="443.4" cy="647.6" r="2.15"/><circle cx="433.8" cy="669.3" r="2.15"/><circle cx="432.4" cy="639.8" r="2.15"/><circle cx="429.6" cy="650.3" r="2.15"/><circle cx="437.7" cy="648.2" r="2.15"/><circle cx="469.0" cy="668.9" r="2.15"/><circle cx="469.3" cy="659.9" r="2.15"/><circle cx="465.7" cy="657.0" r="2.15"/><circle cx="424.4" cy="645.7" r="2.15"/><circle cx="434.0" cy="665.8" r="2.15"/><circle cx="464.3" cy="661.2" r="2.15"/><circle cx="422.4" cy="670.3" r="2.15"/><circle cx="455.8" cy="656.1" r="2.15"/><circle cx="434.2" cy="651.5" r="2.15"/><circle cx="468.4" cy="667.5" r="2.15"/><circle cx="420.4" cy="658.9" r="2.15"/><circle cx="459.8" cy="650.2" r="2.15"/><circle cx="436.6" cy="641.7" r="2.15"/><circle cx="426.5" cy="649.0" r="2.15"/><circle cx="419.7" cy="656.6" r="2.15"/><circle cx="461.1" cy="663.5" r="2.15"/><circle cx="445.8" cy="661.6" r="2.15"/><circle cx="428.8" cy="659.5" r="2.15"/><circle cx="441.3" cy="653.1" r="2.15"/><circle cx="465.0" cy="654.6" r="2.15"/><circle cx="430.4" cy="641.1" r="2.15"/><circle cx="448.1" cy="652.0" r="2.15"/><circle cx="426.4" cy="662.7" r="2.15"/><circle cx="428.5" cy="642.0" r="2.15"/><circle cx="458.0" cy="646.7" r="2.15"/><circle cx="455.0" cy="653.4" r="2.15"/><circle cx="429.4" cy="659.9" r="2.15"/><circle cx="423.5" cy="669.0" r="2.15"/><circle cx="423.9" cy="662.3" r="2.15"/><circle cx="449.9" cy="647.0" r="2.15"/><circle cx="444.3" cy="660.6" r="2.15"/><circle cx="433.2" cy="664.7" r="2.15"/><circle cx="429.8" cy="652.7" r="2.15"/><circle cx="450.1" cy="652.3" r="2.15"/><circle cx="454.9" cy="649.4" r="2.15"/><circle cx="460.0" cy="649.1" r="2.15"/><circle cx="448.6" cy="643.1" r="2.15"/><circle cx="429.6" cy="660.9" r="2.15"/><circle cx="422.8" cy="646.5" r="2.15"/><circle cx="456.1" cy="662.0" r="2.15"/><circle cx="439.9" cy="648.8" r="2.15"/><circle cx="455.5" cy="652.8" r="2.15"/><circle cx="422.3" cy="652.3" r="2.15"/><circle cx="460.0" cy="646.6" r="2.15"/><circle cx="436.3" cy="654.4" r="2.15"/><circle cx="461.5" cy="645.4" r="2.15"/><circle cx="462.7" cy="647.3" r="2.15"/><circle cx="444.1" cy="653.2" r="2.15"/><circle cx="420.3" cy="658.7" r="2.15"/><circle cx="465.0" cy="660.2" r="2.15"/><circle cx="443.3" cy="658.4" r="2.15"/><circle cx="463.0" cy="655.8" r="2.15"/><circle cx="432.8" cy="654.4" r="2.15"/><circle cx="428.8" cy="630.7" r="2.15"/><circle cx="461.0" cy="649.2" r="2.15"/><circle cx="437.9" cy="648.2" r="2.15"/><circle cx="427.7" cy="661.0" r="2.15"/><circle cx="438.1" cy="659.8" r="2.15"/><circle cx="449.2" cy="656.8" r="2.15"/><circle cx="419.8" cy="652.7" r="2.15"/><circle cx="445.5" cy="662.4" r="2.15"/><circle cx="441.8" cy="641.5" r="2.15"/><circle cx="445.3" cy="658.7" r="2.15"/><circle cx="425.6" cy="645.7" r="2.15"/><circle cx="455.2" cy="672.7" r="2.15"/><circle cx="460.3" cy="654.3" r="2.15"/><circle cx="462.7" cy="652.0" r="2.15"/><circle cx="435.6" cy="652.7" r="2.15"/><circle cx="455.0" cy="649.5" r="2.15"/><circle cx="438.6" cy="652.0" r="2.15"/><circle cx="457.0" cy="653.0" r="2.15"/><circle cx="422.6" cy="669.2" r="2.15"/><circle cx="463.1" cy="659.9" r="2.15"/><circle cx="467.1" cy="672.7" r="2.15"/><circle cx="444.2" cy="649.3" r="2.15"/><circle cx="445.2" cy="651.8" r="2.15"/><circle cx="446.0" cy="655.8" r="2.15"/><circle cx="446.4" cy="660.7" r="2.15"/><circle cx="420.6" cy="658.8" r="2.15"/><circle cx="467.8" cy="639.7" r="2.15"/><circle cx="430.7" cy="640.6" r="2.15"/><circle cx="428.7" cy="654.7" r="2.15"/><circle cx="424.7" cy="644.1" r="2.15"/><circle cx="432.0" cy="666.8" r="2.15"/><circle cx="460.3" cy="669.5" r="2.15"/><circle cx="421.1" cy="658.0" r="2.15"/><circle cx="424.4" cy="661.1" r="2.15"/><circle cx="454.4" cy="658.6" r="2.15"/><circle cx="429.3" cy="652.7" r="2.15"/><circle cx="420.4" cy="630.3" r="2.15"/><circle cx="449.5" cy="659.4" r="2.15"/><circle cx="448.3" cy="653.8" r="2.15"/><circle cx="445.6" cy="652.1" r="2.15"/><circle cx="454.6" cy="654.5" r="2.15"/><circle cx="424.7" cy="646.9" r="2.15"/><circle cx="462.9" cy="640.2" r="2.15"/><circle cx="455.3" cy="664.1" r="2.15"/><circle cx="421.8" cy="653.0" r="2.15"/><circle cx="425.7" cy="656.3" r="2.15"/><circle cx="444.2" cy="651.4" r="2.15"/><circle cx="444.5" cy="666.3" r="2.15"/><circle cx="433.5" cy="668.1" r="2.15"/><circle cx="425.6" cy="672.5" r="2.15"/><circle cx="439.8" cy="650.1" r="2.15"/><circle cx="426.4" cy="652.7" r="2.15"/><circle cx="449.1" cy="653.7" r="2.15"/><circle cx="462.5" cy="672.9" r="2.15"/><circle cx="426.9" cy="657.2" r="2.15"/><circle cx="448.1" cy="660.2" r="2.15"/><circle cx="456.8" cy="665.4" r="2.15"/><circle cx="427.8" cy="661.5" r="2.15"/><circle cx="460.8" cy="648.7" r="2.15"/><circle cx="466.3" cy="649.9" r="2.15"/><circle cx="438.9" cy="654.4" r="2.15"/><circle cx="440.5" cy="650.2" r="2.15"/><circle cx="461.4" cy="659.0" r="2.15"/><circle cx="445.8" cy="653.7" r="2.15"/><circle cx="439.3" cy="653.9" r="2.15"/><circle cx="466.5" cy="649.9" r="2.15"/><circle cx="458.3" cy="654.8" r="2.15"/><circle cx="436.4" cy="655.4" r="2.15"/><circle cx="431.5" cy="655.3" r="2.15"/><circle cx="436.3" cy="659.3" r="2.15"/><circle cx="441.3" cy="636.6" r="2.15"/><circle cx="468.5" cy="650.2" r="2.15"/><circle cx="459.7" cy="650.8" r="2.15"/><circle cx="465.1" cy="636.1" r="2.15"/><circle cx="460.2" cy="643.2" r="2.15"/><circle cx="461.8" cy="666.5" r="2.15"/><circle cx="422.2" cy="648.7" r="2.15"/><circle cx="445.4" cy="647.6" r="2.15"/><circle cx="467.3" cy="639.3" r="2.15"/><circle cx="466.2" cy="643.8" r="2.15"/><circle cx="432.0" cy="648.1" r="2.15"/><circle cx="440.6" cy="663.5" r="2.15"/><circle cx="451.1" cy="661.1" r="2.15"/><circle cx="437.7" cy="652.1" r="2.15"/><circle cx="446.0" cy="650.2" r="2.15"/><circle cx="423.0" cy="662.3" r="2.15"/><circle cx="441.2" cy="657.3" r="2.15"/><circle cx="444.7" cy="657.4" r="2.15"/><circle cx="420.6" cy="653.8" r="2.15"/><circle cx="426.5" cy="651.6" r="2.15"/><circle cx="467.9" cy="656.5" r="2.15"/><circle cx="458.3" cy="664.0" r="2.15"/><circle cx="466.3" cy="644.4" r="2.15"/><circle cx="451.1" cy="641.6" r="2.15"/><circle cx="459.9" cy="655.1" r="2.15"/><circle cx="463.7" cy="646.1" r="2.15"/><circle cx="456.9" cy="620.4" r="2.15"/><circle cx="463.7" cy="626.0" r="2.15"/><circle cx="421.3" cy="628.3" r="2.15"/><circle cx="444.9" cy="694.0" r="2.15"/><circle cx="451.6" cy="679.6" r="2.15"/><circle cx="432.8" cy="676.8" r="2.15"/></g>
<g fill="#92ff00"><circle cx="483.7" cy="658.5" r="2.15"/><circle cx="483.4" cy="661.9" r="2.15"/><circle cx="505.8" cy="675.1" r="2.15"/><circle cx="504.4" cy="660.7" r="2.15"/><circle cx="491.9" cy="660.3" r="2.15"/><circle cx="523.9" cy="660.1" r="2.15"/><circle cx="506.1" cy="664.9" r="2.15"/><circle cx="476.4" cy="656.6" r="2.15"/><circle cx="494.9" cy="648.3" r="2.15"/><circle cx="513.6" cy="657.6" r="2.15"/><circle cx="489.6" cy="659.8" r="2.15"/><circle cx="508.8" cy="643.1" r="2.15"/><circle cx="474.5" cy="646.5" r="2.15"/><circle cx="489.5" cy="647.0" r="2.15"/><circle cx="516.3" cy="644.9" r="2.15"/><circle cx="503.6" cy="658.3" r="2.15"/><circle cx="507.7" cy="656.5" r="2.15"/><circle cx="484.1" cy="645.3" r="2.15"/><circle cx="499.2" cy="660.4" r="2.15"/><circle cx="501.9" cy="656.4" r="2.15"/><circle cx="487.6" cy="652.0" r="2.15"/><circle cx="506.6" cy="652.0" r="2.15"/><circle cx="500.8" cy="657.9" r="2.15"/><circle cx="524.1" cy="646.5" r="2.15"/><circle cx="503.0" cy="657.0" r="2.15"/><circle cx="494.8" cy="648.8" r="2.15"/><circle cx="480.4" cy="645.7" r="2.15"/><circle cx="482.2" cy="649.4" r="2.15"/><circle cx="512.2" cy="648.7" r="2.15"/><circle cx="479.7" cy="665.8" r="2.15"/><circle cx="479.3" cy="667.2" r="2.15"/><circle cx="482.8" cy="660.9" r="2.15"/><circle cx="500.4" cy="651.1" r="2.15"/><circle cx="515.4" cy="641.8" r="2.15"/><circle cx="504.9" cy="666.4" r="2.15"/><circle cx="514.6" cy="652.6" r="2.15"/><circle cx="477.4" cy="663.1" r="2.15"/><circle cx="475.0" cy="662.0" r="2.15"/><circle cx="512.8" cy="657.9" r="2.15"/><circle cx="490.4" cy="649.1" r="2.15"/><circle cx="510.0" cy="653.4" r="2.15"/><circle cx="492.0" cy="644.7" r="2.15"/><circle cx="482.8" cy="664.3" r="2.15"/><circle cx="487.6" cy="647.3" r="2.15"/><circle cx="479.3" cy="647.0" r="2.15"/><circle cx="519.4" cy="654.7" r="2.15"/><circle cx="503.4" cy="651.1" r="2.15"/><circle cx="491.7" cy="660.4" r="2.15"/><circle cx="496.8" cy="665.2" r="2.15"/><circle cx="493.6" cy="659.0" r="2.15"/><circle cx="477.1" cy="661.2" r="2.15"/><circle cx="518.7" cy="629.3" r="2.15"/><circle cx="503.4" cy="659.7" r="2.15"/><circle cx="522.2" cy="640.5" r="2.15"/><circle cx="496.3" cy="653.5" r="2.15"/><circle cx="505.3" cy="652.5" r="2.15"/><circle cx="486.8" cy="648.7" r="2.15"/><circle cx="476.5" cy="662.4" r="2.15"/><circle cx="520.8" cy="647.1" r="2.15"/><circle cx="517.0" cy="652.0" r="2.15"/><circle cx="490.0" cy="669.0" r="2.15"/><circle cx="519.2" cy="649.9" r="2.15"/><circle cx="515.0" cy="650.4" r="2.15"/><circle cx="489.5" cy="651.3" r="2.15"/><circle cx="504.4" cy="641.1" r="2.15"/><circle cx="522.2" cy="659.1" r="2.15"/><circle cx="499.0" cy="650.7" r="2.15"/><circle cx="521.7" cy="648.6" r="2.15"/><circle cx="486.4" cy="663.5" r="2.15"/><circle cx="493.8" cy="644.5" r="2.15"/><circle cx="510.2" cy="668.4" r="2.15"/><circle cx="485.4" cy="667.1" r="2.15"/><circle cx="489.8" cy="650.6" r="2.15"/><circle cx="518.0" cy="665.2" r="2.15"/><circle cx="498.5" cy="656.4" r="2.15"/><circle cx="513.9" cy="670.2" r="2.15"/><circle cx="486.5" cy="654.7" r="2.15"/><circle cx="483.0" cy="665.6" r="2.15"/><circle cx="492.2" cy="652.3" r="2.15"/><circle cx="483.6" cy="669.2" r="2.15"/><circle cx="522.8" cy="651.3" r="2.15"/><circle cx="488.8" cy="657.8" r="2.15"/><circle cx="502.3" cy="654.8" r="2.15"/><circle cx="480.1" cy="656.0" r="2.15"/><circle cx="501.0" cy="654.2" r="2.15"/><circle cx="493.6" cy="667.3" r="2.15"/><circle cx="494.4" cy="678.5" r="2.15"/><circle cx="477.6" cy="655.1" r="2.15"/><circle cx="480.5" cy="663.8" r="2.15"/><circle cx="515.5" cy="659.5" r="2.15"/><circle cx="491.9" cy="651.5" r="2.15"/><circle cx="486.5" cy="673.3" r="2.15"/><circle cx="483.9" cy="662.2" r="2.15"/><circle cx="488.5" cy="660.9" r="2.15"/><circle cx="486.2" cy="664.9" r="2.15"/><circle cx="476.1" cy="652.4" r="2.15"/><circle cx="507.5" cy="656.6" r="2.15"/><circle cx="491.4" cy="662.8" r="2.15"/><circle cx="482.1" cy="664.2" r="2.15"/><circle cx="509.5" cy="648.1" r="2.15"/><circle cx="479.0" cy="661.3" r="2.15"/><circle cx="487.8" cy="650.1" r="2.15"/><circle cx="516.0" cy="651.3" r="2.15"/><circle cx="480.7" cy="672.4" r="2.15"/><circle cx="496.4" cy="665.1" r="2.15"/><circle cx="516.0" cy="655.3" r="2.15"/><circle cx="514.5" cy="652.3" r="2.15"/><circle cx="482.3" cy="648.3" r="2.15"/><circle cx="491.9" cy="648.1" r="2.15"/><circle cx="510.4" cy="646.0" r="2.15"/><circle cx="493.1" cy="658.7" r="2.15"/><circle cx="522.1" cy="657.3" r="2.15"/><circle cx="484.7" cy="648.4" r="2.15"/><circle cx="521.8" cy="659.2" r="2.15"/><circle cx="499.5" cy="645.8" r="2.15"/><circle cx="485.7" cy="669.7" r="2.15"/><circle cx="496.9" cy="649.5" r="2.15"/><circle cx="480.9" cy="656.9" r="2.15"/><circle cx="509.6" cy="673.1" r="2.15"/><circle cx="487.3" cy="646.5" r="2.15"/><circle cx="519.2" cy="652.6" r="2.15"/><circle cx="503.6" cy="655.2" r="2.15"/><circle cx="492.7" cy="665.1" r="2.15"/><circle cx="486.6" cy="659.6" r="2.15"/><circle cx="504.7" cy="641.7" r="2.15"/><circle cx="484.9" cy="662.8" r="2.15"/><circle cx="517.8" cy="686.7" r="2.15"/><circle cx="480.5" cy="663.1" r="2.15"/><circle cx="499.9" cy="666.2" r="2.15"/><circle cx="501.4" cy="656.6" r="2.15"/><circle cx="487.8" cy="658.9" r="2.15"/><circle cx="512.8" cy="663.6" r="2.15"/><circle cx="493.5" cy="663.0" r="2.15"/><circle cx="507.1" cy="645.9" r="2.15"/><circle cx="502.6" cy="668.4" r="2.15"/><circle cx="489.8" cy="637.7" r="2.15"/><circle cx="493.8" cy="660.3" r="2.15"/><circle cx="478.6" cy="665.2" r="2.15"/><circle cx="483.2" cy="648.3" r="2.15"/><circle cx="516.8" cy="650.3" r="2.15"/><circle cx="490.3" cy="664.8" r="2.15"/><circle cx="507.4" cy="648.6" r="2.15"/><circle cx="479.8" cy="672.0" r="2.15"/><circle cx="502.4" cy="663.7" r="2.15"/><circle cx="492.4" cy="645.2" r="2.15"/><circle cx="499.3" cy="657.7" r="2.15"/><circle cx="489.1" cy="667.1" r="2.15"/><circle cx="477.6" cy="650.7" r="2.15"/><circle cx="489.9" cy="647.1" r="2.15"/><circle cx="485.6" cy="655.6" r="2.15"/><circle cx="480.6" cy="671.7" r="2.15"/><circle cx="510.1" cy="658.5" r="2.15"/><circle cx="488.4" cy="651.6" r="2.15"/><circle cx="494.5" cy="648.4" r="2.15"/><circle cx="519.7" cy="638.6" r="2.15"/><circle cx="513.0" cy="657.6" r="2.15"/><circle cx="518.4" cy="659.7" r="2.15"/><circle cx="517.3" cy="655.7" r="2.15"/><circle cx="480.9" cy="644.5" r="2.15"/><circle cx="488.1" cy="663.9" r="2.15"/><circle cx="475.8" cy="643.6" r="2.15"/><circle cx="508.2" cy="680.2" r="2.15"/><circle cx="507.4" cy="648.2" r="2.15"/><circle cx="491.9" cy="661.5" r="2.15"/><circle cx="494.9" cy="651.2" r="2.15"/><circle cx="507.2" cy="649.1" r="2.15"/><circle cx="509.2" cy="666.0" r="2.15"/><circle cx="486.7" cy="656.1" r="2.15"/><circle cx="514.5" cy="618.7" r="2.15"/><circle cx="516.6" cy="624.3" r="2.15"/><circle cx="491.9" cy="627.2" r="2.15"/><circle cx="495.5" cy="694.8" r="2.15"/><circle cx="498.5" cy="694.8" r="2.15"/><circle cx="523.6" cy="696.0" r="2.15"/><circle cx="504.4" cy="686.9" r="2.15"/><circle cx="505.7" cy="683.6" r="2.15"/></g>
<g fill="#49ff00"><circle cx="562.1" cy="654.9" r="2.15"/><circle cx="554.8" cy="652.9" r="2.15"/><circle cx="550.1" cy="645.5" r="2.15"/><circle cx="546.0" cy="663.2" r="2.15"/><circle cx="551.0" cy="657.0" r="2.15"/><circle cx="562.3" cy="658.7" r="2.15"/><circle cx="570.3" cy="651.9" r="2.15"/><circle cx="574.2" cy="655.3" r="2.15"/><circle cx="537.3" cy="654.3" r="2.15"/><circle cx="543.9" cy="650.1" r="2.15"/><circle cx="551.2" cy="658.1" r="2.15"/><circle cx="557.2" cy="655.0" r="2.15"/><circle cx="546.5" cy="660.7" r="2.15"/><circle cx="538.9" cy="646.0" r="2.15"/><circle cx="533.4" cy="650.0" r="2.15"/><circle cx="545.3" cy="642.8" r="2.15"/><circle cx="552.1" cy="667.8" r="2.15"/><circle cx="577.6" cy="661.8" r="2.15"/><circle cx="574.4" cy="656.7" r="2.15"/><circle cx="572.3" cy="648.1" r="2.15"/><circle cx="577.7" cy="659.4" r="2.15"/><circle cx="577.1" cy="663.2" r="2.15"/><circle cx="560.0" cy="641.5" r="2.15"/><circle cx="569.6" cy="656.4" r="2.15"/><circle cx="532.1" cy="655.4" r="2.15"/><circle cx="562.8" cy="662.9" r="2.15"/><circle cx="559.5" cy="641.6" r="2.15"/><circle cx="543.9" cy="652.4" r="2.15"/><circle cx="557.6" cy="658.4" r="2.15"/><circle cx="576.6" cy="658.0" r="2.15"/><circle cx="553.1" cy="656.4" r="2.15"/><circle cx="561.4" cy="652.7" r="2.15"/><circle cx="544.0" cy="655.1" r="2.15"/><circle cx="546.2" cy="661.7" r="2.15"/><circle cx="573.3" cy="645.2" r="2.15"/><circle cx="530.5" cy="663.2" r="2.15"/><circle cx="538.5" cy="646.1" r="2.15"/><circle cx="563.0" cy="650.2" r="2.15"/><circle cx="551.4" cy="666.8" r="2.15"/><circle cx="533.4" cy="648.4" r="2.15"/><circle cx="562.1" cy="653.4" r="2.15"/><circle cx="547.7" cy="662.1" r="2.15"/><circle cx="558.1" cy="640.4" r="2.15"/><circle cx="549.9" cy="646.3" r="2.15"/><circle cx="555.5" cy="672.7" r="2.15"/><circle cx="557.3" cy="648.1" r="2.15"/><circle cx="548.9" cy="661.1" r="2.15"/><circle cx="534.8" cy="668.6" r="2.15"/><circle cx="538.1" cy="651.1" r="2.15"/><circle cx="573.5" cy="666.2" r="2.15"/><circle cx="556.4" cy="659.0" r="2.15"/><circle cx="534.7" cy="655.7" r="2.15"/><circle cx="572.1" cy="659.2" r="2.15"/><circle cx="541.8" cy="664.4" r="2.15"/><circle cx="533.8" cy="674.6" r="2.15"/><circle cx="555.6" cy="657.8" r="2.15"/><circle cx="541.7" cy="647.2" r="2.15"/><circle cx="553.5" cy="646.9" r="2.15"/><circle cx="556.7" cy="644.6" r="2.15"/><circle cx="540.4" cy="653.2" r="2.15"/><circle cx="557.7" cy="654.4" r="2.15"/><circle cx="534.7" cy="662.3" r="2.15"/><circle cx="554.7" cy="676.5" r="2.15"/><circle cx="558.5" cy="662.5" r="2.15"/><circle cx="533.1" cy="662.9" r="2.15"/><circle cx="549.5" cy="664.0" r="2.15"/><circle cx="532.8" cy="656.5" r="2.15"/><circle cx="551.0" cy="653.7" r="2.15"/><circle cx="572.2" cy="661.6" r="2.15"/><circle cx="556.6" cy="650.2" r="2.15"/><circle cx="564.8" cy="654.4" r="2.15"/><circle cx="566.9" cy="650.0" r="2.15"/><circle cx="534.8" cy="648.4" r="2.15"/><circle cx="578.5" cy="647.1" r="2.15"/><circle cx="565.1" cy="659.3" r="2.15"/><circle cx="534.2" cy="661.6" r="2.15"/><circle cx="570.5" cy="656.0" r="2.15"/><circle cx="548.7" cy="647.0" r="2.15"/><circle cx="537.7" cy="673.9" r="2.15"/><circle cx="577.0" cy="650.2" r="2.15"/><circle cx="557.2" cy="660.5" r="2.15"/><circle cx="567.8" cy="651.1" r="2.15"/><circle cx="535.9" cy="653.2" r="2.15"/><circle cx="567.8" cy="659.4" r="2.15"/><circle cx="532.0" cy="663.0" r="2.15"/><circle cx="540.9" cy="659.2" r="2.15"/><circle cx="547.7" cy="652.5" r="2.15"/><circle cx="529.9" cy="665.6" r="2.15"/><circle cx="558.8" cy="656.2" r="2.15"/><circle cx="539.7" cy="661.3" r="2.15"/><circle cx="544.1" cy="661.8" r="2.15"/><circle cx="564.4" cy="665.7" r="2.15"/><circle cx="550.4" cy="669.6" r="2.15"/><circle cx="573.4" cy="653.2" r="2.15"/><circle cx="560.1" cy="654.6" r="2.15"/><circle cx="572.6" cy="659.9" r="2.15"/><circle cx="557.2" cy="658.3" r="2.15"/><circle cx="574.9" cy="649.2" r="2.15"/><circle cx="572.5" cy="655.7" r="2.15"/><circle cx="537.5" cy="653.8" r="2.15"/><circle cx="566.3" cy="657.5" r="2.15"/><circle cx="546.1" cy="651.4" r="2.15"/><circle cx="567.2" cy="659.1" r="2.15"/><circle cx="563.1" cy="664.7" r="2.15"/><circle cx="570.3" cy="651.2" r="2.15"/><circle cx="535.2" cy="651.9" r="2.15"/><circle cx="547.7" cy="663.8" r="2.15"/><circle cx="565.9" cy="655.0" r="2.15"/><circle cx="576.4" cy="655.0" r="2.15"/><circle cx="565.1" cy="653.8" r="2.15"/><circle cx="531.3" cy="632.0" r="2.15"/><circle cx="559.2" cy="654.8" r="2.15"/><circle cx="534.1" cy="656.5" r="2.15"/><circle cx="556.5" cy="659.8" r="2.15"/><circle cx="569.2" cy="661.0" r="2.15"/><circle cx="534.7" cy="678.1" r="2.15"/><circle cx="575.3" cy="660.0" r="2.15"/><circle cx="562.8" cy="658.0" r="2.15"/><circle cx="541.8" cy="664.9" r="2.15"/><circle cx="538.7" cy="655.9" r="2.15"/><circle cx="551.4" cy="652.8" r="2.15"/><circle cx="570.9" cy="647.3" r="2.15"/><circle cx="558.1" cy="638.8" r="2.15"/><circle cx="534.8" cy="655.6" r="2.15"/><circle cx="530.2" cy="663.3" r="2.15"/><circle cx="534.6" cy="665.2" r="2.15"/><circle cx="569.0" cy="645.9" r="2.15"/><circle cx="538.3" cy="661.0" r="2.15"/><circle cx="556.8" cy="656.5" r="2.15"/><circle cx="543.6" cy="650.6" r="2.15"/><circle cx="563.4" cy="655.3" r="2.15"/><circle cx="548.1" cy="655.1" r="2.15"/><circle cx="536.3" cy="654.2" r="2.15"/><circle cx="572.8" cy="671.4" r="2.15"/><circle cx="556.0" cy="657.9" r="2.15"/><circle cx="563.5" cy="651.6" r="2.15"/><circle cx="569.4" cy="666.4" r="2.15"/><circle cx="576.4" cy="668.1" r="2.15"/><circle cx="529.8" cy="652.2" r="2.15"/><circle cx="546.2" cy="658.6" r="2.15"/><circle cx="536.6" cy="653.3" r="2.15"/><circle cx="554.1" cy="671.0" r="2.15"/><circle cx="572.7" cy="656.8" r="2.15"/><circle cx="569.0" cy="663.5" r="2.15"/><circle cx="530.9" cy="650.6" r="2.15"/><circle cx="538.2" cy="643.0" r="2.15"/><circle cx="569.9" cy="659.7" r="2.15"/><circle cx="563.0" cy="649.6" r="2.15"/><circle cx="548.7" cy="663.7" r="2.15"/><circle cx="552.8" cy="658.9" r="2.15"/><circle cx="537.0" cy="653.6" r="2.15"/><circle cx="571.3" cy="661.6" r="2.15"/><circle cx="548.7" cy="646.6" r="2.15"/><circle cx="572.7" cy="653.9" r="2.15"/><circle cx="559.6" cy="666.6" r="2.15"/><circle cx="532.9" cy="667.0" r="2.15"/><circle cx="545.5" cy="661.2" r="2.15"/><circle cx="539.9" cy="673.0" r="2.15"/><circle cx="573.7" cy="647.8" r="2.15"/><circle cx="558.5" cy="659.6" r="2.15"/><circle cx="531.3" cy="661.1" r="2.15"/><circle cx="537.6" cy="656.5" r="2.15"/><circle cx="547.1" cy="659.7" r="2.15"/><circle cx="552.4" cy="646.6" r="2.15"/><circle cx="557.9" cy="645.9" r="2.15"/><circle cx="548.5" cy="650.7" r="2.15"/><circle cx="546.7" cy="652.1" r="2.15"/><circle cx="529.4" cy="649.2" r="2.15"/><circle cx="558.0" cy="653.1" r="2.15"/><circle cx="545.8" cy="657.1" r="2.15"/><circle cx="530.1" cy="648.3" r="2.15"/><circle cx="552.0" cy="654.4" r="2.15"/><circle cx="578.3" cy="651.9" r="2.15"/><circle cx="531.4" cy="644.7" r="2.15"/><circle cx="536.4" cy="641.4" r="2.15"/><circle cx="562.6" cy="656.2" r="2.15"/><circle cx="542.7" cy="648.0" r="2.15"/><circle cx="542.7" cy="667.4" r="2.15"/><circle cx="554.0" cy="662.2" r="2.15"/><circle cx="542.2" cy="653.6" r="2.15"/><circle cx="540.4" cy="616.4" r="2.15"/><circle cx="557.5" cy="627.2" r="2.15"/><circle cx="555.5" cy="628.3" r="2.15"/><circle cx="554.8" cy="694.0" r="2.15"/><circle cx="575.0" cy="731.2" r="2.15"/><circle cx="576.8" cy="686.4" r="2.15"/><circle cx="578.6" cy="683.6" r="2.15"/></g>
<g fill="#00ff00"><circle cx="620.5" cy="644.8" r="2.15"/><circle cx="587.1" cy="653.1" r="2.15"/><circle cx="616.1" cy="653.1" r="2.15"/><circle cx="603.9" cy="672.4" r="2.15"/><circle cx="627.0" cy="653.5" r="2.15"/><circle cx="586.9" cy="667.2" r="2.15"/><circle cx="612.0" cy="660.7" r="2.15"/><circle cx="604.3" cy="661.4" r="2.15"/><circle cx="629.7" cy="658.3" r="2.15"/><circle cx="631.0" cy="640.6" r="2.15"/><circle cx="615.2" cy="641.4" r="2.15"/><circle cx="595.1" cy="669.7" r="2.15"/><circle cx="596.5" cy="658.4" r="2.15"/><circle cx="597.0" cy="661.9" r="2.15"/><circle cx="605.5" cy="654.2" r="2.15"/><circle cx="595.4" cy="669.2" r="2.15"/><circle cx="594.0" cy="667.4" r="2.15"/><circle cx="621.7" cy="656.0" r="2.15"/><circle cx="615.9" cy="661.7" r="2.15"/><circle cx="598.8" cy="646.7" r="2.15"/><circle cx="633.5" cy="657.8" r="2.15"/><circle cx="594.7" cy="653.7" r="2.15"/><circle cx="612.3" cy="659.3" r="2.15"/><circle cx="591.7" cy="649.0" r="2.15"/><circle cx="626.9" cy="645.7" r="2.15"/><circle cx="627.2" cy="656.1" r="2.15"/><circle cx="597.2" cy="659.6" r="2.15"/><circle cx="621.4" cy="650.7" r="2.15"/><circle cx="624.9" cy="654.6" r="2.15"/><circle cx="598.0" cy="647.6" r="2.15"/><circle cx="600.4" cy="654.7" r="2.15"/><circle cx="608.1" cy="654.6" r="2.15"/><circle cx="628.3" cy="649.0" r="2.15"/><circle cx="591.9" cy="662.1" r="2.15"/><circle cx="617.9" cy="665.7" r="2.15"/><circle cx="613.7" cy="651.7" r="2.15"/><circle cx="606.5" cy="657.0" r="2.15"/><circle cx="612.8" cy="650.5" r="2.15"/><circle cx="627.9" cy="648.8" r="2.15"/><circle cx="594.4" cy="652.5" r="2.15"/><circle cx="628.0" cy="660.3" r="2.15"/><circle cx="601.9" cy="642.6" r="2.15"/><circle cx="622.8" cy="674.3" r="2.15"/><circle cx="626.9" cy="661.7" r="2.15"/><circle cx="593.0" cy="665.6" r="2.15"/><circle cx="627.0" cy="639.3" r="2.15"/><circle cx="633.5" cy="658.4" r="2.15"/><circle cx="598.7" cy="657.1" r="2.15"/><circle cx="585.1" cy="650.5" r="2.15"/><circle cx="589.4" cy="645.3" r="2.15"/><circle cx="632.5" cy="647.4" r="2.15"/><circle cx="584.4" cy="656.0" r="2.15"/><circle cx="629.4" cy="654.0" r="2.15"/><circle cx="591.4" cy="664.2" r="2.15"/><circle cx="620.6" cy="653.2" r="2.15"/><circle cx="588.8" cy="657.7" r="2.15"/><circle cx="592.3" cy="673.4" r="2.15"/><circle cx="617.9" cy="653.6" r="2.15"/><circle cx="588.4" cy="656.4" r="2.15"/><circle cx="600.8" cy="648.9" r="2.15"/><circle cx="629.7" cy="650.3" r="2.15"/><circle cx="619.6" cy="654.6" r="2.15"/><circle cx="627.9" cy="656.9" r="2.15"/><circle cx="632.7" cy="642.2" r="2.15"/><circle cx="585.5" cy="653.7" r="2.15"/><circle cx="595.6" cy="647.0" r="2.15"/><circle cx="623.4" cy="651.8" r="2.15"/><circle cx="618.3" cy="644.4" r="2.15"/><circle cx="585.8" cy="647.3" r="2.15"/><circle cx="609.1" cy="664.6" r="2.15"/><circle cx="595.4" cy="650.8" r="2.15"/><circle cx="605.4" cy="642.4" r="2.15"/><circle cx="589.1" cy="644.2" r="2.15"/><circle cx="584.9" cy="658.0" r="2.15"/><circle cx="633.3" cy="641.8" r="2.15"/><circle cx="599.7" cy="648.0" r="2.15"/><circle cx="627.7" cy="649.9" r="2.15"/><circle cx="589.9" cy="660.8" r="2.15"/><circle cx="608.2" cy="651.8" r="2.15"/><circle cx="590.7" cy="651.2" r="2.15"/><circle cx="605.3" cy="672.2" r="2.15"/><circle cx="592.8" cy="659.3" r="2.15"/><circle cx="618.1" cy="667.6" r="2.15"/><circle cx="591.3" cy="670.1" r="2.15"/><circle cx="620.7" cy="653.6" r="2.15"/><circle cx="608.9" cy="648.0" r="2.15"/><circle cx="589.5" cy="655.4" r="2.15"/><circle cx="601.5" cy="667.6" r="2.15"/><circle cx="608.6" cy="665.9" r="2.15"/><circle cx="629.7" cy="648.2" r="2.15"/><circle cx="601.3" cy="656.9" r="2.15"/><circle cx="594.6" cy="652.9" r="2.15"/><circle cx="632.1" cy="657.6" r="2.15"/><circle cx="627.9" cy="654.0" r="2.15"/><circle cx="620.4" cy="660.7" r="2.15"/><circle cx="597.5" cy="660.8" r="2.15"/><circle cx="592.7" cy="666.8" r="2.15"/><circle cx="597.1" cy="655.0" r="2.15"/><circle cx="587.3" cy="655.8" r="2.15"/><circle cx="586.0" cy="645.9" r="2.15"/><circle cx="609.3" cy="636.2" r="2.15"/><circle cx="604.2" cy="653.7" r="2.15"/><circle cx="611.6" cy="678.4" r="2.15"/><circle cx="602.0" cy="665.2" r="2.15"/><circle cx="584.4" cy="644.4" r="2.15"/><circle cx="618.2" cy="651.3" r="2.15"/><circle cx="616.5" cy="656.6" r="2.15"/><circle cx="611.0" cy="662.8" r="2.15"/><circle cx="611.3" cy="651.3" r="2.15"/><circle cx="618.3" cy="652.6" r="2.15"/><circle cx="632.9" cy="646.3" r="2.15"/><circle cx="627.5" cy="644.1" r="2.15"/><circle cx="619.7" cy="642.3" r="2.15"/><circle cx="603.8" cy="647.1" r="2.15"/><circle cx="599.8" cy="664.7" r="2.15"/><circle cx="604.8" cy="650.5" r="2.15"/><circle cx="632.4" cy="664.5" r="2.15"/><circle cx="603.2" cy="661.0" r="2.15"/><circle cx="603.1" cy="661.7" r="2.15"/><circle cx="604.3" cy="664.9" r="2.15"/><circle cx="591.0" cy="662.1" r="2.15"/><circle cx="633.7" cy="643.2" r="2.15"/><circle cx="584.1" cy="656.0" r="2.15"/><circle cx="614.2" cy="642.0" r="2.15"/><circle cx="630.1" cy="654.1" r="2.15"/><circle cx="596.6" cy="669.9" r="2.15"/><circle cx="614.4" cy="660.7" r="2.15"/><circle cx="602.7" cy="641.8" r="2.15"/><circle cx="595.9" cy="646.2" r="2.15"/><circle cx="593.8" cy="656.7" r="2.15"/><circle cx="589.7" cy="657.2" r="2.15"/><circle cx="625.9" cy="645.2" r="2.15"/><circle cx="623.0" cy="651.2" r="2.15"/><circle cx="629.2" cy="657.0" r="2.15"/><circle cx="586.4" cy="645.8" r="2.15"/><circle cx="618.5" cy="654.8" r="2.15"/><circle cx="600.1" cy="663.5" r="2.15"/><circle cx="616.1" cy="667.4" r="2.15"/><circle cx="611.3" cy="672.0" r="2.15"/><circle cx="599.6" cy="635.9" r="2.15"/><circle cx="632.3" cy="653.4" r="2.15"/><circle cx="583.9" cy="641.3" r="2.15"/><circle cx="621.1" cy="653.7" r="2.15"/><circle cx="626.5" cy="654.3" r="2.15"/><circle cx="609.3" cy="653.4" r="2.15"/><circle cx="613.4" cy="653.1" r="2.15"/><circle cx="633.5" cy="666.1" r="2.15"/><circle cx="595.6" cy="655.5" r="2.15"/><circle cx="615.3" cy="647.0" r="2.15"/><circle cx="621.0" cy="637.1" r="2.15"/><circle cx="602.8" cy="658.6" r="2.15"/><circle cx="619.4" cy="651.8" r="2.15"/><circle cx="603.5" cy="649.3" r="2.15"/><circle cx="610.1" cy="642.9" r="2.15"/><circle cx="614.5" cy="650.9" r="2.15"/><circle cx="617.7" cy="657.7" r="2.15"/><circle cx="600.0" cy="640.9" r="2.15"/><circle cx="615.3" cy="652.7" r="2.15"/><circle cx="611.0" cy="654.2" r="2.15"/><circle cx="595.0" cy="631.4" r="2.15"/><circle cx="614.4" cy="667.4" r="2.15"/><circle cx="597.1" cy="655.3" r="2.15"/><circle cx="629.2" cy="663.8" r="2.15"/><circle cx="607.5" cy="642.8" r="2.15"/><circle cx="619.9" cy="662.6" r="2.15"/><circle cx="609.9" cy="653.5" r="2.15"/><circle cx="607.7" cy="652.0" r="2.15"/><circle cx="594.9" cy="657.7" r="2.15"/><circle cx="585.5" cy="600.7" r="2.15"/><circle cx="591.0" cy="621.5" r="2.15"/><circle cx="630.1" cy="622.6" r="2.15"/><circle cx="610.3" cy="627.2" r="2.15"/><circle cx="603.3" cy="685.8" r="2.15"/><circle cx="607.1" cy="694.0" r="2.15"/><circle cx="631.1" cy="684.1" r="2.15"/><circle cx="610.0" cy="682.4" r="2.15"/></g>
<g fill="#00ff49"><circle cx="661.7" cy="668.5" r="2.15"/><circle cx="680.5" cy="656.7" r="2.15"/><circle cx="659.4" cy="653.9" r="2.15"/><circle cx="662.3" cy="649.4" r="2.15"/><circle cx="683.1" cy="650.4" r="2.15"/><circle cx="660.6" cy="662.1" r="2.15"/><circle cx="663.2" cy="663.6" r="2.15"/><circle cx="664.2" cy="665.7" r="2.15"/><circle cx="679.8" cy="641.7" r="2.15"/><circle cx="672.1" cy="664.0" r="2.15"/><circle cx="675.6" cy="646.8" r="2.15"/><circle cx="658.7" cy="652.2" r="2.15"/><circle cx="640.7" cy="647.0" r="2.15"/><circle cx="672.6" cy="666.9" r="2.15"/><circle cx="666.3" cy="651.0" r="2.15"/><circle cx="677.0" cy="651.0" r="2.15"/><circle cx="677.1" cy="654.3" r="2.15"/><circle cx="644.6" cy="650.6" r="2.15"/><circle cx="649.7" cy="663.1" r="2.15"/><circle cx="642.5" cy="643.1" r="2.15"/><circle cx="679.4" cy="662.8" r="2.15"/><circle cx="643.7" cy="655.4" r="2.15"/><circle cx="643.1" cy="647.5" r="2.15"/><circle cx="676.2" cy="650.1" r="2.15"/><circle cx="666.8" cy="642.1" r="2.15"/><circle cx="641.4" cy="654.5" r="2.15"/><circle cx="672.6" cy="662.8" r="2.15"/><circle cx="674.1" cy="651.4" r="2.15"/><circle cx="662.7" cy="650.3" r="2.15"/><circle cx="641.4" cy="666.9" r="2.15"/><circle cx="673.1" cy="647.2" r="2.15"/><circle cx="659.5" cy="644.6" r="2.15"/><circle cx="667.8" cy="660.7" r="2.15"/><circle cx="688.4" cy="647.1" r="2.15"/><circle cx="679.4" cy="653.6" r="2.15"/><circle cx="682.2" cy="646.7" r="2.15"/><circle cx="645.9" cy="658.4" r="2.15"/><circle cx="655.3" cy="647.7" r="2.15"/><circle cx="664.5" cy="649.0" r="2.15"/><circle cx="639.0" cy="653.6" r="2.15"/><circle cx="688.0" cy="656.7" r="2.15"/><circle cx="652.4" cy="655.4" r="2.15"/><circle cx="651.7" cy="648.8" r="2.15"/><circle cx="654.3" cy="642.9" r="2.15"/><circle cx="651.4" cy="655.3" r="2.15"/><circle cx="681.5" cy="647.3" r="2.15"/><circle cx="666.4" cy="653.5" r="2.15"/><circle cx="664.1" cy="639.3" r="2.15"/><circle cx="659.6" cy="644.8" r="2.15"/><circle cx="641.2" cy="648.1" r="2.15"/><circle cx="653.8" cy="650.9" r="2.15"/><circle cx="681.9" cy="658.3" r="2.15"/><circle cx="678.7" cy="666.6" r="2.15"/><circle cx="681.4" cy="647.7" r="2.15"/><circle cx="651.5" cy="659.8" r="2.15"/><circle cx="648.7" cy="659.4" r="2.15"/><circle cx="641.3" cy="646.0" r="2.15"/><circle cx="665.4" cy="651.9" r="2.15"/><circle cx="657.3" cy="662.6" r="2.15"/><circle cx="661.8" cy="645.0" r="2.15"/><circle cx="663.1" cy="656.5" r="2.15"/><circle cx="667.8" cy="646.5" r="2.15"/><circle cx="656.9" cy="662.8" r="2.15"/><circle cx="678.6" cy="665.8" r="2.15"/><circle cx="648.7" cy="658.9" r="2.15"/><circle cx="684.5" cy="648.0" r="2.15"/><circle cx="666.4" cy="670.0" r="2.15"/><circle cx="641.2" cy="662.8" r="2.15"/><circle cx="654.3" cy="646.7" r="2.15"/><circle cx="665.2" cy="634.6" r="2.15"/><circle cx="659.1" cy="656.0" r="2.15"/><circle cx="666.8" cy="661.6" r="2.15"/><circle cx="654.8" cy="657.8" r="2.15"/><circle cx="652.3" cy="660.3" r="2.15"/><circle cx="678.4" cy="642.3" r="2.15"/><circle cx="653.2" cy="648.5" r="2.15"/><circle cx="674.1" cy="661.2" r="2.15"/><circle cx="678.7" cy="647.6" r="2.15"/><circle cx="668.2" cy="671.2" r="2.15"/><circle cx="661.3" cy="653.9" r="2.15"/><circle cx="685.3" cy="654.2" r="2.15"/><circle cx="660.9" cy="656.0" r="2.15"/><circle cx="682.5" cy="661.6" r="2.15"/><circle cx="641.5" cy="659.1" r="2.15"/><circle cx="652.9" cy="622.6" r="2.15"/><circle cx="662.0" cy="624.3" r="2.15"/><circle cx="660.3" cy="627.2" r="2.15"/><circle cx="670.5" cy="675.1" r="2.15"/><circle cx="641.1" cy="676.2" r="2.15"/><circle cx="681.7" cy="677.9" r="2.15"/></g>
<g fill="#00ff92"><circle cx="732.7" cy="651.3" r="2.15"/><circle cx="698.0" cy="653.4" r="2.15"/><circle cx="729.2" cy="652.1" r="2.15"/><circle cx="710.9" cy="648.4" r="2.15"/><circle cx="701.5" cy="661.0" r="2.15"/><circle cx="741.6" cy="657.6" r="2.15"/><circle cx="727.0" cy="660.4" r="2.15"/><circle cx="730.6" cy="655.3" r="2.15"/><circle cx="700.2" cy="656.6" r="2.15"/><circle cx="734.8" cy="657.9" r="2.15"/><circle cx="740.2" cy="653.8" r="2.15"/><circle cx="738.6" cy="649.1" r="2.15"/><circle cx="730.6" cy="650.8" r="2.15"/><circle cx="735.0" cy="649.4" r="2.15"/><circle cx="733.4" cy="654.9" r="2.15"/><circle cx="722.9" cy="653.9" r="2.15"/><circle cx="715.2" cy="650.5" r="2.15"/><circle cx="734.6" cy="652.0" r="2.15"/><circle cx="732.6" cy="652.0" r="2.15"/><circle cx="736.9" cy="656.4" r="2.15"/><circle cx="708.3" cy="656.8" r="2.15"/><circle cx="741.4" cy="657.6" r="2.15"/><circle cx="720.0" cy="651.1" r="2.15"/><circle cx="740.6" cy="658.2" r="2.15"/><circle cx="699.2" cy="654.7" r="2.15"/><circle cx="741.7" cy="654.4" r="2.15"/><circle cx="732.7" cy="655.7" r="2.15"/><circle cx="706.0" cy="656.3" r="2.15"/><circle cx="735.3" cy="653.9" r="2.15"/><circle cx="705.0" cy="657.8" r="2.15"/><circle cx="703.3" cy="654.9" r="2.15"/><circle cx="716.3" cy="650.9" r="2.15"/><circle cx="705.2" cy="657.2" r="2.15"/><circle cx="718.0" cy="651.4" r="2.15"/><circle cx="738.7" cy="651.1" r="2.15"/><circle cx="727.6" cy="649.2" r="2.15"/><circle cx="728.9" cy="658.3" r="2.15"/><circle cx="713.0" cy="649.6" r="2.15"/><circle cx="732.5" cy="651.9" r="2.15"/><circle cx="733.0" cy="650.4" r="2.15"/><circle cx="727.5" cy="652.0" r="2.15"/><circle cx="740.4" cy="655.8" r="2.15"/><circle cx="734.6" cy="652.1" r="2.15"/><circle cx="713.7" cy="654.7" r="2.15"/><circle cx="697.8" cy="656.9" r="2.15"/><circle cx="726.0" cy="657.2" r="2.15"/><circle cx="735.1" cy="656.8" r="2.15"/><circle cx="710.4" cy="655.8" r="2.15"/><circle cx="723.1" cy="660.7" r="2.15"/><circle cx="735.1" cy="654.2" r="2.15"/><circle cx="733.0" cy="660.0" r="2.15"/><circle cx="693.7" cy="653.2" r="2.15"/><circle cx="717.8" cy="650.6" r="2.15"/><circle cx="694.3" cy="651.2" r="2.15"/><circle cx="699.0" cy="649.8" r="2.15"/><circle cx="734.0" cy="650.0" r="2.15"/><circle cx="714.3" cy="647.3" r="2.15"/><circle cx="723.6" cy="655.6" r="2.15"/><circle cx="716.3" cy="658.1" r="2.15"/><circle cx="710.2" cy="655.8" r="2.15"/><circle cx="704.1" cy="658.6" r="2.15"/><circle cx="711.1" cy="650.8" r="2.15"/><circle cx="735.6" cy="663.2" r="2.15"/><circle cx="724.3" cy="655.2" r="2.15"/><circle cx="708.0" cy="652.1" r="2.15"/><circle cx="697.8" cy="653.2" r="2.15"/><circle cx="707.0" cy="652.4" r="2.15"/><circle cx="728.4" cy="658.8" r="2.15"/><circle cx="715.5" cy="656.8" r="2.15"/><circle cx="726.4" cy="655.7" r="2.15"/><circle cx="733.7" cy="653.6" r="2.15"/><circle cx="699.5" cy="653.3" r="2.15"/><circle cx="727.5" cy="650.2" r="2.15"/><circle cx="695.5" cy="659.4" r="2.15"/><circle cx="734.5" cy="654.3" r="2.15"/><circle cx="702.6" cy="647.7" r="2.15"/><circle cx="707.0" cy="650.9" r="2.15"/><circle cx="741.2" cy="654.4" r="2.15"/><circle cx="711.5" cy="652.3" r="2.15"/><circle cx="704.6" cy="656.0" r="2.15"/><circle cx="737.8" cy="650.7" r="2.15"/><circle cx="723.9" cy="657.1" r="2.15"/><circle cx="738.0" cy="652.5" r="2.15"/><circle cx="713.1" cy="654.4" r="2.15"/><circle cx="718.4" cy="657.8" r="2.15"/><circle cx="741.1" cy="654.6" r="2.15"/><circle cx="718.7" cy="655.5" r="2.15"/><circle cx="742.7" cy="657.5" r="2.15"/><circle cx="702.9" cy="654.7" r="2.15"/><circle cx="734.9" cy="658.1" r="2.15"/><circle cx="701.5" cy="651.4" r="2.15"/><circle cx="719.7" cy="653.5" r="2.15"/><circle cx="693.5" cy="651.8" r="2.15"/><circle cx="702.2" cy="652.9" r="2.15"/><circle cx="740.6" cy="654.3" r="2.15"/><circle cx="716.1" cy="659.8" r="2.15"/><circle cx="733.8" cy="656.2" r="2.15"/><circle cx="705.9" cy="655.1" r="2.15"/><circle cx="711.0" cy="656.9" r="2.15"/><circle cx="698.5" cy="655.5" r="2.15"/><circle cx="721.0" cy="656.4" r="2.15"/><circle cx="736.4" cy="656.8" r="2.15"/><circle cx="719.1" cy="658.1" r="2.15"/><circle cx="712.2" cy="656.8" r="2.15"/><circle cx="739.8" cy="658.9" r="2.15"/><circle cx="738.0" cy="651.8" r="2.15"/><circle cx="726.7" cy="654.3" r="2.15"/><circle cx="697.2" cy="653.6" r="2.15"/><circle cx="724.6" cy="652.5" r="2.15"/><circle cx="715.6" cy="656.5" r="2.15"/><circle cx="741.2" cy="651.6" r="2.15"/><circle cx="711.5" cy="661.1" r="2.15"/><circle cx="726.4" cy="657.3" r="2.15"/><circle cx="725.0" cy="655.1" r="2.15"/><circle cx="712.2" cy="649.6" r="2.15"/><circle cx="719.5" cy="651.5" r="2.15"/><circle cx="727.2" cy="652.4" r="2.15"/><circle cx="738.7" cy="652.7" r="2.15"/><circle cx="718.3" cy="657.0" r="2.15"/><circle cx="711.6" cy="655.7" r="2.15"/><circle cx="742.1" cy="657.3" r="2.15"/><circle cx="696.3" cy="655.0" r="2.15"/><circle cx="735.1" cy="659.3" r="2.15"/><circle cx="727.5" cy="656.2" r="2.15"/><circle cx="721.2" cy="656.9" r="2.15"/><circle cx="715.8" cy="653.7" r="2.15"/><circle cx="730.9" cy="657.2" r="2.15"/><circle cx="737.9" cy="654.1" r="2.15"/><circle cx="729.8" cy="653.6" r="2.15"/><circle cx="730.8" cy="653.6" r="2.15"/><circle cx="695.2" cy="652.6" r="2.15"/><circle cx="709.7" cy="658.2" r="2.15"/><circle cx="700.3" cy="654.9" r="2.15"/><circle cx="741.0" cy="655.7" r="2.15"/><circle cx="737.9" cy="651.7" r="2.15"/><circle cx="700.6" cy="656.7" r="2.15"/><circle cx="722.7" cy="654.2" r="2.15"/><circle cx="722.2" cy="659.6" r="2.15"/><circle cx="695.8" cy="656.3" r="2.15"/><circle cx="713.0" cy="657.6" r="2.15"/><circle cx="730.7" cy="655.4" r="2.15"/><circle cx="725.4" cy="657.3" r="2.15"/><circle cx="707.4" cy="655.4" r="2.15"/><circle cx="731.5" cy="654.5" r="2.15"/><circle cx="708.0" cy="668.9" r="2.15"/><circle cx="720.6" cy="649.7" r="2.15"/><circle cx="714.4" cy="664.4" r="2.15"/><circle cx="742.2" cy="635.3" r="2.15"/><circle cx="725.8" cy="645.4" r="2.15"/><circle cx="733.6" cy="650.7" r="2.15"/><circle cx="727.2" cy="656.6" r="2.15"/><circle cx="712.4" cy="643.1" r="2.15"/><circle cx="741.5" cy="654.4" r="2.15"/><circle cx="728.8" cy="675.5" r="2.15"/><circle cx="727.9" cy="650.3" r="2.15"/><circle cx="707.3" cy="655.0" r="2.15"/><circle cx="701.5" cy="684.3" r="2.15"/><circle cx="722.1" cy="677.0" r="2.15"/><circle cx="734.6" cy="643.0" r="2.15"/><circle cx="733.0" cy="654.2" r="2.15"/><circle cx="710.8" cy="665.6" r="2.15"/><circle cx="700.4" cy="677.5" r="2.15"/><circle cx="719.2" cy="669.4" r="2.15"/><circle cx="737.2" cy="641.0" r="2.15"/><circle cx="701.5" cy="682.9" r="2.15"/><circle cx="730.3" cy="652.1" r="2.15"/><circle cx="702.0" cy="631.5" r="2.15"/><circle cx="709.0" cy="656.4" r="2.15"/><circle cx="696.1" cy="668.0" r="2.15"/><circle cx="708.3" cy="652.1" r="2.15"/><circle cx="712.5" cy="651.0" r="2.15"/><circle cx="741.7" cy="653.7" r="2.15"/><circle cx="741.4" cy="659.9" r="2.15"/><circle cx="702.8" cy="675.1" r="2.15"/><circle cx="708.9" cy="652.2" r="2.15"/><circle cx="740.5" cy="649.7" r="2.15"/><circle cx="703.3" cy="653.4" r="2.15"/><circle cx="709.4" cy="652.4" r="2.15"/><circle cx="715.3" cy="656.3" r="2.15"/><circle cx="698.8" cy="648.2" r="2.15"/><circle cx="706.4" cy="619.8" r="2.15"/><circle cx="713.1" cy="664.0" r="2.15"/><circle cx="712.7" cy="654.8" r="2.15"/><circle cx="741.5" cy="670.6" r="2.15"/><circle cx="706.7" cy="677.8" r="2.15"/><circle cx="703.6" cy="657.9" r="2.15"/><circle cx="738.8" cy="642.4" r="2.15"/><circle cx="715.9" cy="668.5" r="2.15"/><circle cx="735.2" cy="663.1" r="2.15"/><circle cx="725.2" cy="663.9" r="2.15"/><circle cx="732.3" cy="673.6" r="2.15"/><circle cx="709.1" cy="673.6" r="2.15"/><circle cx="706.9" cy="611.4" r="2.15"/><circle cx="725.8" cy="619.3" r="2.15"/><circle cx="701.0" cy="630.0" r="2.15"/><circle cx="731.2" cy="632.8" r="2.15"/><circle cx="711.5" cy="685.8" r="2.15"/><circle cx="714.5" cy="685.8" r="2.15"/><circle cx="713.6" cy="699.9" r="2.15"/><circle cx="736.4" cy="692.0" r="2.15"/><circle cx="733.5" cy="687.8" r="2.15"/></g>
<g fill="#00ffda"><circle cx="793.5" cy="664.6" r="2.15"/><circle cx="783.6" cy="653.6" r="2.15"/><circle cx="795.4" cy="661.2" r="2.15"/><circle cx="797.1" cy="666.1" r="2.15"/><circle cx="770.0" cy="656.5" r="2.15"/><circle cx="784.7" cy="648.5" r="2.15"/><circle cx="767.4" cy="647.5" r="2.15"/><circle cx="788.7" cy="659.8" r="2.15"/><circle cx="790.2" cy="657.8" r="2.15"/><circle cx="754.9" cy="645.3" r="2.15"/><circle cx="748.9" cy="656.1" r="2.15"/><circle cx="758.9" cy="642.8" r="2.15"/><circle cx="777.4" cy="642.1" r="2.15"/><circle cx="767.1" cy="651.8" r="2.15"/><circle cx="748.7" cy="661.6" r="2.15"/><circle cx="789.6" cy="658.1" r="2.15"/><circle cx="787.4" cy="650.0" r="2.15"/><circle cx="771.3" cy="657.5" r="2.15"/><circle cx="750.4" cy="655.2" r="2.15"/><circle cx="792.6" cy="652.6" r="2.15"/><circle cx="774.9" cy="667.1" r="2.15"/><circle cx="751.8" cy="659.0" r="2.15"/><circle cx="764.3" cy="658.7" r="2.15"/><circle cx="779.4" cy="662.2" r="2.15"/><circle cx="792.4" cy="654.1" r="2.15"/><circle cx="772.4" cy="658.7" r="2.15"/><circle cx="780.1" cy="659.1" r="2.15"/><circle cx="758.5" cy="645.5" r="2.15"/><circle cx="760.4" cy="645.2" r="2.15"/><circle cx="793.4" cy="657.5" r="2.15"/><circle cx="767.3" cy="659.9" r="2.15"/><circle cx="753.4" cy="667.2" r="2.15"/><circle cx="777.7" cy="669.1" r="2.15"/><circle cx="754.5" cy="644.6" r="2.15"/><circle cx="758.2" cy="655.7" r="2.15"/><circle cx="771.0" cy="662.1" r="2.15"/><circle cx="777.4" cy="665.7" r="2.15"/><circle cx="780.0" cy="647.1" r="2.15"/><circle cx="783.5" cy="658.1" r="2.15"/><circle cx="770.1" cy="651.6" r="2.15"/><circle cx="751.6" cy="649.1" r="2.15"/><circle cx="784.3" cy="661.9" r="2.15"/><circle cx="750.9" cy="666.2" r="2.15"/><circle cx="771.7" cy="656.8" r="2.15"/><circle cx="768.2" cy="652.2" r="2.15"/><circle cx="781.8" cy="657.6" r="2.15"/><circle cx="783.8" cy="656.8" r="2.15"/><circle cx="760.2" cy="653.1" r="2.15"/><circle cx="780.6" cy="662.8" r="2.15"/><circle cx="782.7" cy="650.9" r="2.15"/><circle cx="771.7" cy="648.9" r="2.15"/><circle cx="755.3" cy="664.1" r="2.15"/><circle cx="793.6" cy="661.9" r="2.15"/><circle cx="778.1" cy="658.9" r="2.15"/><circle cx="751.3" cy="660.6" r="2.15"/><circle cx="760.1" cy="658.0" r="2.15"/><circle cx="797.4" cy="648.1" r="2.15"/><circle cx="759.6" cy="666.1" r="2.15"/><circle cx="767.8" cy="653.1" r="2.15"/><circle cx="787.5" cy="658.9" r="2.15"/><circle cx="789.3" cy="661.2" r="2.15"/><circle cx="779.8" cy="666.2" r="2.15"/><circle cx="785.2" cy="671.0" r="2.15"/><circle cx="750.1" cy="655.4" r="2.15"/><circle cx="752.9" cy="645.6" r="2.15"/><circle cx="796.9" cy="662.5" r="2.15"/><circle cx="788.3" cy="650.8" r="2.15"/><circle cx="750.1" cy="664.9" r="2.15"/><circle cx="750.6" cy="652.5" r="2.15"/><circle cx="760.2" cy="658.0" r="2.15"/><circle cx="794.6" cy="658.6" r="2.15"/><circle cx="759.2" cy="666.3" r="2.15"/><circle cx="781.7" cy="659.8" r="2.15"/><circle cx="794.6" cy="659.2" r="2.15"/><circle cx="780.1" cy="646.3" r="2.15"/><circle cx="794.1" cy="651.3" r="2.15"/><circle cx="761.3" cy="652.7" r="2.15"/><circle cx="755.9" cy="660.6" r="2.15"/><circle cx="749.1" cy="654.2" r="2.15"/><circle cx="786.0" cy="650.3" r="2.15"/><circle cx="753.4" cy="646.2" r="2.15"/><circle cx="796.8" cy="649.2" r="2.15"/><circle cx="783.6" cy="642.3" r="2.15"/><circle cx="757.5" cy="657.4" r="2.15"/><circle cx="788.5" cy="662.6" r="2.15"/><circle cx="756.3" cy="646.6" r="2.15"/><circle cx="773.8" cy="642.8" r="2.15"/><circle cx="753.5" cy="649.2" r="2.15"/><circle cx="787.5" cy="655.6" r="2.15"/><circle cx="792.6" cy="654.8" r="2.15"/><circle cx="793.9" cy="658.1" r="2.15"/><circle cx="748.3" cy="658.3" r="2.15"/><circle cx="790.7" cy="655.8" r="2.15"/><circle cx="775.9" cy="652.8" r="2.15"/><circle cx="789.2" cy="664.2" r="2.15"/><circle cx="773.3" cy="652.2" r="2.15"/><circle cx="779.1" cy="654.6" r="2.15"/><circle cx="777.9" cy="657.3" r="2.15"/><circle cx="788.1" cy="653.7" r="2.15"/><circle cx="752.1" cy="658.5" r="2.15"/><circle cx="750.9" cy="653.7" r="2.15"/><circle cx="775.4" cy="645.2" r="2.15"/><circle cx="762.7" cy="658.9" r="2.15"/><circle cx="768.0" cy="649.8" r="2.15"/><circle cx="748.6" cy="660.0" r="2.15"/><circle cx="785.4" cy="657.5" r="2.15"/><circle cx="749.4" cy="654.0" r="2.15"/><circle cx="789.6" cy="660.2" r="2.15"/><circle cx="788.7" cy="648.3" r="2.15"/><circle cx="771.1" cy="666.6" r="2.15"/><circle cx="754.3" cy="657.1" r="2.15"/><circle cx="780.6" cy="655.8" r="2.15"/><circle cx="758.5" cy="655.1" r="2.15"/><circle cx="769.6" cy="657.1" r="2.15"/><circle cx="753.7" cy="663.1" r="2.15"/><circle cx="796.9" cy="655.6" r="2.15"/><circle cx="775.5" cy="645.8" r="2.15"/><circle cx="765.8" cy="651.4" r="2.15"/><circle cx="752.9" cy="656.9" r="2.15"/><circle cx="784.6" cy="665.0" r="2.15"/><circle cx="790.6" cy="662.5" r="2.15"/><circle cx="790.5" cy="650.2" r="2.15"/><circle cx="753.3" cy="659.8" r="2.15"/><circle cx="766.5" cy="658.1" r="2.15"/><circle cx="763.3" cy="639.1" r="2.15"/><circle cx="786.2" cy="673.2" r="2.15"/><circle cx="755.6" cy="649.1" r="2.15"/><circle cx="778.5" cy="673.0" r="2.15"/><circle cx="797.0" cy="665.6" r="2.15"/><circle cx="786.6" cy="636.5" r="2.15"/><circle cx="748.6" cy="647.8" r="2.15"/><circle cx="752.0" cy="651.7" r="2.15"/><circle cx="753.9" cy="650.0" r="2.15"/><circle cx="782.8" cy="649.4" r="2.15"/><circle cx="778.1" cy="660.1" r="2.15"/><circle cx="774.2" cy="665.9" r="2.15"/><circle cx="770.9" cy="661.8" r="2.15"/><circle cx="768.5" cy="653.5" r="2.15"/><circle cx="778.7" cy="652.6" r="2.15"/><circle cx="780.6" cy="648.4" r="2.15"/><circle cx="793.9" cy="656.3" r="2.15"/><circle cx="784.8" cy="650.6" r="2.15"/><circle cx="787.9" cy="656.1" r="2.15"/><circle cx="793.7" cy="664.2" r="2.15"/><circle cx="790.0" cy="659.9" r="2.15"/><circle cx="784.0" cy="653.5" r="2.15"/><circle cx="749.7" cy="656.8" r="2.15"/><circle cx="782.2" cy="660.0" r="2.15"/><circle cx="790.6" cy="656.3" r="2.15"/><circle cx="769.7" cy="646.0" r="2.15"/><circle cx="792.0" cy="661.3" r="2.15"/><circle cx="757.2" cy="674.1" r="2.15"/><circle cx="795.2" cy="655.6" r="2.15"/><circle cx="770.2" cy="673.2" r="2.15"/><circle cx="783.5" cy="645.1" r="2.15"/><circle cx="760.8" cy="661.0" r="2.15"/><circle cx="763.2" cy="655.9" r="2.15"/><circle cx="765.6" cy="658.0" r="2.15"/><circle cx="764.4" cy="655.0" r="2.15"/><circle cx="752.9" cy="654.2" r="2.15"/><circle cx="770.3" cy="647.7" r="2.15"/><circle cx="797.1" cy="664.2" r="2.15"/><circle cx="780.8" cy="659.3" r="2.15"/><circle cx="794.7" cy="659.5" r="2.15"/><circle cx="786.2" cy="658.1" r="2.15"/><circle cx="790.0" cy="651.9" r="2.15"/><circle cx="797.8" cy="670.6" r="2.15"/><circle cx="785.8" cy="672.1" r="2.15"/><circle cx="761.9" cy="656.1" r="2.15"/><circle cx="760.7" cy="653.3" r="2.15"/><circle cx="768.8" cy="652.2" r="2.15"/><circle cx="749.3" cy="649.2" r="2.15"/><circle cx="759.7" cy="644.7" r="2.15"/><circle cx="792.4" cy="663.2" r="2.15"/><circle cx="794.1" cy="658.6" r="2.15"/><circle cx="764.6" cy="654.4" r="2.15"/><circle cx="786.6" cy="652.0" r="2.15"/><circle cx="786.9" cy="652.7" r="2.15"/><circle cx="792.6" cy="653.9" r="2.15"/><circle cx="787.8" cy="663.5" r="2.15"/><circle cx="774.7" cy="639.2" r="2.15"/><circle cx="753.4" cy="656.3" r="2.15"/><circle cx="789.4" cy="653.0" r="2.15"/><circle cx="763.9" cy="663.4" r="2.15"/><circle cx="779.5" cy="653.7" r="2.15"/><circle cx="766.5" cy="658.8" r="2.15"/><circle cx="775.0" cy="648.0" r="2.15"/><circle cx="796.4" cy="649.4" r="2.15"/><circle cx="756.3" cy="660.4" r="2.15"/><circle cx="774.7" cy="655.6" r="2.15"/><circle cx="780.6" cy="655.4" r="2.15"/><circle cx="775.1" cy="653.8" r="2.15"/><circle cx="759.9" cy="611.4" r="2.15"/><circle cx="795.0" cy="627.2" r="2.15"/><circle cx="768.5" cy="628.3" r="2.15"/><circle cx="780.8" cy="686.4" r="2.15"/><circle cx="793.8" cy="688.1" r="2.15"/><circle cx="770.0" cy="683.6" r="2.15"/></g>
<g fill="#00dbff"><circle cx="814.3" cy="664.1" r="2.15"/><circle cx="832.8" cy="675.7" r="2.15"/><circle cx="848.0" cy="651.9" r="2.15"/><circle cx="807.1" cy="653.6" r="2.15"/><circle cx="813.8" cy="660.5" r="2.15"/><circle cx="804.8" cy="639.8" r="2.15"/><circle cx="824.9" cy="650.4" r="2.15"/><circle cx="810.0" cy="656.0" r="2.15"/><circle cx="812.5" cy="661.6" r="2.15"/><circle cx="840.3" cy="679.8" r="2.15"/><circle cx="832.1" cy="652.7" r="2.15"/><circle cx="849.8" cy="648.9" r="2.15"/><circle cx="823.0" cy="661.2" r="2.15"/><circle cx="836.9" cy="667.6" r="2.15"/><circle cx="803.6" cy="656.8" r="2.15"/><circle cx="850.3" cy="669.7" r="2.15"/><circle cx="814.6" cy="656.4" r="2.15"/><circle cx="826.8" cy="650.4" r="2.15"/><circle cx="828.5" cy="644.6" r="2.15"/><circle cx="850.3" cy="654.4" r="2.15"/><circle cx="827.5" cy="654.9" r="2.15"/><circle cx="852.5" cy="650.6" r="2.15"/><circle cx="834.0" cy="645.4" r="2.15"/><circle cx="813.8" cy="659.0" r="2.15"/><circle cx="844.6" cy="666.2" r="2.15"/><circle cx="813.1" cy="662.7" r="2.15"/><circle cx="852.8" cy="666.4" r="2.15"/><circle cx="825.8" cy="663.5" r="2.15"/><circle cx="814.3" cy="657.4" r="2.15"/><circle cx="850.9" cy="653.8" r="2.15"/><circle cx="819.0" cy="655.3" r="2.15"/><circle cx="823.3" cy="655.9" r="2.15"/><circle cx="820.1" cy="659.3" r="2.15"/><circle cx="836.3" cy="653.1" r="2.15"/><circle cx="804.1" cy="649.5" r="2.15"/><circle cx="821.6" cy="650.5" r="2.15"/><circle cx="811.1" cy="644.7" r="2.15"/><circle cx="844.3" cy="658.8" r="2.15"/><circle cx="803.0" cy="658.5" r="2.15"/><circle cx="833.3" cy="643.1" r="2.15"/><circle cx="815.9" cy="654.9" r="2.15"/><circle cx="825.6" cy="653.2" r="2.15"/><circle cx="831.0" cy="659.1" r="2.15"/><circle cx="838.5" cy="648.8" r="2.15"/><circle cx="809.9" cy="659.7" r="2.15"/><circle cx="815.0" cy="664.4" r="2.15"/><circle cx="809.0" cy="657.0" r="2.15"/><circle cx="850.9" cy="660.0" r="2.15"/><circle cx="810.4" cy="649.9" r="2.15"/><circle cx="809.8" cy="659.5" r="2.15"/><circle cx="829.0" cy="655.5" r="2.15"/><circle cx="832.0" cy="658.2" r="2.15"/><circle cx="847.2" cy="653.8" r="2.15"/><circle cx="805.8" cy="661.5" r="2.15"/><circle cx="814.7" cy="647.8" r="2.15"/><circle cx="811.3" cy="667.7" r="2.15"/><circle cx="832.2" cy="659.5" r="2.15"/><circle cx="825.6" cy="662.1" r="2.15"/><circle cx="823.4" cy="651.4" r="2.15"/><circle cx="847.3" cy="656.2" r="2.15"/><circle cx="836.0" cy="652.7" r="2.15"/><circle cx="845.9" cy="659.1" r="2.15"/><circle cx="850.7" cy="662.2" r="2.15"/><circle cx="816.4" cy="665.3" r="2.15"/><circle cx="850.0" cy="659.1" r="2.15"/><circle cx="823.3" cy="660.7" r="2.15"/><circle cx="805.6" cy="654.3" r="2.15"/><circle cx="848.6" cy="653.7" r="2.15"/><circle cx="808.2" cy="648.8" r="2.15"/><circle cx="803.9" cy="657.3" r="2.15"/><circle cx="817.4" cy="662.4" r="2.15"/><circle cx="817.4" cy="664.9" r="2.15"/><circle cx="851.2" cy="656.0" r="2.15"/><circle cx="846.4" cy="653.6" r="2.15"/><circle cx="823.9" cy="641.1" r="2.15"/><circle cx="829.4" cy="655.1" r="2.15"/><circle cx="845.3" cy="642.6" r="2.15"/><circle cx="843.2" cy="641.7" r="2.15"/><circle cx="835.6" cy="664.8" r="2.15"/><circle cx="828.6" cy="646.9" r="2.15"/><circle cx="808.8" cy="647.5" r="2.15"/><circle cx="815.1" cy="645.9" r="2.15"/><circle cx="835.8" cy="656.6" r="2.15"/><circle cx="832.2" cy="648.9" r="2.15"/><circle cx="842.9" cy="660.3" r="2.15"/><circle cx="847.8" cy="657.0" r="2.15"/><circle cx="851.0" cy="656.3" r="2.15"/><circle cx="812.6" cy="642.4" r="2.15"/><circle cx="806.8" cy="658.2" r="2.15"/><circle cx="847.8" cy="648.9" r="2.15"/><circle cx="831.4" cy="656.0" r="2.15"/><circle cx="812.0" cy="662.1" r="2.15"/><circle cx="837.5" cy="654.6" r="2.15"/><circle cx="815.7" cy="651.3" r="2.15"/><circle cx="814.8" cy="662.1" r="2.15"/><circle cx="821.3" cy="651.5" r="2.15"/><circle cx="829.1" cy="662.1" r="2.15"/><circle cx="836.8" cy="663.4" r="2.15"/><circle cx="806.7" cy="654.8" r="2.15"/><circle cx="840.0" cy="658.3" r="2.15"/><circle cx="834.1" cy="664.2" r="2.15"/><circle cx="826.5" cy="669.4" r="2.15"/><circle cx="836.5" cy="656.3" r="2.15"/><circle cx="842.9" cy="654.6" r="2.15"/><circle cx="803.5" cy="660.1" r="2.15"/><circle cx="826.7" cy="655.0" r="2.15"/><circle cx="836.8" cy="668.5" r="2.15"/><circle cx="838.4" cy="653.4" r="2.15"/><circle cx="835.3" cy="653.2" r="2.15"/><circle cx="812.0" cy="654.3" r="2.15"/><circle cx="850.8" cy="661.3" r="2.15"/><circle cx="842.2" cy="655.9" r="2.15"/><circle cx="814.6" cy="655.5" r="2.15"/><circle cx="824.5" cy="648.0" r="2.15"/><circle cx="850.8" cy="654.3" r="2.15"/><circle cx="813.3" cy="654.5" r="2.15"/><circle cx="823.4" cy="662.2" r="2.15"/><circle cx="851.0" cy="649.7" r="2.15"/><circle cx="847.9" cy="647.2" r="2.15"/><circle cx="814.6" cy="660.4" r="2.15"/><circle cx="839.7" cy="651.4" r="2.15"/><circle cx="820.9" cy="654.1" r="2.15"/><circle cx="836.1" cy="656.9" r="2.15"/><circle cx="841.2" cy="666.6" r="2.15"/><circle cx="809.4" cy="642.6" r="2.15"/><circle cx="814.1" cy="671.2" r="2.15"/><circle cx="813.7" cy="654.1" r="2.15"/><circle cx="816.3" cy="659.5" r="2.15"/><circle cx="804.8" cy="647.5" r="2.15"/><circle cx="809.8" cy="659.8" r="2.15"/><circle cx="823.2" cy="656.2" r="2.15"/><circle cx="824.0" cy="651.7" r="2.15"/><circle cx="806.9" cy="652.9" r="2.15"/><circle cx="832.0" cy="660.6" r="2.15"/><circle cx="850.0" cy="651.1" r="2.15"/><circle cx="831.8" cy="653.4" r="2.15"/><circle cx="820.7" cy="648.7" r="2.15"/><circle cx="838.1" cy="660.5" r="2.15"/><circle cx="824.8" cy="656.9" r="2.15"/><circle cx="811.7" cy="659.6" r="2.15"/><circle cx="827.0" cy="663.1" r="2.15"/><circle cx="803.9" cy="654.5" r="2.15"/><circle cx="836.7" cy="653.3" r="2.15"/><circle cx="811.0" cy="645.3" r="2.15"/><circle cx="821.4" cy="659.1" r="2.15"/><circle cx="851.0" cy="653.4" r="2.15"/><circle cx="841.2" cy="647.5" r="2.15"/><circle cx="844.7" cy="657.4" r="2.15"/><circle cx="835.0" cy="656.0" r="2.15"/><circle cx="834.6" cy="655.4" r="2.15"/><circle cx="838.1" cy="661.9" r="2.15"/><circle cx="851.2" cy="664.3" r="2.15"/><circle cx="812.8" cy="647.7" r="2.15"/><circle cx="841.2" cy="655.1" r="2.15"/><circle cx="818.0" cy="657.1" r="2.15"/><circle cx="815.7" cy="666.3" r="2.15"/><circle cx="844.0" cy="655.6" r="2.15"/><circle cx="833.0" cy="647.3" r="2.15"/><circle cx="845.4" cy="665.5" r="2.15"/><circle cx="846.6" cy="663.5" r="2.15"/><circle cx="832.4" cy="647.8" r="2.15"/><circle cx="812.9" cy="645.2" r="2.15"/><circle cx="803.7" cy="644.3" r="2.15"/><circle cx="829.7" cy="660.8" r="2.15"/><circle cx="839.2" cy="651.8" r="2.15"/><circle cx="816.6" cy="662.4" r="2.15"/><circle cx="806.5" cy="652.4" r="2.15"/><circle cx="803.2" cy="659.4" r="2.15"/><circle cx="836.0" cy="618.7" r="2.15"/><circle cx="811.6" cy="619.8" r="2.15"/><circle cx="837.7" cy="626.0" r="2.15"/><circle cx="843.2" cy="692.0" r="2.15"/><circle cx="819.4" cy="683.0" r="2.15"/></g>
<g fill="#0092ff"><circle cx="876.5" cy="654.1" r="2.15"/><circle cx="875.4" cy="658.1" r="2.15"/><circle cx="876.6" cy="659.0" r="2.15"/><circle cx="863.3" cy="649.3" r="2.15"/><circle cx="869.1" cy="657.1" r="2.15"/><circle cx="903.1" cy="658.3" r="2.15"/><circle cx="878.2" cy="648.3" r="2.15"/><circle cx="889.5" cy="649.5" r="2.15"/><circle cx="902.0" cy="655.0" r="2.15"/><circle cx="895.5" cy="658.8" r="2.15"/><circle cx="870.0" cy="661.7" r="2.15"/><circle cx="903.6" cy="652.3" r="2.15"/><circle cx="897.9" cy="660.7" r="2.15"/><circle cx="907.2" cy="652.9" r="2.15"/><circle cx="894.1" cy="662.5" r="2.15"/><circle cx="895.4" cy="657.6" r="2.15"/><circle cx="898.3" cy="656.0" r="2.15"/><circle cx="870.4" cy="657.4" r="2.15"/><circle cx="890.5" cy="656.9" r="2.15"/><circle cx="876.8" cy="656.1" r="2.15"/><circle cx="899.6" cy="664.4" r="2.15"/><circle cx="864.4" cy="664.3" r="2.15"/><circle cx="884.7" cy="659.0" r="2.15"/><circle cx="874.5" cy="648.2" r="2.15"/><circle cx="898.7" cy="658.9" r="2.15"/><circle cx="875.0" cy="663.3" r="2.15"/><circle cx="899.9" cy="661.8" r="2.15"/><circle cx="900.1" cy="658.0" r="2.15"/><circle cx="901.6" cy="651.7" r="2.15"/><circle cx="864.7" cy="661.3" r="2.15"/><circle cx="904.6" cy="655.1" r="2.15"/><circle cx="894.9" cy="657.1" r="2.15"/><circle cx="891.5" cy="660.1" r="2.15"/><circle cx="890.3" cy="663.4" r="2.15"/><circle cx="860.2" cy="659.0" r="2.15"/><circle cx="901.2" cy="662.2" r="2.15"/><circle cx="885.1" cy="655.2" r="2.15"/><circle cx="880.5" cy="667.9" r="2.15"/><circle cx="874.7" cy="652.0" r="2.15"/><circle cx="896.8" cy="654.0" r="2.15"/><circle cx="896.8" cy="655.0" r="2.15"/><circle cx="901.2" cy="649.9" r="2.15"/><circle cx="868.4" cy="654.9" r="2.15"/><circle cx="874.7" cy="667.6" r="2.15"/><circle cx="870.2" cy="657.9" r="2.15"/><circle cx="862.8" cy="655.7" r="2.15"/><circle cx="874.1" cy="661.9" r="2.15"/><circle cx="859.1" cy="664.4" r="2.15"/><circle cx="897.5" cy="655.8" r="2.15"/><circle cx="869.1" cy="655.4" r="2.15"/><circle cx="861.3" cy="660.5" r="2.15"/><circle cx="861.1" cy="659.5" r="2.15"/><circle cx="894.7" cy="661.0" r="2.15"/><circle cx="867.7" cy="661.3" r="2.15"/><circle cx="880.8" cy="658.5" r="2.15"/><circle cx="877.8" cy="652.3" r="2.15"/><circle cx="897.8" cy="667.0" r="2.15"/><circle cx="905.4" cy="660.1" r="2.15"/><circle cx="873.2" cy="649.3" r="2.15"/><circle cx="889.3" cy="656.4" r="2.15"/><circle cx="902.4" cy="657.3" r="2.15"/><circle cx="881.2" cy="653.6" r="2.15"/><circle cx="902.6" cy="663.7" r="2.15"/><circle cx="894.4" cy="664.8" r="2.15"/><circle cx="873.3" cy="667.3" r="2.15"/><circle cx="901.4" cy="666.2" r="2.15"/><circle cx="886.4" cy="656.8" r="2.15"/><circle cx="863.0" cy="653.5" r="2.15"/><circle cx="887.1" cy="660.5" r="2.15"/><circle cx="899.1" cy="661.9" r="2.15"/><circle cx="883.6" cy="656.0" r="2.15"/><circle cx="881.9" cy="654.8" r="2.15"/><circle cx="878.5" cy="656.8" r="2.15"/><circle cx="901.7" cy="668.7" r="2.15"/><circle cx="891.0" cy="661.2" r="2.15"/><circle cx="868.1" cy="672.1" r="2.15"/><circle cx="875.8" cy="656.8" r="2.15"/><circle cx="875.9" cy="662.8" r="2.15"/><circle cx="905.6" cy="661.8" r="2.15"/><circle cx="892.5" cy="649.9" r="2.15"/><circle cx="864.0" cy="650.9" r="2.15"/><circle cx="903.4" cy="655.5" r="2.15"/><circle cx="859.5" cy="656.7" r="2.15"/><circle cx="887.2" cy="657.2" r="2.15"/><circle cx="879.3" cy="661.4" r="2.15"/><circle cx="893.6" cy="658.5" r="2.15"/><circle cx="879.2" cy="647.7" r="2.15"/><circle cx="862.4" cy="663.0" r="2.15"/><circle cx="883.9" cy="661.8" r="2.15"/><circle cx="898.7" cy="657.3" r="2.15"/><circle cx="897.1" cy="653.3" r="2.15"/><circle cx="875.6" cy="653.6" r="2.15"/><circle cx="868.9" cy="663.5" r="2.15"/><circle cx="894.9" cy="658.9" r="2.15"/><circle cx="897.8" cy="659.6" r="2.15"/><circle cx="868.7" cy="664.9" r="2.15"/><circle cx="901.8" cy="657.8" r="2.15"/><circle cx="907.3" cy="660.8" r="2.15"/><circle cx="879.4" cy="653.1" r="2.15"/><circle cx="876.8" cy="655.8" r="2.15"/><circle cx="893.2" cy="662.5" r="2.15"/><circle cx="904.1" cy="657.7" r="2.15"/><circle cx="867.8" cy="660.1" r="2.15"/><circle cx="872.8" cy="661.7" r="2.15"/><circle cx="874.2" cy="660.8" r="2.15"/><circle cx="894.3" cy="652.3" r="2.15"/><circle cx="867.1" cy="660.4" r="2.15"/><circle cx="885.0" cy="667.6" r="2.15"/><circle cx="882.7" cy="662.4" r="2.15"/><circle cx="891.1" cy="653.8" r="2.15"/><circle cx="864.9" cy="646.4" r="2.15"/><circle cx="905.5" cy="664.0" r="2.15"/><circle cx="907.6" cy="660.1" r="2.15"/><circle cx="885.8" cy="660.0" r="2.15"/><circle cx="897.4" cy="665.9" r="2.15"/><circle cx="866.9" cy="656.0" r="2.15"/><circle cx="903.2" cy="658.5" r="2.15"/><circle cx="885.3" cy="656.6" r="2.15"/><circle cx="895.7" cy="645.9" r="2.15"/><circle cx="901.1" cy="659.6" r="2.15"/><circle cx="875.8" cy="653.8" r="2.15"/><circle cx="903.9" cy="653.6" r="2.15"/><circle cx="868.1" cy="661.7" r="2.15"/><circle cx="858.9" cy="661.4" r="2.15"/><circle cx="882.8" cy="649.6" r="2.15"/><circle cx="902.6" cy="654.3" r="2.15"/><circle cx="902.7" cy="657.4" r="2.15"/><circle cx="905.4" cy="664.2" r="2.15"/><circle cx="883.2" cy="653.3" r="2.15"/><circle cx="904.3" cy="655.3" r="2.15"/><circle cx="885.7" cy="646.1" r="2.15"/><circle cx="864.9" cy="650.1" r="2.15"/><circle cx="889.2" cy="653.8" r="2.15"/><circle cx="897.8" cy="656.7" r="2.15"/><circle cx="878.9" cy="657.8" r="2.15"/><circle cx="887.8" cy="661.2" r="2.15"/><circle cx="870.7" cy="656.5" r="2.15"/><circle cx="871.5" cy="656.8" r="2.15"/><circle cx="878.7" cy="654.6" r="2.15"/><circle cx="883.4" cy="652.2" r="2.15"/><circle cx="881.1" cy="656.5" r="2.15"/><circle cx="862.4" cy="661.2" r="2.15"/><circle cx="858.1" cy="653.8" r="2.15"/><circle cx="874.7" cy="649.7" r="2.15"/><circle cx="893.5" cy="662.8" r="2.15"/><circle cx="895.1" cy="655.9" r="2.15"/><circle cx="869.6" cy="655.2" r="2.15"/><circle cx="870.5" cy="655.2" r="2.15"/><circle cx="883.5" cy="655.4" r="2.15"/><circle cx="866.5" cy="658.7" r="2.15"/><circle cx="887.8" cy="658.7" r="2.15"/><circle cx="902.9" cy="648.9" r="2.15"/><circle cx="867.8" cy="648.7" r="2.15"/><circle cx="887.0" cy="665.9" r="2.15"/><circle cx="893.7" cy="672.1" r="2.15"/><circle cx="895.1" cy="655.8" r="2.15"/><circle cx="893.3" cy="661.9" r="2.15"/><circle cx="893.2" cy="661.0" r="2.15"/><circle cx="871.4" cy="666.9" r="2.15"/><circle cx="899.6" cy="656.2" r="2.15"/><circle cx="903.9" cy="658.5" r="2.15"/><circle cx="860.4" cy="661.1" r="2.15"/><circle cx="904.9" cy="653.3" r="2.15"/><circle cx="879.8" cy="644.8" r="2.15"/><circle cx="862.1" cy="650.1" r="2.15"/><circle cx="861.2" cy="651.7" r="2.15"/><circle cx="897.5" cy="660.4" r="2.15"/><circle cx="891.6" cy="654.6" r="2.15"/><circle cx="864.9" cy="658.4" r="2.15"/><circle cx="880.7" cy="651.8" r="2.15"/><circle cx="889.6" cy="655.0" r="2.15"/><circle cx="907.5" cy="658.4" r="2.15"/><circle cx="874.5" cy="655.1" r="2.15"/><circle cx="896.0" cy="662.1" r="2.15"/><circle cx="870.0" cy="653.8" r="2.15"/><circle cx="867.7" cy="649.9" r="2.15"/><circle cx="865.8" cy="660.2" r="2.15"/><circle cx="878.2" cy="655.1" r="2.15"/><circle cx="888.6" cy="667.3" r="2.15"/><circle cx="872.9" cy="653.0" r="2.15"/><circle cx="865.8" cy="653.4" r="2.15"/><circle cx="868.7" cy="663.8" r="2.15"/><circle cx="862.0" cy="648.6" r="2.15"/><circle cx="867.4" cy="657.6" r="2.15"/><circle cx="873.5" cy="667.7" r="2.15"/><circle cx="882.9" cy="665.7" r="2.15"/><circle cx="866.9" cy="653.4" r="2.15"/><circle cx="881.7" cy="659.7" r="2.15"/><circle cx="879.7" cy="652.1" r="2.15"/><circle cx="906.3" cy="666.7" r="2.15"/><circle cx="882.0" cy="658.7" r="2.15"/><circle cx="904.9" cy="652.8" r="2.15"/><circle cx="857.6" cy="626.0" r="2.15"/><circle cx="881.3" cy="632.8" r="2.15"/><circle cx="884.0" cy="686.4" r="2.15"/><circle cx="867.6" cy="676.8" r="2.15"/></g>
<g fill="#0049ff"><circle cx="956.1" cy="659.4" r="2.15"/><circle cx="950.1" cy="658.4" r="2.15"/><circle cx="942.3" cy="655.3" r="2.15"/><circle cx="961.3" cy="654.4" r="2.15"/><circle cx="914.4" cy="661.4" r="2.15"/><circle cx="915.3" cy="671.9" r="2.15"/><circle cx="918.7" cy="661.3" r="2.15"/><circle cx="913.6" cy="653.2" r="2.15"/><circle cx="947.9" cy="661.6" r="2.15"/><circle cx="944.0" cy="653.9" r="2.15"/><circle cx="918.1" cy="658.7" r="2.15"/><circle cx="920.6" cy="662.3" r="2.15"/><circle cx="921.6" cy="649.3" r="2.15"/><circle cx="942.9" cy="646.4" r="2.15"/><circle cx="946.1" cy="657.1" r="2.15"/><circle cx="960.9" cy="656.8" r="2.15"/><circle cx="930.5" cy="650.6" r="2.15"/><circle cx="961.4" cy="664.6" r="2.15"/><circle cx="934.2" cy="661.8" r="2.15"/><circle cx="932.0" cy="649.6" r="2.15"/><circle cx="925.2" cy="651.0" r="2.15"/><circle cx="924.1" cy="659.5" r="2.15"/><circle cx="961.2" cy="661.2" r="2.15"/><circle cx="962.2" cy="654.3" r="2.15"/><circle cx="947.8" cy="665.1" r="2.15"/><circle cx="921.3" cy="659.5" r="2.15"/><circle cx="921.5" cy="657.9" r="2.15"/><circle cx="920.1" cy="671.6" r="2.15"/><circle cx="930.1" cy="652.9" r="2.15"/><circle cx="949.3" cy="651.8" r="2.15"/><circle cx="915.5" cy="649.9" r="2.15"/><circle cx="939.0" cy="665.3" r="2.15"/><circle cx="946.5" cy="664.4" r="2.15"/><circle cx="914.2" cy="661.5" r="2.15"/><circle cx="934.5" cy="664.5" r="2.15"/><circle cx="952.0" cy="643.9" r="2.15"/><circle cx="941.3" cy="662.5" r="2.15"/><circle cx="935.1" cy="658.4" r="2.15"/><circle cx="956.5" cy="655.2" r="2.15"/><circle cx="942.5" cy="653.7" r="2.15"/><circle cx="929.4" cy="647.6" r="2.15"/><circle cx="932.3" cy="663.2" r="2.15"/><circle cx="959.6" cy="651.1" r="2.15"/><circle cx="955.4" cy="655.6" r="2.15"/><circle cx="958.2" cy="663.7" r="2.15"/><circle cx="940.5" cy="655.6" r="2.15"/><circle cx="919.7" cy="665.1" r="2.15"/><circle cx="921.3" cy="646.5" r="2.15"/><circle cx="931.7" cy="661.0" r="2.15"/><circle cx="947.0" cy="650.3" r="2.15"/><circle cx="912.8" cy="648.5" r="2.15"/><circle cx="952.5" cy="660.3" r="2.15"/><circle cx="951.7" cy="662.0" r="2.15"/><circle cx="938.2" cy="655.7" r="2.15"/><circle cx="912.8" cy="662.9" r="2.15"/><circle cx="952.3" cy="650.9" r="2.15"/><circle cx="933.2" cy="655.4" r="2.15"/><circle cx="945.9" cy="661.2" r="2.15"/><circle cx="941.0" cy="660.7" r="2.15"/><circle cx="948.9" cy="652.0" r="2.15"/><circle cx="932.9" cy="665.4" r="2.15"/><circle cx="960.4" cy="646.1" r="2.15"/><circle cx="960.2" cy="661.3" r="2.15"/><circle cx="958.9" cy="657.7" r="2.15"/><circle cx="943.2" cy="662.2" r="2.15"/><circle cx="928.3" cy="646.5" r="2.15"/><circle cx="931.3" cy="651.4" r="2.15"/><circle cx="926.0" cy="648.5" r="2.15"/><circle cx="957.6" cy="652.5" r="2.15"/><circle cx="952.1" cy="655.9" r="2.15"/><circle cx="951.9" cy="646.0" r="2.15"/><circle cx="953.5" cy="652.4" r="2.15"/><circle cx="962.0" cy="653.8" r="2.15"/><circle cx="946.9" cy="652.9" r="2.15"/><circle cx="928.4" cy="651.9" r="2.15"/><circle cx="950.3" cy="654.8" r="2.15"/><circle cx="925.6" cy="657.5" r="2.15"/><circle cx="943.0" cy="666.3" r="2.15"/><circle cx="920.4" cy="643.8" r="2.15"/><circle cx="955.3" cy="664.5" r="2.15"/><circle cx="936.9" cy="669.8" r="2.15"/><circle cx="926.3" cy="660.9" r="2.15"/><circle cx="958.6" cy="644.5" r="2.15"/><circle cx="916.7" cy="649.0" r="2.15"/><circle cx="958.9" cy="660.2" r="2.15"/><circle cx="950.3" cy="654.9" r="2.15"/><circle cx="920.0" cy="656.6" r="2.15"/><circle cx="950.5" cy="668.8" r="2.15"/><circle cx="941.1" cy="658.6" r="2.15"/><circle cx="957.8" cy="654.7" r="2.15"/><circle cx="924.8" cy="624.9" r="2.15"/><circle cx="941.8" cy="635.6" r="2.15"/><circle cx="933.9" cy="672.3" r="2.15"/><circle cx="959.1" cy="673.4" r="2.15"/></g>
<g fill="#0000ff"><circle cx="977.4" cy="646.5" r="2.15"/><circle cx="976.3" cy="651.0" r="2.15"/><circle cx="1008.8" cy="653.1" r="2.15"/><circle cx="972.4" cy="654.4" r="2.15"/><circle cx="1013.8" cy="646.1" r="2.15"/><circle cx="980.7" cy="647.7" r="2.15"/><circle cx="1011.2" cy="670.1" r="2.15"/><circle cx="993.0" cy="653.6" r="2.15"/><circle cx="983.5" cy="658.7" r="2.15"/><circle cx="1015.5" cy="645.4" r="2.15"/><circle cx="987.5" cy="660.3" r="2.15"/><circle cx="1002.1" cy="661.1" r="2.15"/><circle cx="970.7" cy="670.8" r="2.15"/><circle cx="1008.7" cy="657.7" r="2.15"/><circle cx="1016.3" cy="655.6" r="2.15"/><circle cx="972.8" cy="647.0" r="2.15"/><circle cx="1004.5" cy="659.5" r="2.15"/><circle cx="980.8" cy="650.7" r="2.15"/><circle cx="974.7" cy="641.6" r="2.15"/><circle cx="985.5" cy="667.3" r="2.15"/><circle cx="1000.3" cy="649.9" r="2.15"/><circle cx="1014.9" cy="658.3" r="2.15"/><circle cx="1016.9" cy="671.1" r="2.15"/><circle cx="1016.9" cy="664.4" r="2.15"/><circle cx="998.4" cy="657.7" r="2.15"/><circle cx="999.9" cy="666.9" r="2.15"/><circle cx="975.4" cy="652.9" r="2.15"/><circle cx="1003.5" cy="664.2" r="2.15"/><circle cx="994.8" cy="649.7" r="2.15"/><circle cx="985.2" cy="660.9" r="2.15"/><circle cx="1012.2" cy="648.5" r="2.15"/><circle cx="980.0" cy="649.3" r="2.15"/><circle cx="974.4" cy="650.9" r="2.15"/><circle cx="975.2" cy="648.8" r="2.15"/><circle cx="974.8" cy="636.0" r="2.15"/><circle cx="996.7" cy="650.4" r="2.15"/><circle cx="1007.3" cy="670.7" r="2.15"/><circle cx="975.3" cy="661.5" r="2.15"/><circle cx="992.4" cy="650.5" r="2.15"/><circle cx="996.0" cy="649.9" r="2.15"/><circle cx="995.3" cy="662.4" r="2.15"/><circle cx="987.9" cy="654.0" r="2.15"/><circle cx="994.4" cy="657.4" r="2.15"/><circle cx="968.1" cy="660.1" r="2.15"/><circle cx="970.2" cy="661.5" r="2.15"/><circle cx="988.4" cy="657.7" r="2.15"/><circle cx="979.1" cy="648.2" r="2.15"/><circle cx="1005.1" cy="671.6" r="2.15"/><circle cx="979.4" cy="649.6" r="2.15"/><circle cx="1008.4" cy="656.3" r="2.15"/><circle cx="979.4" cy="670.5" r="2.15"/><circle cx="971.9" cy="655.7" r="2.15"/><circle cx="991.1" cy="659.1" r="2.15"/><circle cx="986.6" cy="665.4" r="2.15"/><circle cx="984.1" cy="653.6" r="2.15"/><circle cx="1005.5" cy="660.3" r="2.15"/><circle cx="978.4" cy="648.7" r="2.15"/><circle cx="1000.7" cy="647.2" r="2.15"/><circle cx="1009.0" cy="654.5" r="2.15"/><circle cx="989.9" cy="654.7" r="2.15"/><circle cx="992.4" cy="665.3" r="2.15"/><circle cx="1013.4" cy="658.2" r="2.15"/><circle cx="997.4" cy="648.8" r="2.15"/><circle cx="976.3" cy="642.6" r="2.15"/><circle cx="970.8" cy="671.9" r="2.15"/><circle cx="971.4" cy="655.9" r="2.15"/><circle cx="983.9" cy="658.2" r="2.15"/><circle cx="971.8" cy="640.7" r="2.15"/><circle cx="999.7" cy="655.1" r="2.15"/><circle cx="988.4" cy="641.3" r="2.15"/><circle cx="982.7" cy="674.1" r="2.15"/><circle cx="992.9" cy="671.9" r="2.15"/><circle cx="1014.0" cy="656.7" r="2.15"/><circle cx="979.5" cy="669.2" r="2.15"/><circle cx="975.0" cy="673.4" r="2.15"/><circle cx="982.6" cy="661.4" r="2.15"/><circle cx="983.5" cy="661.5" r="2.15"/><circle cx="1012.7" cy="656.9" r="2.15"/><circle cx="1002.5" cy="645.9" r="2.15"/><circle cx="988.7" cy="665.6" r="2.15"/><circle cx="975.6" cy="663.6" r="2.15"/><circle cx="969.6" cy="670.1" r="2.15"/><circle cx="973.4" cy="657.2" r="2.15"/><circle cx="1009.6" cy="649.4" r="2.15"/><circle cx="999.6" cy="649.2" r="2.15"/><circle cx="975.1" cy="676.3" r="2.15"/><circle cx="998.5" cy="654.0" r="2.15"/><circle cx="970.2" cy="660.3" r="2.15"/><circle cx="992.6" cy="662.2" r="2.15"/><circle cx="984.0" cy="667.4" r="2.15"/><circle cx="972.4" cy="662.1" r="2.15"/><circle cx="1004.4" cy="655.5" r="2.15"/><circle cx="1003.1" cy="652.4" r="2.15"/><circle cx="992.8" cy="651.4" r="2.15"/><circle cx="975.7" cy="664.4" r="2.15"/><circle cx="1000.7" cy="657.9" r="2.15"/><circle cx="988.9" cy="664.9" r="2.15"/><circle cx="1000.3" cy="650.8" r="2.15"/><circle cx="971.9" cy="657.4" r="2.15"/><circle cx="1012.3" cy="668.7" r="2.15"/><circle cx="967.5" cy="649.5" r="2.15"/><circle cx="978.4" cy="644.2" r="2.15"/><circle cx="987.2" cy="671.7" r="2.15"/><circle cx="977.2" cy="643.4" r="2.15"/><circle cx="971.7" cy="653.9" r="2.15"/><circle cx="1001.6" cy="658.7" r="2.15"/><circle cx="1016.9" cy="676.1" r="2.15"/><circle cx="984.0" cy="668.4" r="2.15"/><circle cx="980.6" cy="665.6" r="2.15"/><circle cx="1000.8" cy="651.6" r="2.15"/><circle cx="978.4" cy="658.9" r="2.15"/><circle cx="987.3" cy="656.4" r="2.15"/><circle cx="1001.7" cy="657.0" r="2.15"/><circle cx="988.8" cy="654.3" r="2.15"/><circle cx="975.1" cy="660.6" r="2.15"/><circle cx="970.8" cy="647.3" r="2.15"/><circle cx="994.4" cy="675.9" r="2.15"/><circle cx="1016.7" cy="665.6" r="2.15"/><circle cx="1013.2" cy="661.1" r="2.15"/><circle cx="972.3" cy="665.1" r="2.15"/><circle cx="992.4" cy="647.5" r="2.15"/><circle cx="991.7" cy="661.7" r="2.15"/><circle cx="977.0" cy="673.3" r="2.15"/><circle cx="1000.7" cy="662.4" r="2.15"/><circle cx="992.0" cy="661.8" r="2.15"/><circle cx="1007.7" cy="664.7" r="2.15"/><circle cx="981.9" cy="663.5" r="2.15"/><circle cx="1013.9" cy="662.3" r="2.15"/><circle cx="1007.9" cy="652.4" r="2.15"/><circle cx="990.9" cy="659.3" r="2.15"/><circle cx="974.4" cy="655.3" r="2.15"/><circle cx="991.4" cy="658.7" r="2.15"/><circle cx="973.7" cy="648.2" r="2.15"/><circle cx="1001.5" cy="657.6" r="2.15"/><circle cx="1002.1" cy="655.6" r="2.15"/><circle cx="996.2" cy="649.1" r="2.15"/><circle cx="1016.0" cy="647.1" r="2.15"/><circle cx="969.6" cy="648.0" r="2.15"/><circle cx="1003.0" cy="664.0" r="2.15"/><circle cx="1007.3" cy="668.7" r="2.15"/><circle cx="973.0" cy="636.2" r="2.15"/><circle cx="983.4" cy="669.1" r="2.15"/><circle cx="970.0" cy="663.6" r="2.15"/><circle cx="996.4" cy="669.4" r="2.15"/><circle cx="1003.4" cy="655.7" r="2.15"/><circle cx="984.7" cy="658.2" r="2.15"/><circle cx="1002.0" cy="676.8" r="2.15"/><circle cx="985.6" cy="648.9" r="2.15"/><circle cx="1002.8" cy="662.1" r="2.15"/><circle cx="981.1" cy="648.7" r="2.15"/><circle cx="1016.1" cy="650.0" r="2.15"/><circle cx="989.2" cy="657.7" r="2.15"/><circle cx="967.5" cy="649.6" r="2.15"/><circle cx="971.9" cy="664.2" r="2.15"/><circle cx="1003.5" cy="657.6" r="2.15"/><circle cx="1010.4" cy="659.3" r="2.15"/><circle cx="1004.7" cy="592.2" r="2.15"/><circle cx="979.5" cy="616.4" r="2.15"/><circle cx="986.0" cy="624.3" r="2.15"/><circle cx="989.5" cy="624.3" r="2.15"/><circle cx="999.1" cy="630.0" r="2.15"/><circle cx="975.1" cy="694.8" r="2.15"/><circle cx="988.9" cy="694.0" r="2.15"/><circle cx="1000.9" cy="716.0" r="2.15"/><circle cx="988.9" cy="687.5" r="2.15"/><circle cx="1016.7" cy="681.3" r="2.15"/></g>
<g fill="#4900ff"><circle cx="1030.5" cy="648.9" r="2.15"/><circle cx="1047.6" cy="667.9" r="2.15"/><circle cx="1046.7" cy="652.0" r="2.15"/><circle cx="1040.6" cy="652.7" r="2.15"/><circle cx="1065.1" cy="658.5" r="2.15"/><circle cx="1032.5" cy="658.8" r="2.15"/><circle cx="1065.9" cy="650.6" r="2.15"/><circle cx="1039.9" cy="656.1" r="2.15"/><circle cx="1038.8" cy="638.2" r="2.15"/><circle cx="1052.8" cy="678.3" r="2.15"/><circle cx="1050.2" cy="665.9" r="2.15"/><circle cx="1036.3" cy="641.3" r="2.15"/><circle cx="1026.3" cy="654.4" r="2.15"/><circle cx="1069.7" cy="674.7" r="2.15"/><circle cx="1040.5" cy="677.2" r="2.15"/><circle cx="1027.8" cy="669.9" r="2.15"/><circle cx="1054.8" cy="670.9" r="2.15"/><circle cx="1048.6" cy="674.4" r="2.15"/><circle cx="1038.4" cy="663.3" r="2.15"/><circle cx="1038.5" cy="660.4" r="2.15"/><circle cx="1064.2" cy="667.8" r="2.15"/><circle cx="1039.0" cy="659.3" r="2.15"/><circle cx="1042.9" cy="662.5" r="2.15"/><circle cx="1069.8" cy="651.2" r="2.15"/><circle cx="1040.1" cy="669.4" r="2.15"/><circle cx="1042.1" cy="658.9" r="2.15"/><circle cx="1030.2" cy="657.0" r="2.15"/><circle cx="1055.1" cy="651.5" r="2.15"/><circle cx="1055.3" cy="668.2" r="2.15"/><circle cx="1044.4" cy="658.4" r="2.15"/><circle cx="1042.3" cy="669.1" r="2.15"/><circle cx="1033.7" cy="652.1" r="2.15"/><circle cx="1061.5" cy="654.1" r="2.15"/><circle cx="1044.9" cy="648.6" r="2.15"/><circle cx="1063.6" cy="660.5" r="2.15"/><circle cx="1040.8" cy="643.9" r="2.15"/><circle cx="1058.7" cy="662.4" r="2.15"/><circle cx="1023.5" cy="672.3" r="2.15"/><circle cx="1033.1" cy="664.5" r="2.15"/><circle cx="1070.0" cy="658.9" r="2.15"/><circle cx="1056.1" cy="649.1" r="2.15"/><circle cx="1055.8" cy="662.7" r="2.15"/><circle cx="1046.9" cy="663.1" r="2.15"/><circle cx="1045.7" cy="653.2" r="2.15"/><circle cx="1031.9" cy="669.0" r="2.15"/><circle cx="1030.7" cy="650.5" r="2.15"/><circle cx="1054.3" cy="654.1" r="2.15"/><circle cx="1056.7" cy="667.0" r="2.15"/><circle cx="1035.0" cy="658.9" r="2.15"/><circle cx="1054.2" cy="664.0" r="2.15"/><circle cx="1028.9" cy="665.8" r="2.15"/><circle cx="1052.7" cy="655.8" r="2.15"/><circle cx="1030.7" cy="661.0" r="2.15"/><circle cx="1047.5" cy="650.7" r="2.15"/><circle cx="1037.8" cy="657.8" r="2.15"/><circle cx="1049.6" cy="671.9" r="2.15"/><circle cx="1028.8" cy="656.5" r="2.15"/><circle cx="1046.2" cy="652.2" r="2.15"/><circle cx="1052.9" cy="655.5" r="2.15"/><circle cx="1028.8" cy="670.2" r="2.15"/><circle cx="1037.5" cy="663.6" r="2.15"/><circle cx="1055.9" cy="668.9" r="2.15"/><circle cx="1049.3" cy="660.5" r="2.15"/><circle cx="1052.9" cy="664.5" r="2.15"/><circle cx="1061.0" cy="650.8" r="2.15"/><circle cx="1050.6" cy="655.2" r="2.15"/><circle cx="1033.2" cy="637.0" r="2.15"/><circle cx="1044.2" cy="653.8" r="2.15"/><circle cx="1063.5" cy="670.6" r="2.15"/><circle cx="1050.4" cy="660.1" r="2.15"/><circle cx="1059.7" cy="643.2" r="2.15"/><circle cx="1040.3" cy="661.4" r="2.15"/><circle cx="1044.5" cy="657.2" r="2.15"/><circle cx="1070.5" cy="650.6" r="2.15"/><circle cx="1063.1" cy="646.5" r="2.15"/><circle cx="1054.7" cy="648.7" r="2.15"/><circle cx="1027.4" cy="659.0" r="2.15"/><circle cx="1052.6" cy="667.9" r="2.15"/><circle cx="1023.8" cy="662.8" r="2.15"/><circle cx="1068.7" cy="653.3" r="2.15"/><circle cx="1070.6" cy="671.5" r="2.15"/><circle cx="1058.4" cy="657.1" r="2.15"/><circle cx="1035.4" cy="645.2" r="2.15"/><circle cx="1064.3" cy="668.2" r="2.15"/><circle cx="1030.9" cy="652.0" r="2.15"/><circle cx="1063.4" cy="664.9" r="2.15"/><circle cx="1048.1" cy="664.6" r="2.15"/><circle cx="1022.9" cy="654.7" r="2.15"/><circle cx="1066.5" cy="652.9" r="2.15"/><circle cx="1044.0" cy="659.0" r="2.15"/><circle cx="1063.5" cy="654.4" r="2.15"/><circle cx="1056.4" cy="652.4" r="2.15"/><circle cx="1048.7" cy="643.6" r="2.15"/><circle cx="1065.1" cy="666.0" r="2.15"/><circle cx="1032.2" cy="666.3" r="2.15"/><circle cx="1066.9" cy="643.8" r="2.15"/><circle cx="1039.0" cy="651.3" r="2.15"/><circle cx="1023.4" cy="663.8" r="2.15"/><circle cx="1038.9" cy="653.0" r="2.15"/><circle cx="1025.4" cy="644.6" r="2.15"/><circle cx="1025.7" cy="661.2" r="2.15"/><circle cx="1053.2" cy="655.2" r="2.15"/><circle cx="1028.1" cy="650.7" r="2.15"/><circle cx="1030.1" cy="663.4" r="2.15"/><circle cx="1036.7" cy="667.3" r="2.15"/><circle cx="1036.0" cy="651.3" r="2.15"/><circle cx="1068.0" cy="658.2" r="2.15"/><circle cx="1067.3" cy="656.5" r="2.15"/><circle cx="1065.5" cy="664.5" r="2.15"/><circle cx="1071.5" cy="652.9" r="2.15"/><circle cx="1044.1" cy="650.0" r="2.15"/><circle cx="1061.8" cy="657.6" r="2.15"/><circle cx="1036.1" cy="657.6" r="2.15"/><circle cx="1068.3" cy="665.8" r="2.15"/><circle cx="1062.5" cy="663.3" r="2.15"/><circle cx="1058.6" cy="668.9" r="2.15"/><circle cx="1033.5" cy="657.5" r="2.15"/><circle cx="1026.7" cy="656.6" r="2.15"/><circle cx="1068.2" cy="663.5" r="2.15"/><circle cx="1049.6" cy="668.5" r="2.15"/><circle cx="1052.6" cy="659.7" r="2.15"/><circle cx="1065.1" cy="652.7" r="2.15"/><circle cx="1029.3" cy="646.8" r="2.15"/><circle cx="1057.0" cy="672.8" r="2.15"/><circle cx="1045.2" cy="657.0" r="2.15"/><circle cx="1061.3" cy="647.0" r="2.15"/><circle cx="1044.8" cy="664.8" r="2.15"/><circle cx="1031.9" cy="661.6" r="2.15"/><circle cx="1069.8" cy="650.9" r="2.15"/><circle cx="1036.1" cy="656.5" r="2.15"/><circle cx="1059.2" cy="665.3" r="2.15"/><circle cx="1063.6" cy="667.2" r="2.15"/><circle cx="1034.5" cy="662.5" r="2.15"/><circle cx="1056.8" cy="658.5" r="2.15"/><circle cx="1041.9" cy="656.5" r="2.15"/><circle cx="1033.3" cy="651.1" r="2.15"/><circle cx="1032.9" cy="665.1" r="2.15"/><circle cx="1069.7" cy="654.2" r="2.15"/><circle cx="1040.5" cy="654.7" r="2.15"/><circle cx="1047.5" cy="660.6" r="2.15"/><circle cx="1047.1" cy="651.9" r="2.15"/><circle cx="1023.4" cy="658.7" r="2.15"/><circle cx="1059.7" cy="654.3" r="2.15"/><circle cx="1059.3" cy="663.1" r="2.15"/><circle cx="1065.8" cy="665.2" r="2.15"/><circle cx="1039.9" cy="662.5" r="2.15"/><circle cx="1032.6" cy="643.5" r="2.15"/><circle cx="1039.4" cy="654.6" r="2.15"/><circle cx="1058.6" cy="655.7" r="2.15"/><circle cx="1054.9" cy="664.4" r="2.15"/><circle cx="1042.3" cy="656.6" r="2.15"/><circle cx="1048.3" cy="667.7" r="2.15"/><circle cx="1029.8" cy="655.4" r="2.15"/><circle cx="1067.9" cy="658.4" r="2.15"/><circle cx="1045.6" cy="662.6" r="2.15"/><circle cx="1047.4" cy="654.0" r="2.15"/><circle cx="1061.3" cy="668.6" r="2.15"/><circle cx="1032.0" cy="668.6" r="2.15"/><circle cx="1058.1" cy="652.3" r="2.15"/><circle cx="1039.7" cy="667.1" r="2.15"/><circle cx="1062.6" cy="669.7" r="2.15"/><circle cx="1026.8" cy="648.3" r="2.15"/><circle cx="1035.9" cy="653.0" r="2.15"/><circle cx="1053.8" cy="654.2" r="2.15"/><circle cx="1046.2" cy="658.0" r="2.15"/><circle cx="1040.9" cy="667.3" r="2.15"/><circle cx="1051.0" cy="654.5" r="2.15"/><circle cx="1033.0" cy="658.3" r="2.15"/><circle cx="1043.9" cy="663.9" r="2.15"/><circle cx="1022.2" cy="656.8" r="2.15"/><circle cx="1061.9" cy="654.4" r="2.15"/><circle cx="1034.8" cy="658.1" r="2.15"/><circle cx="1063.5" cy="651.4" r="2.15"/><circle cx="1049.6" cy="653.8" r="2.15"/><circle cx="1052.1" cy="667.4" r="2.15"/><circle cx="1053.3" cy="654.0" r="2.15"/><circle cx="1028.4" cy="661.4" r="2.15"/><circle cx="1060.9" cy="645.4" r="2.15"/><circle cx="1036.7" cy="682.0" r="2.15"/><circle cx="1065.1" cy="660.6" r="2.15"/><circle cx="1043.6" cy="623.2" r="2.15"/><circle cx="1062.3" cy="621.5" r="2.15"/><circle cx="1061.3" cy="632.8" r="2.15"/><circle cx="1043.1" cy="699.9" r="2.15"/><circle cx="1038.8" cy="689.2" r="2.15"/><circle cx="1055.9" cy="686.4" r="2.15"/><circle cx="1062.8" cy="683.6" r="2.15"/></g>
<g fill="#9200ff"><circle cx="1098.7" cy="664.1" r="2.15"/><circle cx="1090.9" cy="654.1" r="2.15"/><circle cx="1106.1" cy="653.9" r="2.15"/><circle cx="1091.8" cy="658.0" r="2.15"/><circle cx="1090.6" cy="652.8" r="2.15"/><circle cx="1108.9" cy="654.0" r="2.15"/><circle cx="1081.1" cy="659.9" r="2.15"/><circle cx="1116.8" cy="657.2" r="2.15"/><circle cx="1101.6" cy="655.2" r="2.15"/><circle cx="1088.3" cy="647.0" r="2.15"/><circle cx="1082.6" cy="659.2" r="2.15"/><circle cx="1102.2" cy="655.2" r="2.15"/><circle cx="1102.0" cy="654.3" r="2.15"/><circle cx="1112.8" cy="651.0" r="2.15"/><circle cx="1095.5" cy="654.9" r="2.15"/><circle cx="1097.4" cy="651.7" r="2.15"/><circle cx="1121.4" cy="662.4" r="2.15"/><circle cx="1090.5" cy="658.3" r="2.15"/><circle cx="1125.8" cy="666.7" r="2.15"/><circle cx="1121.4" cy="657.3" r="2.15"/><circle cx="1126.3" cy="645.4" r="2.15"/><circle cx="1123.9" cy="655.8" r="2.15"/><circle cx="1089.7" cy="656.6" r="2.15"/><circle cx="1117.5" cy="655.7" r="2.15"/><circle cx="1107.4" cy="656.3" r="2.15"/><circle cx="1087.0" cy="663.6" r="2.15"/><circle cx="1126.6" cy="660.5" r="2.15"/><circle cx="1109.2" cy="657.9" r="2.15"/><circle cx="1117.3" cy="656.2" r="2.15"/><circle cx="1104.7" cy="661.3" r="2.15"/><circle cx="1080.8" cy="657.6" r="2.15"/><circle cx="1119.9" cy="660.7" r="2.15"/><circle cx="1085.6" cy="663.6" r="2.15"/><circle cx="1089.8" cy="660.3" r="2.15"/><circle cx="1107.6" cy="661.1" r="2.15"/><circle cx="1086.5" cy="652.9" r="2.15"/><circle cx="1099.9" cy="650.4" r="2.15"/><circle cx="1112.5" cy="654.1" r="2.15"/><circle cx="1081.7" cy="658.1" r="2.15"/><circle cx="1109.8" cy="659.8" r="2.15"/><circle cx="1082.1" cy="664.9" r="2.15"/><circle cx="1100.6" cy="659.6" r="2.15"/><circle cx="1109.3" cy="649.2" r="2.15"/><circle cx="1111.2" cy="651.3" r="2.15"/><circle cx="1079.0" cy="655.9" r="2.15"/><circle cx="1086.4" cy="658.2" r="2.15"/><circle cx="1124.8" cy="657.0" r="2.15"/><circle cx="1096.4" cy="654.9" r="2.15"/><circle cx="1098.1" cy="657.1" r="2.15"/><circle cx="1095.6" cy="654.9" r="2.15"/><circle cx="1111.6" cy="660.9" r="2.15"/><circle cx="1113.8" cy="656.8" r="2.15"/><circle cx="1109.3" cy="658.8" r="2.15"/><circle cx="1096.9" cy="651.7" r="2.15"/><circle cx="1105.3" cy="663.2" r="2.15"/><circle cx="1102.6" cy="650.6" r="2.15"/><circle cx="1086.2" cy="657.5" r="2.15"/><circle cx="1124.2" cy="659.5" r="2.15"/><circle cx="1125.0" cy="656.9" r="2.15"/><circle cx="1115.6" cy="656.4" r="2.15"/><circle cx="1126.4" cy="658.2" r="2.15"/><circle cx="1100.1" cy="654.9" r="2.15"/><circle cx="1118.7" cy="659.9" r="2.15"/><circle cx="1088.9" cy="665.4" r="2.15"/><circle cx="1113.9" cy="653.6" r="2.15"/><circle cx="1112.5" cy="657.1" r="2.15"/><circle cx="1123.7" cy="648.7" r="2.15"/><circle cx="1118.4" cy="655.1" r="2.15"/><circle cx="1120.7" cy="667.0" r="2.15"/><circle cx="1090.2" cy="650.9" r="2.15"/><circle cx="1116.1" cy="660.5" r="2.15"/><circle cx="1100.6" cy="654.3" r="2.15"/><circle cx="1092.5" cy="646.0" r="2.15"/><circle cx="1095.3" cy="651.6" r="2.15"/><circle cx="1116.7" cy="662.5" r="2.15"/><circle cx="1118.9" cy="657.5" r="2.15"/><circle cx="1119.0" cy="665.1" r="2.15"/><circle cx="1110.3" cy="653.7" r="2.15"/><circle cx="1085.4" cy="654.2" r="2.15"/><circle cx="1084.6" cy="662.1" r="2.15"/><circle cx="1105.2" cy="654.8" r="2.15"/><circle cx="1087.4" cy="652.4" r="2.15"/><circle cx="1093.7" cy="653.0" r="2.15"/><circle cx="1082.0" cy="660.3" r="2.15"/><circle cx="1084.6" cy="660.5" r="2.15"/><circle cx="1112.6" cy="662.6" r="2.15"/><circle cx="1088.0" cy="663.5" r="2.15"/><circle cx="1119.2" cy="655.5" r="2.15"/><circle cx="1093.3" cy="656.9" r="2.15"/><circle cx="1119.2" cy="650.6" r="2.15"/><circle cx="1092.0" cy="655.7" r="2.15"/><circle cx="1090.2" cy="658.6" r="2.15"/><circle cx="1096.6" cy="664.2" r="2.15"/><circle cx="1077.5" cy="649.4" r="2.15"/><circle cx="1098.6" cy="656.2" r="2.15"/><circle cx="1095.8" cy="657.2" r="2.15"/><circle cx="1077.5" cy="662.1" r="2.15"/><circle cx="1119.8" cy="662.2" r="2.15"/><circle cx="1095.6" cy="653.9" r="2.15"/><circle cx="1076.9" cy="661.8" r="2.15"/><circle cx="1124.8" cy="654.1" r="2.15"/><circle cx="1088.3" cy="653.9" r="2.15"/><circle cx="1089.5" cy="659.0" r="2.15"/><circle cx="1078.1" cy="665.0" r="2.15"/><circle cx="1081.8" cy="655.0" r="2.15"/><circle cx="1112.3" cy="650.1" r="2.15"/><circle cx="1105.9" cy="661.2" r="2.15"/><circle cx="1102.0" cy="663.2" r="2.15"/><circle cx="1089.2" cy="651.6" r="2.15"/><circle cx="1091.2" cy="656.3" r="2.15"/><circle cx="1125.3" cy="660.2" r="2.15"/><circle cx="1095.4" cy="651.0" r="2.15"/><circle cx="1126.2" cy="658.4" r="2.15"/><circle cx="1121.1" cy="654.8" r="2.15"/><circle cx="1083.1" cy="659.1" r="2.15"/><circle cx="1119.2" cy="660.7" r="2.15"/><circle cx="1077.9" cy="656.0" r="2.15"/><circle cx="1112.3" cy="661.2" r="2.15"/><circle cx="1117.3" cy="665.9" r="2.15"/><circle cx="1111.6" cy="659.7" r="2.15"/><circle cx="1104.3" cy="650.9" r="2.15"/><circle cx="1117.4" cy="651.6" r="2.15"/><circle cx="1084.6" cy="646.2" r="2.15"/><circle cx="1103.8" cy="652.1" r="2.15"/><circle cx="1090.1" cy="649.0" r="2.15"/><circle cx="1096.8" cy="655.8" r="2.15"/><circle cx="1086.4" cy="659.2" r="2.15"/><circle cx="1112.2" cy="654.7" r="2.15"/><circle cx="1105.5" cy="661.8" r="2.15"/><circle cx="1115.7" cy="653.4" r="2.15"/><circle cx="1108.2" cy="659.3" r="2.15"/><circle cx="1106.8" cy="655.7" r="2.15"/><circle cx="1122.9" cy="661.3" r="2.15"/><circle cx="1117.4" cy="657.7" r="2.15"/><circle cx="1105.1" cy="652.2" r="2.15"/><circle cx="1093.1" cy="658.1" r="2.15"/><circle cx="1123.2" cy="660.4" r="2.15"/><circle cx="1095.4" cy="655.6" r="2.15"/><circle cx="1082.0" cy="652.7" r="2.15"/><circle cx="1093.5" cy="657.9" r="2.15"/><circle cx="1112.1" cy="662.9" r="2.15"/><circle cx="1123.3" cy="664.7" r="2.15"/><circle cx="1109.1" cy="663.7" r="2.15"/><circle cx="1109.9" cy="651.8" r="2.15"/><circle cx="1123.6" cy="657.5" r="2.15"/><circle cx="1115.7" cy="654.6" r="2.15"/><circle cx="1099.1" cy="651.7" r="2.15"/><circle cx="1099.9" cy="655.6" r="2.15"/><circle cx="1114.8" cy="654.7" r="2.15"/><circle cx="1092.7" cy="659.5" r="2.15"/><circle cx="1082.3" cy="665.1" r="2.15"/><circle cx="1107.8" cy="653.9" r="2.15"/><circle cx="1117.2" cy="657.5" r="2.15"/><circle cx="1089.3" cy="654.2" r="2.15"/><circle cx="1111.0" cy="662.4" r="2.15"/><circle cx="1121.4" cy="657.7" r="2.15"/><circle cx="1083.2" cy="647.0" r="2.15"/><circle cx="1083.6" cy="661.1" r="2.15"/><circle cx="1101.5" cy="656.6" r="2.15"/><circle cx="1093.5" cy="650.6" r="2.15"/><circle cx="1124.2" cy="658.2" r="2.15"/><circle cx="1126.6" cy="656.4" r="2.15"/><circle cx="1099.1" cy="667.7" r="2.15"/><circle cx="1116.4" cy="653.2" r="2.15"/><circle cx="1108.4" cy="659.2" r="2.15"/><circle cx="1085.5" cy="650.7" r="2.15"/><circle cx="1125.3" cy="657.5" r="2.15"/><circle cx="1085.6" cy="658.8" r="2.15"/><circle cx="1080.7" cy="654.9" r="2.15"/><circle cx="1099.4" cy="658.2" r="2.15"/><circle cx="1077.8" cy="659.6" r="2.15"/><circle cx="1100.9" cy="649.4" r="2.15"/><circle cx="1097.4" cy="652.2" r="2.15"/><circle cx="1124.5" cy="656.5" r="2.15"/><circle cx="1097.5" cy="653.0" r="2.15"/><circle cx="1119.3" cy="652.9" r="2.15"/><circle cx="1115.8" cy="654.2" r="2.15"/><circle cx="1106.1" cy="656.8" r="2.15"/><circle cx="1088.7" cy="656.7" r="2.15"/><circle cx="1092.1" cy="655.0" r="2.15"/><circle cx="1101.4" cy="654.2" r="2.15"/><circle cx="1096.6" cy="655.3" r="2.15"/><circle cx="1109.1" cy="659.8" r="2.15"/><circle cx="1102.1" cy="657.4" r="2.15"/><circle cx="1093.0" cy="654.8" r="2.15"/><circle cx="1107.1" cy="661.8" r="2.15"/><circle cx="1126.6" cy="657.1" r="2.15"/><circle cx="1087.0" cy="653.3" r="2.15"/><circle cx="1093.6" cy="656.2" r="2.15"/><circle cx="1077.5" cy="658.4" r="2.15"/><circle cx="1081.6" cy="657.2" r="2.15"/><circle cx="1079.6" cy="659.3" r="2.15"/><circle cx="1098.0" cy="652.2" r="2.15"/><circle cx="1118.6" cy="658.8" r="2.15"/><circle cx="1111.7" cy="665.3" r="2.15"/><circle cx="1125.1" cy="662.9" r="2.15"/><circle cx="1118.6" cy="655.6" r="2.15"/><circle cx="1106.1" cy="656.0" r="2.15"/><circle cx="1105.8" cy="659.4" r="2.15"/><circle cx="1077.5" cy="663.4" r="2.15"/><circle cx="1096.0" cy="657.8" r="2.15"/><circle cx="1089.9" cy="661.1" r="2.15"/><circle cx="1107.8" cy="660.3" r="2.15"/><circle cx="1080.1" cy="657.0" r="2.15"/><circle cx="1090.4" cy="623.2" r="2.15"/><circle cx="1084.4" cy="629.4" r="2.15"/><circle cx="1103.9" cy="672.3" r="2.15"/><circle cx="1095.6" cy="671.2" r="2.15"/></g>
</g>
<line x1="198" y1="661" x2="1129.2" y2="661" stroke="#b4b4b4" stroke-width="2"/>
<line x1="252.78" y1="584" x2="252.78" y2="766" stroke="#333" stroke-width="1.4"/>
<line x1="307.55" y1="584" x2="307.55" y2="766" stroke="#333" stroke-width="1.4"/>
<line x1="362.33" y1="584" x2="362.33" y2="766" stroke="#333" stroke-width="1.4"/>
<line x1="417.11" y1="584" x2="417.11" y2="766" stroke="#333" stroke-width="1.4"/>
<line x1="471.88" y1="584" x2="471.88" y2="766" stroke="#333" stroke-width="1.4"/>
<line x1="526.66" y1="584" x2="526.66" y2="766" stroke="#333" stroke-width="1.4"/>
<line x1="581.44" y1="584" x2="581.44" y2="766" stroke="#333" stroke-width="1.4"/>
<line x1="636.21" y1="584" x2="636.21" y2="766" stroke="#333" stroke-width="1.4"/>
<line x1="690.99" y1="584" x2="690.99" y2="766" stroke="#333" stroke-width="1.4"/>
<line x1="745.76" y1="584" x2="745.76" y2="766" stroke="#333" stroke-width="1.4"/>
<line x1="800.54" y1="584" x2="800.54" y2="766" stroke="#333" stroke-width="1.4"/>
<line x1="855.32" y1="584" x2="855.32" y2="766" stroke="#333" stroke-width="1.4"/>
<line x1="910.09" y1="584" x2="910.09" y2="766" stroke="#333" stroke-width="1.4"/>
<line x1="964.87" y1="584" x2="964.87" y2="766" stroke="#333" stroke-width="1.4"/>
<line x1="1019.65" y1="584" x2="1019.65" y2="766" stroke="#333" stroke-width="1.4"/>
<line x1="1074.42" y1="584" x2="1074.42" y2="766" stroke="#333" stroke-width="1.4"/>
<rect x="198" y="584" width="931.2" height="182" fill="none" stroke="#333" stroke-width="1.4"/>
<line x1="192.4" y1="604.6" x2="198" y2="604.6" stroke="#333" stroke-width="1.2"/>
<text x="186" y="610" class="b" font-size="15.2" text-anchor="end" fill="#000">1.0</text>
<line x1="192.4" y1="632.8" x2="198" y2="632.8" stroke="#333" stroke-width="1.2"/>
<text x="186" y="638.2" class="b" font-size="15.2" text-anchor="end" fill="#000">0.5</text>
<line x1="192.4" y1="661" x2="198" y2="661" stroke="#333" stroke-width="1.2"/>
<text x="186" y="666.4" class="b" font-size="15.2" text-anchor="end" fill="#000">0.0</text>
<line x1="192.4" y1="689.2" x2="198" y2="689.2" stroke="#333" stroke-width="1.2"/>
<text x="186" y="694.6" class="b" font-size="15.2" text-anchor="end" fill="#000">-0.5</text>
<line x1="192.4" y1="717.4" x2="198" y2="717.4" stroke="#333" stroke-width="1.2"/>
<text x="186" y="722.8" class="b" font-size="15.2" text-anchor="end" fill="#000">-1.0</text>
<line x1="192.4" y1="745.6" x2="198" y2="745.6" stroke="#333" stroke-width="1.2"/>
<text x="186" y="751" class="b" font-size="15.2" text-anchor="end" fill="#000">-1.5</text>
<text x="204.4" y="747" font-size="13.6" fill="#000">FDR</text>
<text x="204.4" y="764" font-size="13.6" fill="#000">1.7e-09</text>
<text x="259.18" y="747" font-size="13.6" fill="#000">FDR</text>
<text x="259.18" y="764" font-size="13.6" fill="#000">1.7e-09</text>
<text x="313.95" y="747" font-size="13.6" fill="#000">FDR</text>
<text x="313.95" y="764" font-size="13.6" fill="#000">1.7e-09</text>
<text x="368.73" y="747" font-size="13.6" fill="#000">FDR</text>
<text x="368.73" y="764" font-size="13.6" fill="#000">6.7e-08</text>
<text x="423.51" y="747" font-size="13.6" fill="#000">FDR</text>
<text x="423.51" y="764" font-size="13.6" fill="#000">1.6e-06</text>
<text x="478.28" y="747" font-size="13.6" fill="#000">FDR</text>
<text x="478.28" y="764" font-size="13.6" fill="#000">3.5e-06</text>
<text x="533.06" y="747" font-size="13.6" fill="#000">FDR</text>
<text x="533.06" y="764" font-size="13.6" fill="#000">3.2e-05</text>
<text x="587.84" y="747" font-size="13.6" fill="#000">FDR</text>
<text x="587.84" y="764" font-size="13.6" fill="#000">1.4e-04</text>
<text x="642.61" y="747" font-size="13.6" fill="#000">FDR</text>
<text x="642.61" y="764" font-size="13.6" fill="#000">1.4e-04</text>
<text x="707.99" y="747" font-size="13.6" fill="#000">FDR</text>
<text x="707.99" y="764" font-size="13.6" fill="#000">2e-04</text>
<text x="752.16" y="747" font-size="13.6" fill="#000">FDR</text>
<text x="752.16" y="764" font-size="13.6" fill="#000">6.1e-04</text>
<text x="817.54" y="747" font-size="13.6" fill="#000">FDR</text>
<text x="817.54" y="764" font-size="13.6" fill="#000">9e-04</text>
<text x="872.32" y="747" font-size="13.6" fill="#000">FDR</text>
<text x="872.32" y="764" font-size="13.6" fill="#000">1e-03</text>
<text x="916.49" y="747" font-size="13.6" fill="#000">FDR</text>
<text x="916.49" y="764" font-size="13.6" fill="#000">1.2e-03</text>
<text x="981.87" y="747" font-size="13.6" fill="#000">FDR</text>
<text x="981.87" y="764" font-size="13.6" fill="#000">2e-02</text>
<text x="1026.05" y="747" font-size="13.6" fill="#000">FDR</text>
<text x="1026.05" y="764" font-size="13.6" fill="#000">2.7e-02</text>
<text x="1080.82" y="747" font-size="13.6" fill="#000">FDR</text>
<text x="1080.82" y="764" font-size="13.6" fill="#000">3.6e-02</text>
<text transform="translate(224.19,782.3) rotate(-24.5)" class="b" font-size="15" text-anchor="end" fill="#D95F02">ESTROGEN RESPONSE EARLY</text>
<text transform="translate(278.96,782.3) rotate(-24.5)" class="b" font-size="15" text-anchor="end" fill="#7570B3">ALLOGRAFT REJECTION</text>
<text transform="translate(333.74,782.3) rotate(-24.5)" class="b" font-size="15" text-anchor="end" fill="#7570B3">INTERFERON GAMMA RESPONSE</text>
<text transform="translate(388.52,782.3) rotate(-24.5)" class="b" font-size="15" text-anchor="end" fill="#D95F02">ESTROGEN RESPONSE LATE</text>
<text transform="translate(443.29,782.3) rotate(-24.5)" class="b" font-size="15" text-anchor="end" fill="#D95F02">IL2 STAT5 SIGNALING</text>
<text transform="translate(498.07,782.3) rotate(-24.5)" class="b" font-size="15" text-anchor="end" fill="#7570B3">INFLAMMATORY RESPONSE</text>
<text transform="translate(552.85,782.3) rotate(-24.5)" class="b" font-size="15" text-anchor="end" fill="#D95F02">KRAS SIGNALING UP</text>
<text transform="translate(607.62,782.3) rotate(-24.5)" class="b" font-size="15" text-anchor="end" fill="#7570B3">COMPLEMENT</text>
<text transform="translate(662.4,782.3) rotate(-24.5)" class="b" font-size="15" text-anchor="end" fill="#7570B3">IL6 JAK STAT3 SIGNALING</text>
<text transform="translate(717.18,782.3) rotate(-24.5)" class="b" font-size="15" text-anchor="end" fill="#E6AB02">EPITHELIAL MESENCHYMAL TRANSITION</text>
<text transform="translate(771.95,782.3) rotate(-24.5)" class="b" font-size="15" text-anchor="end" fill="#D95F02">TNFA SIGNALING VIA NFKB</text>
<text transform="translate(826.73,782.3) rotate(-24.5)" class="b" font-size="15" text-anchor="end" fill="#666666">APICAL JUNCTION</text>
<text transform="translate(881.51,782.3) rotate(-24.5)" class="b" font-size="15" text-anchor="end" fill="#1B9E77">G2M CHECKPOINT</text>
<text transform="translate(936.28,782.3) rotate(-24.5)" class="b" font-size="15" text-anchor="end" fill="#7570B3">INTERFERON ALPHA RESPONSE</text>
<text transform="translate(991.06,782.3) rotate(-24.5)" class="b" font-size="15" text-anchor="end" fill="#A6761D">XENOBIOTIC METABOLISM</text>
<text transform="translate(1045.84,782.3) rotate(-24.5)" class="b" font-size="15" text-anchor="end" fill="#E7298A">HYPOXIA</text>
<text transform="translate(1100.61,782.3) rotate(-24.5)" class="b" font-size="15" text-anchor="end" fill="#1B9E77">MITOTIC SPINDLE</text>
<text transform="translate(123.2,711.8) rotate(-90)" font-size="16.9" text-anchor="middle" fill="#000">Log2 FC</text>
<g transform="translate(145,744.5) rotate(-90)" fill="#000"><text x="0" y="0" font-size="16.9">PRs ESR1</text><text x="80.8" y="-9" font-size="12.5">HIGH</text><text x="122.5" y="0" font-size="16.9">- GRs</text></g>
<text x="954.6" y="910.9" class="b" font-size="37">d</text>
<rect x="1082.2" y="842.7" width="916.8" height="197.3" fill="#fff"/>
<clipPath id="cld"><rect x="1082.2" y="842.7" width="916.8" height="197.3"/></clipPath>
<g clip-path="url(#cld)">
<g fill="#ff0000"><circle cx="1129.3" cy="921.0" r="1.85"/><circle cx="1088.7" cy="905.4" r="1.85"/><circle cx="1130.6" cy="899.4" r="1.85"/><circle cx="1120.2" cy="914.1" r="1.85"/><circle cx="1090.8" cy="922.0" r="1.85"/><circle cx="1106.9" cy="909.7" r="1.85"/><circle cx="1115.4" cy="904.4" r="1.85"/><circle cx="1129.5" cy="898.4" r="1.85"/><circle cx="1103.1" cy="920.9" r="1.85"/><circle cx="1112.6" cy="921.7" r="1.85"/><circle cx="1128.0" cy="902.2" r="1.85"/><circle cx="1123.9" cy="904.5" r="1.85"/><circle cx="1131.2" cy="894.2" r="1.85"/><circle cx="1107.4" cy="899.5" r="1.85"/><circle cx="1116.7" cy="910.1" r="1.85"/><circle cx="1094.5" cy="911.7" r="1.85"/><circle cx="1120.2" cy="886.0" r="1.85"/><circle cx="1125.0" cy="911.9" r="1.85"/><circle cx="1116.2" cy="916.7" r="1.85"/><circle cx="1120.0" cy="920.1" r="1.85"/><circle cx="1094.9" cy="908.1" r="1.85"/><circle cx="1129.0" cy="907.7" r="1.85"/><circle cx="1133.0" cy="912.4" r="1.85"/><circle cx="1132.9" cy="909.7" r="1.85"/><circle cx="1111.0" cy="906.4" r="1.85"/><circle cx="1123.6" cy="902.3" r="1.85"/><circle cx="1100.3" cy="898.4" r="1.85"/><circle cx="1129.5" cy="907.0" r="1.85"/><circle cx="1126.8" cy="926.5" r="1.85"/><circle cx="1101.6" cy="902.2" r="1.85"/><circle cx="1088.5" cy="922.9" r="1.85"/><circle cx="1106.2" cy="910.7" r="1.85"/><circle cx="1111.7" cy="923.4" r="1.85"/><circle cx="1122.5" cy="909.1" r="1.85"/><circle cx="1108.5" cy="916.6" r="1.85"/><circle cx="1085.8" cy="907.0" r="1.85"/><circle cx="1124.5" cy="886.0" r="1.85"/><circle cx="1087.5" cy="909.5" r="1.85"/><circle cx="1124.0" cy="900.9" r="1.85"/><circle cx="1092.9" cy="921.9" r="1.85"/><circle cx="1101.0" cy="911.9" r="1.85"/><circle cx="1123.5" cy="902.6" r="1.85"/><circle cx="1091.3" cy="910.0" r="1.85"/><circle cx="1091.7" cy="905.5" r="1.85"/><circle cx="1110.0" cy="908.1" r="1.85"/><circle cx="1120.3" cy="918.9" r="1.85"/><circle cx="1126.0" cy="903.6" r="1.85"/><circle cx="1118.6" cy="917.0" r="1.85"/><circle cx="1131.3" cy="890.9" r="1.85"/><circle cx="1108.8" cy="914.0" r="1.85"/><circle cx="1131.5" cy="902.4" r="1.85"/><circle cx="1088.6" cy="909.1" r="1.85"/><circle cx="1095.3" cy="899.8" r="1.85"/><circle cx="1110.5" cy="914.9" r="1.85"/><circle cx="1098.8" cy="899.4" r="1.85"/><circle cx="1120.5" cy="910.3" r="1.85"/><circle cx="1116.1" cy="896.8" r="1.85"/><circle cx="1110.3" cy="903.0" r="1.85"/><circle cx="1126.2" cy="907.7" r="1.85"/><circle cx="1112.1" cy="916.7" r="1.85"/><circle cx="1099.8" cy="901.6" r="1.85"/><circle cx="1103.3" cy="904.5" r="1.85"/><circle cx="1126.3" cy="893.1" r="1.85"/><circle cx="1129.0" cy="912.7" r="1.85"/><circle cx="1094.7" cy="903.7" r="1.85"/><circle cx="1126.6" cy="904.1" r="1.85"/><circle cx="1132.4" cy="906.3" r="1.85"/><circle cx="1110.4" cy="907.0" r="1.85"/><circle cx="1112.8" cy="907.3" r="1.85"/><circle cx="1094.3" cy="914.9" r="1.85"/><circle cx="1110.9" cy="918.9" r="1.85"/><circle cx="1109.3" cy="912.9" r="1.85"/><circle cx="1114.4" cy="903.3" r="1.85"/><circle cx="1085.7" cy="894.4" r="1.85"/><circle cx="1132.5" cy="899.6" r="1.85"/><circle cx="1110.0" cy="898.8" r="1.85"/><circle cx="1104.2" cy="901.5" r="1.85"/><circle cx="1124.1" cy="902.3" r="1.85"/><circle cx="1112.3" cy="907.3" r="1.85"/><circle cx="1108.7" cy="901.6" r="1.85"/><circle cx="1118.6" cy="891.8" r="1.85"/><circle cx="1087.6" cy="912.3" r="1.85"/><circle cx="1111.1" cy="915.8" r="1.85"/><circle cx="1104.9" cy="890.0" r="1.85"/><circle cx="1131.8" cy="906.7" r="1.85"/><circle cx="1130.2" cy="899.6" r="1.85"/><circle cx="1097.7" cy="900.6" r="1.85"/><circle cx="1107.8" cy="920.1" r="1.85"/><circle cx="1090.7" cy="886.0" r="1.85"/><circle cx="1105.9" cy="891.8" r="1.85"/><circle cx="1124.8" cy="907.4" r="1.85"/><circle cx="1129.0" cy="901.8" r="1.85"/><circle cx="1108.0" cy="907.8" r="1.85"/><circle cx="1100.1" cy="917.7" r="1.85"/><circle cx="1093.9" cy="910.2" r="1.85"/><circle cx="1115.0" cy="905.4" r="1.85"/><circle cx="1130.3" cy="898.2" r="1.85"/><circle cx="1090.8" cy="902.2" r="1.85"/><circle cx="1123.0" cy="908.5" r="1.85"/><circle cx="1085.5" cy="895.9" r="1.85"/><circle cx="1094.0" cy="916.5" r="1.85"/><circle cx="1095.6" cy="901.4" r="1.85"/><circle cx="1118.4" cy="898.3" r="1.85"/><circle cx="1100.3" cy="911.9" r="1.85"/><circle cx="1102.0" cy="926.5" r="1.85"/><circle cx="1115.1" cy="917.9" r="1.85"/><circle cx="1089.6" cy="906.8" r="1.85"/><circle cx="1120.6" cy="903.9" r="1.85"/><circle cx="1090.4" cy="894.0" r="1.85"/><circle cx="1109.7" cy="918.8" r="1.85"/><circle cx="1096.8" cy="909.1" r="1.85"/><circle cx="1094.2" cy="902.8" r="1.85"/><circle cx="1110.7" cy="910.6" r="1.85"/><circle cx="1106.0" cy="932.1" r="1.85"/><circle cx="1103.0" cy="901.2" r="1.85"/><circle cx="1104.9" cy="886.6" r="1.85"/><circle cx="1110.6" cy="899.3" r="1.85"/><circle cx="1092.3" cy="918.0" r="1.85"/><circle cx="1094.5" cy="913.1" r="1.85"/><circle cx="1115.7" cy="906.9" r="1.85"/><circle cx="1116.0" cy="886.0" r="1.85"/><circle cx="1110.6" cy="903.1" r="1.85"/><circle cx="1126.6" cy="908.0" r="1.85"/><circle cx="1114.7" cy="893.9" r="1.85"/><circle cx="1126.9" cy="909.9" r="1.85"/><circle cx="1095.9" cy="891.0" r="1.85"/><circle cx="1121.1" cy="915.7" r="1.85"/><circle cx="1124.6" cy="913.7" r="1.85"/><circle cx="1129.1" cy="902.1" r="1.85"/><circle cx="1100.0" cy="895.2" r="1.85"/><circle cx="1100.0" cy="902.7" r="1.85"/><circle cx="1130.1" cy="906.1" r="1.85"/><circle cx="1095.2" cy="926.8" r="1.85"/><circle cx="1133.9" cy="916.0" r="1.85"/><circle cx="1128.4" cy="915.0" r="1.85"/><circle cx="1091.0" cy="914.3" r="1.85"/><circle cx="1096.2" cy="903.4" r="1.85"/><circle cx="1120.4" cy="912.3" r="1.85"/><circle cx="1097.2" cy="901.4" r="1.85"/><circle cx="1089.2" cy="908.3" r="1.85"/><circle cx="1125.7" cy="912.3" r="1.85"/><circle cx="1105.3" cy="907.9" r="1.85"/><circle cx="1123.6" cy="904.9" r="1.85"/><circle cx="1090.6" cy="900.7" r="1.85"/><circle cx="1104.3" cy="913.7" r="1.85"/><circle cx="1118.4" cy="911.3" r="1.85"/><circle cx="1085.2" cy="922.3" r="1.85"/><circle cx="1094.3" cy="893.5" r="1.85"/><circle cx="1118.2" cy="895.0" r="1.85"/><circle cx="1129.6" cy="910.8" r="1.85"/><circle cx="1132.4" cy="913.7" r="1.85"/><circle cx="1090.1" cy="921.1" r="1.85"/><circle cx="1109.4" cy="907.4" r="1.85"/><circle cx="1122.0" cy="907.1" r="1.85"/><circle cx="1109.3" cy="887.9" r="1.85"/><circle cx="1118.4" cy="906.7" r="1.85"/><circle cx="1093.7" cy="916.6" r="1.85"/><circle cx="1087.9" cy="932.9" r="1.85"/><circle cx="1089.6" cy="895.4" r="1.85"/><circle cx="1086.2" cy="907.2" r="1.85"/><circle cx="1111.7" cy="924.7" r="1.85"/><circle cx="1109.9" cy="907.3" r="1.85"/><circle cx="1112.6" cy="924.7" r="1.85"/><circle cx="1091.6" cy="886.0" r="1.85"/><circle cx="1093.5" cy="898.2" r="1.85"/><circle cx="1094.5" cy="903.5" r="1.85"/><circle cx="1126.0" cy="910.8" r="1.85"/><circle cx="1133.5" cy="929.9" r="1.85"/><circle cx="1130.4" cy="910.3" r="1.85"/><circle cx="1089.1" cy="924.2" r="1.85"/><circle cx="1087.4" cy="903.3" r="1.85"/><circle cx="1131.6" cy="929.9" r="1.85"/><circle cx="1107.3" cy="917.9" r="1.85"/><circle cx="1122.3" cy="897.2" r="1.85"/><circle cx="1100.6" cy="893.1" r="1.85"/><circle cx="1107.5" cy="920.6" r="1.85"/><circle cx="1109.9" cy="924.0" r="1.85"/><circle cx="1105.7" cy="900.5" r="1.85"/><circle cx="1114.2" cy="900.8" r="1.85"/><circle cx="1085.0" cy="918.7" r="1.85"/><circle cx="1119.1" cy="915.8" r="1.85"/><circle cx="1126.3" cy="915.8" r="1.85"/><circle cx="1093.3" cy="920.6" r="1.85"/><circle cx="1106.9" cy="915.7" r="1.85"/><circle cx="1121.0" cy="896.9" r="1.85"/><circle cx="1104.5" cy="902.4" r="1.85"/><circle cx="1094.0" cy="889.1" r="1.85"/><circle cx="1092.5" cy="909.9" r="1.85"/><circle cx="1109.8" cy="910.4" r="1.85"/><circle cx="1085.1" cy="918.6" r="1.85"/><circle cx="1128.7" cy="910.3" r="1.85"/><circle cx="1124.1" cy="921.8" r="1.85"/><circle cx="1119.3" cy="926.4" r="1.85"/><circle cx="1127.1" cy="902.3" r="1.85"/><circle cx="1115.6" cy="895.1" r="1.85"/><circle cx="1104.4" cy="900.9" r="1.85"/><circle cx="1114.1" cy="896.1" r="1.85"/><circle cx="1109.4" cy="906.6" r="1.85"/><circle cx="1133.1" cy="916.1" r="1.85"/><circle cx="1124.3" cy="908.2" r="1.85"/><circle cx="1097.2" cy="912.7" r="1.85"/><circle cx="1129.6" cy="919.9" r="1.85"/><circle cx="1121.3" cy="925.5" r="1.85"/><circle cx="1123.0" cy="923.5" r="1.85"/><circle cx="1124.8" cy="909.1" r="1.85"/><circle cx="1104.5" cy="907.6" r="1.85"/><circle cx="1128.8" cy="913.7" r="1.85"/><circle cx="1128.0" cy="895.2" r="1.85"/><circle cx="1118.8" cy="907.3" r="1.85"/><circle cx="1122.4" cy="903.4" r="1.85"/><circle cx="1122.3" cy="897.2" r="1.85"/><circle cx="1104.5" cy="917.1" r="1.85"/><circle cx="1120.2" cy="928.2" r="1.85"/><circle cx="1087.9" cy="901.8" r="1.85"/><circle cx="1101.3" cy="915.8" r="1.85"/><circle cx="1107.6" cy="896.3" r="1.85"/><circle cx="1084.9" cy="905.8" r="1.85"/><circle cx="1102.0" cy="899.3" r="1.85"/><circle cx="1116.0" cy="901.6" r="1.85"/><circle cx="1115.3" cy="929.3" r="1.85"/><circle cx="1095.9" cy="902.1" r="1.85"/><circle cx="1131.2" cy="915.6" r="1.85"/><circle cx="1117.4" cy="916.4" r="1.85"/><circle cx="1101.1" cy="913.3" r="1.85"/><circle cx="1117.1" cy="901.6" r="1.85"/><circle cx="1112.6" cy="900.5" r="1.85"/><circle cx="1110.8" cy="899.2" r="1.85"/><circle cx="1103.7" cy="925.2" r="1.85"/><circle cx="1134.0" cy="914.8" r="1.85"/><circle cx="1116.2" cy="932.2" r="1.85"/><circle cx="1119.2" cy="910.1" r="1.85"/><circle cx="1122.2" cy="903.2" r="1.85"/><circle cx="1133.0" cy="916.5" r="1.85"/><circle cx="1085.5" cy="906.7" r="1.85"/><circle cx="1114.9" cy="906.8" r="1.85"/><circle cx="1121.0" cy="899.3" r="1.85"/><circle cx="1097.1" cy="917.1" r="1.85"/><circle cx="1104.3" cy="917.1" r="1.85"/><circle cx="1086.9" cy="916.5" r="1.85"/><circle cx="1094.0" cy="892.0" r="1.85"/><circle cx="1103.0" cy="898.5" r="1.85"/><circle cx="1089.2" cy="910.3" r="1.85"/><circle cx="1096.8" cy="906.9" r="1.85"/><circle cx="1129.3" cy="908.0" r="1.85"/><circle cx="1111.6" cy="907.1" r="1.85"/><circle cx="1109.6" cy="911.1" r="1.85"/><circle cx="1132.3" cy="912.3" r="1.85"/><circle cx="1112.5" cy="921.3" r="1.85"/><circle cx="1133.7" cy="915.3" r="1.85"/><circle cx="1116.0" cy="893.0" r="1.85"/><circle cx="1124.5" cy="903.9" r="1.85"/><circle cx="1088.1" cy="908.4" r="1.85"/><circle cx="1114.0" cy="911.2" r="1.85"/><circle cx="1122.0" cy="908.5" r="1.85"/><circle cx="1086.6" cy="905.6" r="1.85"/><circle cx="1130.5" cy="915.4" r="1.85"/><circle cx="1092.3" cy="907.2" r="1.85"/><circle cx="1107.8" cy="906.7" r="1.85"/><circle cx="1092.7" cy="916.4" r="1.85"/><circle cx="1108.9" cy="916.8" r="1.85"/><circle cx="1114.7" cy="918.8" r="1.85"/><circle cx="1087.3" cy="919.4" r="1.85"/><circle cx="1131.3" cy="900.4" r="1.85"/><circle cx="1105.2" cy="932.0" r="1.85"/><circle cx="1110.5" cy="911.7" r="1.85"/><circle cx="1114.0" cy="915.0" r="1.85"/><circle cx="1102.5" cy="915.1" r="1.85"/><circle cx="1098.5" cy="908.1" r="1.85"/><circle cx="1116.9" cy="898.1" r="1.85"/><circle cx="1112.2" cy="908.3" r="1.85"/><circle cx="1098.4" cy="910.4" r="1.85"/><circle cx="1119.9" cy="915.0" r="1.85"/><circle cx="1099.0" cy="910.3" r="1.85"/><circle cx="1085.0" cy="900.2" r="1.85"/><circle cx="1096.5" cy="912.9" r="1.85"/><circle cx="1086.5" cy="920.2" r="1.85"/><circle cx="1092.1" cy="921.4" r="1.85"/><circle cx="1121.8" cy="919.8" r="1.85"/><circle cx="1103.7" cy="922.6" r="1.85"/><circle cx="1128.9" cy="898.4" r="1.85"/><circle cx="1087.7" cy="937.0" r="1.85"/><circle cx="1094.9" cy="934.0" r="1.85"/><circle cx="1107.2" cy="882.3" r="1.85"/><circle cx="1106.6" cy="886.6" r="1.85"/><circle cx="1119.7" cy="884.8" r="1.85"/><circle cx="1086.1" cy="885.4" r="1.85"/><circle cx="1121.5" cy="932.2" r="1.85"/><circle cx="1086.8" cy="929.1" r="1.85"/></g>
<g fill="#ff4600"><circle cx="1178.4" cy="889.1" r="1.85"/><circle cx="1169.2" cy="907.9" r="1.85"/><circle cx="1176.4" cy="892.5" r="1.85"/><circle cx="1148.9" cy="899.6" r="1.85"/><circle cx="1159.3" cy="914.2" r="1.85"/><circle cx="1151.1" cy="903.1" r="1.85"/><circle cx="1178.5" cy="901.3" r="1.85"/><circle cx="1156.6" cy="907.6" r="1.85"/><circle cx="1170.7" cy="923.6" r="1.85"/><circle cx="1187.4" cy="909.2" r="1.85"/><circle cx="1154.4" cy="908.0" r="1.85"/><circle cx="1165.5" cy="914.7" r="1.85"/><circle cx="1175.3" cy="893.3" r="1.85"/><circle cx="1184.0" cy="908.4" r="1.85"/><circle cx="1159.5" cy="909.5" r="1.85"/><circle cx="1156.6" cy="908.8" r="1.85"/><circle cx="1143.1" cy="912.4" r="1.85"/><circle cx="1181.7" cy="912.3" r="1.85"/><circle cx="1142.2" cy="906.0" r="1.85"/><circle cx="1142.4" cy="904.4" r="1.85"/><circle cx="1166.3" cy="910.3" r="1.85"/><circle cx="1162.3" cy="907.3" r="1.85"/><circle cx="1172.3" cy="916.8" r="1.85"/><circle cx="1153.1" cy="902.8" r="1.85"/><circle cx="1176.8" cy="912.1" r="1.85"/><circle cx="1142.1" cy="905.1" r="1.85"/><circle cx="1148.9" cy="913.3" r="1.85"/><circle cx="1171.1" cy="910.4" r="1.85"/><circle cx="1142.3" cy="905.1" r="1.85"/><circle cx="1153.4" cy="915.5" r="1.85"/><circle cx="1174.3" cy="888.6" r="1.85"/><circle cx="1172.7" cy="906.9" r="1.85"/><circle cx="1152.3" cy="907.2" r="1.85"/><circle cx="1145.4" cy="912.0" r="1.85"/><circle cx="1156.0" cy="895.0" r="1.85"/><circle cx="1174.3" cy="896.5" r="1.85"/><circle cx="1156.5" cy="904.5" r="1.85"/><circle cx="1144.1" cy="916.6" r="1.85"/><circle cx="1173.5" cy="910.3" r="1.85"/><circle cx="1166.5" cy="902.2" r="1.85"/><circle cx="1183.9" cy="910.4" r="1.85"/><circle cx="1184.9" cy="915.3" r="1.85"/><circle cx="1183.6" cy="915.3" r="1.85"/><circle cx="1160.0" cy="912.3" r="1.85"/><circle cx="1178.1" cy="906.5" r="1.85"/><circle cx="1153.4" cy="911.4" r="1.85"/><circle cx="1154.0" cy="906.5" r="1.85"/><circle cx="1158.1" cy="886.3" r="1.85"/><circle cx="1184.7" cy="893.7" r="1.85"/><circle cx="1182.7" cy="914.2" r="1.85"/><circle cx="1150.6" cy="904.1" r="1.85"/><circle cx="1156.2" cy="906.0" r="1.85"/><circle cx="1156.4" cy="907.7" r="1.85"/><circle cx="1156.3" cy="899.0" r="1.85"/><circle cx="1157.9" cy="909.1" r="1.85"/><circle cx="1157.5" cy="909.0" r="1.85"/><circle cx="1148.0" cy="909.4" r="1.85"/><circle cx="1166.3" cy="907.4" r="1.85"/><circle cx="1177.8" cy="897.3" r="1.85"/><circle cx="1165.1" cy="901.0" r="1.85"/><circle cx="1179.8" cy="916.4" r="1.85"/><circle cx="1166.2" cy="909.9" r="1.85"/><circle cx="1147.0" cy="912.5" r="1.85"/><circle cx="1175.9" cy="900.7" r="1.85"/><circle cx="1182.0" cy="905.0" r="1.85"/><circle cx="1152.2" cy="900.2" r="1.85"/><circle cx="1139.4" cy="907.1" r="1.85"/><circle cx="1163.9" cy="920.6" r="1.85"/><circle cx="1165.3" cy="903.4" r="1.85"/><circle cx="1166.4" cy="905.0" r="1.85"/><circle cx="1145.6" cy="886.9" r="1.85"/><circle cx="1154.3" cy="929.1" r="1.85"/><circle cx="1175.4" cy="928.5" r="1.85"/></g>
<g fill="#ff8b00"><circle cx="1203.9" cy="896.3" r="1.85"/><circle cx="1227.8" cy="908.9" r="1.85"/><circle cx="1221.7" cy="905.8" r="1.85"/><circle cx="1203.3" cy="909.1" r="1.85"/><circle cx="1201.4" cy="918.9" r="1.85"/><circle cx="1206.2" cy="910.4" r="1.85"/><circle cx="1200.8" cy="904.0" r="1.85"/><circle cx="1229.8" cy="905.1" r="1.85"/><circle cx="1207.7" cy="907.9" r="1.85"/><circle cx="1219.4" cy="922.2" r="1.85"/><circle cx="1232.8" cy="897.7" r="1.85"/><circle cx="1216.0" cy="901.4" r="1.85"/><circle cx="1205.1" cy="899.2" r="1.85"/><circle cx="1236.3" cy="897.2" r="1.85"/><circle cx="1237.6" cy="909.9" r="1.85"/><circle cx="1209.2" cy="911.1" r="1.85"/><circle cx="1219.4" cy="904.4" r="1.85"/><circle cx="1239.7" cy="894.4" r="1.85"/><circle cx="1216.2" cy="918.9" r="1.85"/><circle cx="1203.2" cy="908.3" r="1.85"/><circle cx="1194.7" cy="911.9" r="1.85"/><circle cx="1239.2" cy="902.6" r="1.85"/><circle cx="1232.0" cy="896.0" r="1.85"/><circle cx="1211.3" cy="908.8" r="1.85"/><circle cx="1218.4" cy="915.7" r="1.85"/><circle cx="1217.8" cy="906.3" r="1.85"/><circle cx="1205.8" cy="908.7" r="1.85"/><circle cx="1241.4" cy="917.9" r="1.85"/><circle cx="1224.8" cy="900.2" r="1.85"/><circle cx="1204.0" cy="910.5" r="1.85"/><circle cx="1192.7" cy="901.7" r="1.85"/><circle cx="1215.7" cy="916.2" r="1.85"/><circle cx="1210.6" cy="898.6" r="1.85"/><circle cx="1231.8" cy="917.2" r="1.85"/><circle cx="1227.6" cy="899.0" r="1.85"/><circle cx="1222.3" cy="919.9" r="1.85"/><circle cx="1200.0" cy="896.6" r="1.85"/><circle cx="1200.0" cy="909.4" r="1.85"/><circle cx="1208.2" cy="918.0" r="1.85"/><circle cx="1205.1" cy="908.4" r="1.85"/><circle cx="1235.3" cy="904.2" r="1.85"/><circle cx="1217.8" cy="913.9" r="1.85"/><circle cx="1223.8" cy="910.2" r="1.85"/><circle cx="1241.5" cy="904.7" r="1.85"/><circle cx="1205.4" cy="907.9" r="1.85"/><circle cx="1218.7" cy="929.0" r="1.85"/><circle cx="1199.7" cy="909.8" r="1.85"/><circle cx="1230.4" cy="903.5" r="1.85"/><circle cx="1192.3" cy="904.5" r="1.85"/><circle cx="1233.0" cy="899.3" r="1.85"/><circle cx="1234.2" cy="911.7" r="1.85"/><circle cx="1233.0" cy="888.0" r="1.85"/><circle cx="1196.3" cy="900.8" r="1.85"/><circle cx="1205.6" cy="904.4" r="1.85"/><circle cx="1227.8" cy="898.7" r="1.85"/><circle cx="1197.0" cy="899.7" r="1.85"/><circle cx="1216.0" cy="905.9" r="1.85"/><circle cx="1215.5" cy="911.2" r="1.85"/><circle cx="1239.6" cy="899.2" r="1.85"/><circle cx="1221.3" cy="903.6" r="1.85"/><circle cx="1234.8" cy="920.5" r="1.85"/><circle cx="1207.3" cy="914.7" r="1.85"/><circle cx="1231.4" cy="903.2" r="1.85"/><circle cx="1212.9" cy="905.9" r="1.85"/><circle cx="1237.7" cy="904.6" r="1.85"/><circle cx="1202.7" cy="886.9" r="1.85"/><circle cx="1204.6" cy="934.0" r="1.85"/><circle cx="1208.9" cy="929.1" r="1.85"/><circle cx="1234.6" cy="887.8" r="1.85"/></g>
<g fill="#ffd100"><circle cx="1274.1" cy="902.0" r="1.85"/><circle cx="1282.1" cy="895.2" r="1.85"/><circle cx="1262.6" cy="899.3" r="1.85"/><circle cx="1287.2" cy="904.3" r="1.85"/><circle cx="1250.7" cy="897.8" r="1.85"/><circle cx="1253.1" cy="910.9" r="1.85"/><circle cx="1250.8" cy="907.3" r="1.85"/><circle cx="1279.8" cy="903.5" r="1.85"/><circle cx="1281.3" cy="912.1" r="1.85"/><circle cx="1255.1" cy="907.7" r="1.85"/><circle cx="1266.1" cy="904.0" r="1.85"/><circle cx="1287.7" cy="909.5" r="1.85"/><circle cx="1275.6" cy="899.0" r="1.85"/><circle cx="1250.6" cy="908.1" r="1.85"/><circle cx="1257.4" cy="913.4" r="1.85"/><circle cx="1253.9" cy="908.0" r="1.85"/><circle cx="1252.3" cy="909.8" r="1.85"/><circle cx="1266.3" cy="913.0" r="1.85"/><circle cx="1249.7" cy="901.6" r="1.85"/><circle cx="1291.8" cy="893.2" r="1.85"/><circle cx="1267.3" cy="909.5" r="1.85"/><circle cx="1271.5" cy="907.3" r="1.85"/><circle cx="1278.3" cy="907.6" r="1.85"/><circle cx="1284.2" cy="914.9" r="1.85"/><circle cx="1286.9" cy="898.6" r="1.85"/><circle cx="1265.3" cy="905.9" r="1.85"/><circle cx="1262.6" cy="897.3" r="1.85"/><circle cx="1266.6" cy="907.7" r="1.85"/><circle cx="1246.9" cy="906.4" r="1.85"/><circle cx="1266.0" cy="893.6" r="1.85"/><circle cx="1280.9" cy="907.3" r="1.85"/><circle cx="1294.9" cy="903.9" r="1.85"/><circle cx="1285.3" cy="896.9" r="1.85"/><circle cx="1278.9" cy="908.4" r="1.85"/><circle cx="1276.3" cy="899.8" r="1.85"/><circle cx="1247.1" cy="912.6" r="1.85"/><circle cx="1262.6" cy="908.2" r="1.85"/><circle cx="1263.1" cy="910.4" r="1.85"/><circle cx="1278.4" cy="900.4" r="1.85"/><circle cx="1251.4" cy="909.5" r="1.85"/><circle cx="1264.9" cy="911.5" r="1.85"/><circle cx="1271.4" cy="903.0" r="1.85"/><circle cx="1285.3" cy="895.4" r="1.85"/><circle cx="1287.1" cy="915.1" r="1.85"/><circle cx="1276.5" cy="891.2" r="1.85"/><circle cx="1254.0" cy="892.7" r="1.85"/></g>
<g fill="#e8ff00"><circle cx="1328.5" cy="906.1" r="1.85"/><circle cx="1341.3" cy="924.8" r="1.85"/><circle cx="1309.3" cy="914.9" r="1.85"/><circle cx="1327.3" cy="910.1" r="1.85"/><circle cx="1303.9" cy="912.2" r="1.85"/><circle cx="1301.7" cy="907.9" r="1.85"/><circle cx="1309.0" cy="913.2" r="1.85"/><circle cx="1349.1" cy="930.5" r="1.85"/><circle cx="1346.7" cy="920.3" r="1.85"/><circle cx="1332.7" cy="909.1" r="1.85"/><circle cx="1315.3" cy="905.2" r="1.85"/><circle cx="1333.4" cy="912.4" r="1.85"/><circle cx="1336.7" cy="897.4" r="1.85"/><circle cx="1319.0" cy="911.6" r="1.85"/><circle cx="1329.4" cy="906.8" r="1.85"/><circle cx="1340.0" cy="904.7" r="1.85"/><circle cx="1300.9" cy="907.5" r="1.85"/><circle cx="1310.0" cy="897.5" r="1.85"/><circle cx="1323.3" cy="910.2" r="1.85"/><circle cx="1307.2" cy="914.5" r="1.85"/><circle cx="1319.2" cy="901.1" r="1.85"/><circle cx="1328.3" cy="911.1" r="1.85"/><circle cx="1308.7" cy="911.8" r="1.85"/><circle cx="1325.9" cy="906.9" r="1.85"/><circle cx="1313.2" cy="903.7" r="1.85"/><circle cx="1328.3" cy="908.6" r="1.85"/><circle cx="1316.5" cy="899.7" r="1.85"/><circle cx="1331.9" cy="913.5" r="1.85"/><circle cx="1301.9" cy="917.3" r="1.85"/><circle cx="1333.4" cy="911.6" r="1.85"/><circle cx="1307.3" cy="909.4" r="1.85"/><circle cx="1347.7" cy="890.6" r="1.85"/><circle cx="1329.8" cy="893.3" r="1.85"/><circle cx="1323.4" cy="908.6" r="1.85"/><circle cx="1320.5" cy="911.1" r="1.85"/><circle cx="1331.0" cy="910.3" r="1.85"/><circle cx="1334.3" cy="904.9" r="1.85"/><circle cx="1337.7" cy="913.7" r="1.85"/><circle cx="1337.4" cy="903.2" r="1.85"/><circle cx="1324.2" cy="911.4" r="1.85"/><circle cx="1310.5" cy="934.0" r="1.85"/><circle cx="1299.7" cy="927.9" r="1.85"/></g>
<g fill="#a2ff00"><circle cx="1403.4" cy="895.8" r="1.85"/><circle cx="1364.0" cy="911.4" r="1.85"/><circle cx="1385.4" cy="905.9" r="1.85"/><circle cx="1363.5" cy="917.3" r="1.85"/><circle cx="1397.7" cy="920.2" r="1.85"/><circle cx="1356.5" cy="906.8" r="1.85"/><circle cx="1359.3" cy="902.9" r="1.85"/><circle cx="1390.0" cy="916.3" r="1.85"/><circle cx="1369.5" cy="919.2" r="1.85"/><circle cx="1398.7" cy="912.2" r="1.85"/><circle cx="1397.2" cy="905.2" r="1.85"/><circle cx="1389.4" cy="914.8" r="1.85"/><circle cx="1360.7" cy="898.9" r="1.85"/><circle cx="1388.5" cy="906.6" r="1.85"/><circle cx="1400.5" cy="900.5" r="1.85"/><circle cx="1376.1" cy="918.4" r="1.85"/><circle cx="1357.9" cy="921.7" r="1.85"/><circle cx="1365.1" cy="918.5" r="1.85"/><circle cx="1369.2" cy="914.5" r="1.85"/><circle cx="1389.3" cy="900.9" r="1.85"/><circle cx="1363.7" cy="907.2" r="1.85"/><circle cx="1363.0" cy="909.2" r="1.85"/><circle cx="1365.7" cy="919.7" r="1.85"/><circle cx="1387.0" cy="907.8" r="1.85"/><circle cx="1393.2" cy="913.0" r="1.85"/><circle cx="1372.5" cy="909.3" r="1.85"/><circle cx="1386.9" cy="914.2" r="1.85"/><circle cx="1397.9" cy="920.0" r="1.85"/><circle cx="1383.3" cy="910.4" r="1.85"/><circle cx="1365.4" cy="904.2" r="1.85"/><circle cx="1368.9" cy="915.5" r="1.85"/><circle cx="1400.0" cy="907.4" r="1.85"/><circle cx="1387.1" cy="895.1" r="1.85"/><circle cx="1367.7" cy="903.6" r="1.85"/><circle cx="1385.8" cy="899.5" r="1.85"/><circle cx="1358.5" cy="913.3" r="1.85"/><circle cx="1402.8" cy="905.4" r="1.85"/><circle cx="1375.9" cy="917.1" r="1.85"/><circle cx="1380.2" cy="909.0" r="1.85"/><circle cx="1380.3" cy="916.2" r="1.85"/><circle cx="1356.2" cy="911.1" r="1.85"/><circle cx="1383.8" cy="921.1" r="1.85"/><circle cx="1368.1" cy="907.9" r="1.85"/><circle cx="1366.4" cy="913.0" r="1.85"/><circle cx="1393.9" cy="909.8" r="1.85"/><circle cx="1358.3" cy="914.8" r="1.85"/><circle cx="1368.1" cy="929.8" r="1.85"/><circle cx="1391.5" cy="915.4" r="1.85"/><circle cx="1366.2" cy="905.0" r="1.85"/><circle cx="1367.8" cy="910.9" r="1.85"/><circle cx="1381.2" cy="913.0" r="1.85"/><circle cx="1363.2" cy="904.2" r="1.85"/><circle cx="1398.5" cy="895.4" r="1.85"/><circle cx="1403.0" cy="904.5" r="1.85"/><circle cx="1355.7" cy="907.7" r="1.85"/><circle cx="1376.9" cy="918.2" r="1.85"/><circle cx="1391.2" cy="917.4" r="1.85"/><circle cx="1373.1" cy="902.7" r="1.85"/><circle cx="1400.1" cy="909.0" r="1.85"/><circle cx="1378.8" cy="910.3" r="1.85"/><circle cx="1362.9" cy="905.5" r="1.85"/><circle cx="1381.6" cy="914.9" r="1.85"/><circle cx="1386.0" cy="929.3" r="1.85"/><circle cx="1371.8" cy="910.7" r="1.85"/><circle cx="1386.7" cy="902.0" r="1.85"/><circle cx="1392.9" cy="912.2" r="1.85"/><circle cx="1379.6" cy="909.1" r="1.85"/><circle cx="1379.1" cy="904.5" r="1.85"/><circle cx="1396.0" cy="896.0" r="1.85"/><circle cx="1388.0" cy="918.8" r="1.85"/><circle cx="1379.8" cy="905.8" r="1.85"/><circle cx="1401.2" cy="896.7" r="1.85"/><circle cx="1362.6" cy="916.3" r="1.85"/><circle cx="1392.7" cy="903.8" r="1.85"/><circle cx="1362.2" cy="903.2" r="1.85"/><circle cx="1377.7" cy="882.6" r="1.85"/><circle cx="1366.0" cy="928.5" r="1.85"/><circle cx="1370.5" cy="928.5" r="1.85"/></g>
<g fill="#5dff00"><circle cx="1415.2" cy="894.6" r="1.85"/><circle cx="1423.4" cy="912.0" r="1.85"/><circle cx="1410.0" cy="911.2" r="1.85"/><circle cx="1423.5" cy="919.6" r="1.85"/><circle cx="1438.8" cy="903.3" r="1.85"/><circle cx="1434.0" cy="904.9" r="1.85"/><circle cx="1421.1" cy="920.4" r="1.85"/><circle cx="1437.1" cy="907.1" r="1.85"/><circle cx="1412.3" cy="899.4" r="1.85"/><circle cx="1448.7" cy="906.1" r="1.85"/><circle cx="1416.4" cy="898.4" r="1.85"/><circle cx="1420.6" cy="909.8" r="1.85"/><circle cx="1415.9" cy="907.8" r="1.85"/><circle cx="1442.2" cy="917.3" r="1.85"/><circle cx="1449.2" cy="914.5" r="1.85"/><circle cx="1447.0" cy="921.2" r="1.85"/><circle cx="1411.0" cy="914.4" r="1.85"/><circle cx="1428.3" cy="906.1" r="1.85"/><circle cx="1426.0" cy="904.1" r="1.85"/><circle cx="1418.7" cy="899.4" r="1.85"/><circle cx="1456.1" cy="906.9" r="1.85"/><circle cx="1410.0" cy="915.1" r="1.85"/><circle cx="1432.2" cy="904.7" r="1.85"/><circle cx="1445.7" cy="908.9" r="1.85"/><circle cx="1456.9" cy="894.8" r="1.85"/><circle cx="1415.1" cy="893.6" r="1.85"/><circle cx="1430.5" cy="900.9" r="1.85"/><circle cx="1444.9" cy="916.2" r="1.85"/><circle cx="1409.9" cy="911.7" r="1.85"/><circle cx="1419.9" cy="906.5" r="1.85"/><circle cx="1452.1" cy="888.4" r="1.85"/><circle cx="1415.0" cy="889.6" r="1.85"/></g>
<g fill="#17ff00"><circle cx="1504.7" cy="913.1" r="1.85"/><circle cx="1472.0" cy="912.7" r="1.85"/><circle cx="1480.9" cy="904.0" r="1.85"/><circle cx="1465.5" cy="910.4" r="1.85"/><circle cx="1496.2" cy="906.5" r="1.85"/><circle cx="1479.9" cy="886.0" r="1.85"/><circle cx="1475.5" cy="902.7" r="1.85"/><circle cx="1462.8" cy="906.9" r="1.85"/><circle cx="1470.9" cy="919.7" r="1.85"/><circle cx="1474.9" cy="907.2" r="1.85"/><circle cx="1481.4" cy="902.3" r="1.85"/><circle cx="1507.7" cy="913.0" r="1.85"/><circle cx="1497.4" cy="909.6" r="1.85"/><circle cx="1475.2" cy="924.3" r="1.85"/><circle cx="1479.8" cy="903.8" r="1.85"/><circle cx="1469.5" cy="912.2" r="1.85"/><circle cx="1508.3" cy="902.9" r="1.85"/><circle cx="1479.7" cy="897.9" r="1.85"/><circle cx="1499.9" cy="909.0" r="1.85"/><circle cx="1497.8" cy="900.7" r="1.85"/><circle cx="1506.9" cy="906.0" r="1.85"/><circle cx="1462.9" cy="909.4" r="1.85"/><circle cx="1477.8" cy="909.9" r="1.85"/><circle cx="1480.9" cy="914.1" r="1.85"/><circle cx="1466.0" cy="898.5" r="1.85"/><circle cx="1505.6" cy="901.4" r="1.85"/><circle cx="1478.0" cy="915.2" r="1.85"/><circle cx="1500.1" cy="901.7" r="1.85"/><circle cx="1487.6" cy="913.2" r="1.85"/><circle cx="1464.6" cy="918.8" r="1.85"/><circle cx="1481.4" cy="899.1" r="1.85"/><circle cx="1473.7" cy="917.2" r="1.85"/><circle cx="1463.9" cy="899.2" r="1.85"/><circle cx="1469.3" cy="906.4" r="1.85"/><circle cx="1491.4" cy="901.3" r="1.85"/><circle cx="1463.4" cy="904.1" r="1.85"/><circle cx="1477.4" cy="899.4" r="1.85"/><circle cx="1482.9" cy="905.3" r="1.85"/><circle cx="1488.9" cy="903.6" r="1.85"/><circle cx="1468.6" cy="906.0" r="1.85"/><circle cx="1496.9" cy="899.9" r="1.85"/><circle cx="1474.8" cy="910.7" r="1.85"/><circle cx="1497.9" cy="900.4" r="1.85"/><circle cx="1494.9" cy="896.9" r="1.85"/><circle cx="1469.2" cy="908.3" r="1.85"/><circle cx="1472.0" cy="884.8" r="1.85"/><circle cx="1475.8" cy="927.3" r="1.85"/></g>
<g fill="#00ff2e"><circle cx="1535.9" cy="912.8" r="1.85"/><circle cx="1518.5" cy="918.7" r="1.85"/><circle cx="1540.4" cy="922.9" r="1.85"/><circle cx="1544.9" cy="900.5" r="1.85"/><circle cx="1539.1" cy="909.9" r="1.85"/><circle cx="1531.9" cy="904.4" r="1.85"/><circle cx="1528.4" cy="914.0" r="1.85"/><circle cx="1517.0" cy="906.3" r="1.85"/><circle cx="1533.0" cy="909.2" r="1.85"/><circle cx="1560.0" cy="910.5" r="1.85"/><circle cx="1543.9" cy="917.9" r="1.85"/><circle cx="1528.8" cy="918.4" r="1.85"/><circle cx="1548.9" cy="903.1" r="1.85"/><circle cx="1525.0" cy="931.0" r="1.85"/><circle cx="1539.1" cy="914.4" r="1.85"/><circle cx="1546.3" cy="899.7" r="1.85"/><circle cx="1563.2" cy="906.1" r="1.85"/><circle cx="1533.8" cy="913.6" r="1.85"/><circle cx="1544.4" cy="915.3" r="1.85"/><circle cx="1562.6" cy="921.8" r="1.85"/><circle cx="1554.1" cy="895.6" r="1.85"/><circle cx="1546.9" cy="915.3" r="1.85"/><circle cx="1546.6" cy="909.8" r="1.85"/><circle cx="1536.2" cy="899.8" r="1.85"/><circle cx="1536.4" cy="903.8" r="1.85"/><circle cx="1529.5" cy="906.4" r="1.85"/><circle cx="1557.0" cy="913.1" r="1.85"/><circle cx="1559.4" cy="909.2" r="1.85"/><circle cx="1534.7" cy="916.1" r="1.85"/><circle cx="1560.9" cy="906.2" r="1.85"/><circle cx="1517.7" cy="917.3" r="1.85"/><circle cx="1522.5" cy="910.8" r="1.85"/><circle cx="1541.0" cy="906.5" r="1.85"/><circle cx="1531.1" cy="904.2" r="1.85"/><circle cx="1533.7" cy="915.6" r="1.85"/><circle cx="1564.3" cy="910.2" r="1.85"/><circle cx="1523.2" cy="913.9" r="1.85"/><circle cx="1525.3" cy="915.9" r="1.85"/><circle cx="1527.1" cy="904.9" r="1.85"/><circle cx="1549.5" cy="906.9" r="1.85"/><circle cx="1527.4" cy="914.9" r="1.85"/><circle cx="1515.8" cy="908.8" r="1.85"/><circle cx="1542.8" cy="921.6" r="1.85"/><circle cx="1535.3" cy="917.0" r="1.85"/><circle cx="1527.7" cy="922.5" r="1.85"/><circle cx="1540.3" cy="914.9" r="1.85"/><circle cx="1548.1" cy="903.1" r="1.85"/><circle cx="1543.0" cy="909.8" r="1.85"/><circle cx="1546.8" cy="912.8" r="1.85"/><circle cx="1543.6" cy="908.8" r="1.85"/><circle cx="1542.9" cy="882.6" r="1.85"/><circle cx="1544.5" cy="884.1" r="1.85"/><circle cx="1537.9" cy="928.5" r="1.85"/><circle cx="1540.5" cy="928.5" r="1.85"/></g>
<g fill="#00ff74"><circle cx="1596.2" cy="898.5" r="1.85"/><circle cx="1581.5" cy="924.6" r="1.85"/><circle cx="1582.1" cy="911.2" r="1.85"/><circle cx="1585.8" cy="902.0" r="1.85"/><circle cx="1578.5" cy="903.1" r="1.85"/><circle cx="1595.2" cy="912.0" r="1.85"/><circle cx="1576.0" cy="910.2" r="1.85"/><circle cx="1572.9" cy="918.9" r="1.85"/><circle cx="1573.1" cy="915.2" r="1.85"/><circle cx="1574.8" cy="925.2" r="1.85"/><circle cx="1604.7" cy="905.9" r="1.85"/><circle cx="1575.3" cy="911.7" r="1.85"/><circle cx="1592.1" cy="914.0" r="1.85"/><circle cx="1608.0" cy="913.7" r="1.85"/><circle cx="1593.6" cy="914.3" r="1.85"/><circle cx="1577.8" cy="910.6" r="1.85"/><circle cx="1612.7" cy="910.6" r="1.85"/><circle cx="1612.9" cy="896.0" r="1.85"/><circle cx="1572.4" cy="888.4" r="1.85"/></g>
<g fill="#00ffb9"><circle cx="1637.7" cy="915.4" r="1.85"/><circle cx="1643.1" cy="906.5" r="1.85"/><circle cx="1654.3" cy="913.1" r="1.85"/><circle cx="1661.6" cy="922.1" r="1.85"/><circle cx="1672.3" cy="916.3" r="1.85"/><circle cx="1643.0" cy="920.6" r="1.85"/><circle cx="1658.1" cy="916.5" r="1.85"/><circle cx="1650.7" cy="921.5" r="1.85"/><circle cx="1663.4" cy="921.3" r="1.85"/><circle cx="1630.9" cy="904.5" r="1.85"/><circle cx="1632.3" cy="907.6" r="1.85"/><circle cx="1629.0" cy="926.6" r="1.85"/><circle cx="1670.0" cy="922.1" r="1.85"/><circle cx="1636.1" cy="918.3" r="1.85"/><circle cx="1647.9" cy="917.9" r="1.85"/><circle cx="1629.6" cy="925.0" r="1.85"/><circle cx="1639.7" cy="908.8" r="1.85"/><circle cx="1624.6" cy="926.6" r="1.85"/><circle cx="1651.7" cy="910.1" r="1.85"/><circle cx="1630.8" cy="910.1" r="1.85"/><circle cx="1654.7" cy="917.7" r="1.85"/><circle cx="1637.2" cy="919.8" r="1.85"/><circle cx="1634.9" cy="914.7" r="1.85"/><circle cx="1647.6" cy="914.0" r="1.85"/><circle cx="1641.8" cy="930.1" r="1.85"/><circle cx="1636.5" cy="924.0" r="1.85"/><circle cx="1626.2" cy="911.3" r="1.85"/><circle cx="1626.8" cy="915.9" r="1.85"/><circle cx="1667.9" cy="918.1" r="1.85"/><circle cx="1639.0" cy="922.2" r="1.85"/><circle cx="1627.5" cy="920.1" r="1.85"/><circle cx="1632.7" cy="920.5" r="1.85"/><circle cx="1647.6" cy="895.2" r="1.85"/><circle cx="1673.1" cy="924.0" r="1.85"/><circle cx="1633.7" cy="904.2" r="1.85"/><circle cx="1666.7" cy="911.7" r="1.85"/><circle cx="1647.7" cy="913.6" r="1.85"/><circle cx="1644.2" cy="913.7" r="1.85"/><circle cx="1663.7" cy="917.8" r="1.85"/><circle cx="1643.3" cy="903.6" r="1.85"/><circle cx="1626.5" cy="911.5" r="1.85"/><circle cx="1651.0" cy="915.3" r="1.85"/><circle cx="1656.2" cy="916.0" r="1.85"/><circle cx="1654.6" cy="913.7" r="1.85"/><circle cx="1637.4" cy="923.2" r="1.85"/><circle cx="1670.2" cy="917.4" r="1.85"/><circle cx="1666.6" cy="919.5" r="1.85"/><circle cx="1673.0" cy="910.7" r="1.85"/><circle cx="1645.6" cy="910.8" r="1.85"/><circle cx="1665.0" cy="928.4" r="1.85"/><circle cx="1648.8" cy="882.6" r="1.85"/><circle cx="1643.5" cy="928.5" r="1.85"/><circle cx="1646.0" cy="928.5" r="1.85"/></g>
<g fill="#00ffff"><circle cx="1687.7" cy="917.7" r="1.85"/><circle cx="1721.3" cy="921.5" r="1.85"/><circle cx="1693.5" cy="912.6" r="1.85"/><circle cx="1715.0" cy="916.2" r="1.85"/><circle cx="1683.0" cy="914.9" r="1.85"/><circle cx="1726.6" cy="915.0" r="1.85"/><circle cx="1698.9" cy="924.7" r="1.85"/><circle cx="1725.4" cy="907.5" r="1.85"/><circle cx="1688.5" cy="920.2" r="1.85"/><circle cx="1697.8" cy="908.8" r="1.85"/><circle cx="1712.6" cy="912.0" r="1.85"/><circle cx="1686.4" cy="916.7" r="1.85"/><circle cx="1691.1" cy="915.9" r="1.85"/><circle cx="1711.2" cy="917.3" r="1.85"/><circle cx="1724.6" cy="930.1" r="1.85"/><circle cx="1693.6" cy="919.2" r="1.85"/><circle cx="1686.7" cy="913.9" r="1.85"/><circle cx="1695.3" cy="928.5" r="1.85"/><circle cx="1726.7" cy="927.6" r="1.85"/><circle cx="1684.9" cy="909.2" r="1.85"/><circle cx="1709.1" cy="911.1" r="1.85"/><circle cx="1696.3" cy="928.0" r="1.85"/><circle cx="1709.5" cy="913.6" r="1.85"/><circle cx="1688.1" cy="917.3" r="1.85"/><circle cx="1708.2" cy="909.9" r="1.85"/><circle cx="1721.6" cy="919.3" r="1.85"/><circle cx="1720.1" cy="918.5" r="1.85"/><circle cx="1708.8" cy="922.3" r="1.85"/><circle cx="1702.6" cy="915.6" r="1.85"/><circle cx="1705.7" cy="917.8" r="1.85"/><circle cx="1683.2" cy="921.6" r="1.85"/><circle cx="1719.1" cy="919.4" r="1.85"/><circle cx="1711.8" cy="922.3" r="1.85"/><circle cx="1700.1" cy="912.5" r="1.85"/><circle cx="1710.6" cy="924.3" r="1.85"/><circle cx="1698.4" cy="928.1" r="1.85"/><circle cx="1696.7" cy="923.8" r="1.85"/><circle cx="1689.0" cy="909.2" r="1.85"/><circle cx="1707.4" cy="920.6" r="1.85"/><circle cx="1706.0" cy="912.3" r="1.85"/><circle cx="1703.1" cy="911.7" r="1.85"/><circle cx="1679.2" cy="920.6" r="1.85"/><circle cx="1708.7" cy="911.5" r="1.85"/><circle cx="1699.7" cy="913.3" r="1.85"/><circle cx="1707.0" cy="917.2" r="1.85"/><circle cx="1707.1" cy="922.0" r="1.85"/><circle cx="1723.8" cy="917.4" r="1.85"/><circle cx="1685.1" cy="926.1" r="1.85"/><circle cx="1700.8" cy="918.9" r="1.85"/><circle cx="1726.8" cy="921.1" r="1.85"/><circle cx="1714.2" cy="913.8" r="1.85"/><circle cx="1693.1" cy="914.5" r="1.85"/><circle cx="1714.1" cy="921.5" r="1.85"/><circle cx="1726.7" cy="910.7" r="1.85"/><circle cx="1697.5" cy="908.4" r="1.85"/><circle cx="1720.6" cy="916.5" r="1.85"/><circle cx="1683.9" cy="922.3" r="1.85"/><circle cx="1726.7" cy="913.3" r="1.85"/><circle cx="1701.9" cy="933.4" r="1.85"/><circle cx="1689.2" cy="921.1" r="1.85"/><circle cx="1680.8" cy="937.0" r="1.85"/><circle cx="1684.3" cy="934.0" r="1.85"/><circle cx="1695.0" cy="928.5" r="1.85"/><circle cx="1681.4" cy="896.9" r="1.85"/></g>
<g fill="#00baff"><circle cx="1735.2" cy="902.0" r="1.85"/><circle cx="1759.0" cy="920.2" r="1.85"/><circle cx="1770.6" cy="893.2" r="1.85"/><circle cx="1755.9" cy="915.6" r="1.85"/><circle cx="1743.5" cy="905.9" r="1.85"/><circle cx="1771.2" cy="919.5" r="1.85"/><circle cx="1773.9" cy="905.7" r="1.85"/><circle cx="1769.8" cy="909.2" r="1.85"/><circle cx="1758.8" cy="899.2" r="1.85"/><circle cx="1776.5" cy="919.6" r="1.85"/><circle cx="1771.0" cy="909.1" r="1.85"/><circle cx="1739.0" cy="892.5" r="1.85"/><circle cx="1749.7" cy="919.9" r="1.85"/><circle cx="1736.5" cy="905.9" r="1.85"/><circle cx="1733.3" cy="905.1" r="1.85"/><circle cx="1748.7" cy="913.6" r="1.85"/><circle cx="1774.4" cy="911.5" r="1.85"/><circle cx="1772.9" cy="896.2" r="1.85"/><circle cx="1731.5" cy="886.0" r="1.85"/><circle cx="1763.6" cy="884.8" r="1.85"/><circle cx="1767.1" cy="892.7" r="1.85"/></g>
<g fill="#0074ff"><circle cx="1800.8" cy="914.1" r="1.85"/><circle cx="1805.7" cy="914.4" r="1.85"/><circle cx="1792.7" cy="926.0" r="1.85"/><circle cx="1816.8" cy="909.4" r="1.85"/><circle cx="1806.5" cy="926.7" r="1.85"/><circle cx="1826.1" cy="925.8" r="1.85"/><circle cx="1805.7" cy="900.7" r="1.85"/><circle cx="1808.1" cy="909.1" r="1.85"/><circle cx="1810.6" cy="914.7" r="1.85"/><circle cx="1832.2" cy="908.7" r="1.85"/><circle cx="1802.6" cy="910.0" r="1.85"/><circle cx="1820.4" cy="923.8" r="1.85"/><circle cx="1797.1" cy="914.0" r="1.85"/><circle cx="1814.2" cy="908.4" r="1.85"/><circle cx="1799.6" cy="918.0" r="1.85"/><circle cx="1828.7" cy="916.5" r="1.85"/><circle cx="1799.7" cy="919.8" r="1.85"/><circle cx="1827.8" cy="912.5" r="1.85"/><circle cx="1819.0" cy="920.3" r="1.85"/><circle cx="1808.0" cy="920.6" r="1.85"/><circle cx="1831.8" cy="924.5" r="1.85"/><circle cx="1804.7" cy="922.6" r="1.85"/><circle cx="1822.3" cy="915.6" r="1.85"/><circle cx="1815.3" cy="914.1" r="1.85"/><circle cx="1807.7" cy="919.3" r="1.85"/><circle cx="1788.6" cy="923.4" r="1.85"/><circle cx="1806.2" cy="914.9" r="1.85"/><circle cx="1799.4" cy="914.8" r="1.85"/><circle cx="1807.3" cy="909.2" r="1.85"/><circle cx="1832.8" cy="920.0" r="1.85"/><circle cx="1800.0" cy="919.5" r="1.85"/><circle cx="1819.9" cy="913.8" r="1.85"/><circle cx="1818.8" cy="907.7" r="1.85"/><circle cx="1797.6" cy="917.3" r="1.85"/><circle cx="1805.9" cy="917.5" r="1.85"/><circle cx="1801.2" cy="928.5" r="1.85"/><circle cx="1803.5" cy="928.5" r="1.85"/></g>
<g fill="#002fff"><circle cx="1859.0" cy="919.7" r="1.85"/><circle cx="1880.5" cy="905.2" r="1.85"/><circle cx="1871.6" cy="904.4" r="1.85"/><circle cx="1874.2" cy="914.0" r="1.85"/><circle cx="1888.9" cy="907.6" r="1.85"/><circle cx="1842.7" cy="920.1" r="1.85"/><circle cx="1862.3" cy="904.5" r="1.85"/><circle cx="1859.3" cy="909.2" r="1.85"/><circle cx="1871.9" cy="920.5" r="1.85"/><circle cx="1850.2" cy="916.6" r="1.85"/><circle cx="1888.5" cy="914.7" r="1.85"/><circle cx="1849.8" cy="911.9" r="1.85"/><circle cx="1857.7" cy="915.5" r="1.85"/><circle cx="1846.5" cy="917.8" r="1.85"/><circle cx="1858.9" cy="909.5" r="1.85"/><circle cx="1876.2" cy="915.5" r="1.85"/><circle cx="1843.5" cy="922.9" r="1.85"/><circle cx="1847.6" cy="921.2" r="1.85"/><circle cx="1871.6" cy="903.1" r="1.85"/><circle cx="1870.3" cy="912.7" r="1.85"/><circle cx="1876.2" cy="914.4" r="1.85"/><circle cx="1851.9" cy="918.5" r="1.85"/><circle cx="1879.6" cy="919.0" r="1.85"/><circle cx="1875.6" cy="918.3" r="1.85"/><circle cx="1877.9" cy="908.7" r="1.85"/><circle cx="1845.3" cy="917.6" r="1.85"/><circle cx="1862.6" cy="905.6" r="1.85"/><circle cx="1840.1" cy="926.7" r="1.85"/><circle cx="1882.0" cy="923.9" r="1.85"/><circle cx="1886.2" cy="895.1" r="1.85"/><circle cx="1883.8" cy="900.6" r="1.85"/></g>
<g fill="#1700ff"><circle cx="1904.1" cy="916.7" r="1.85"/><circle cx="1915.7" cy="904.9" r="1.85"/><circle cx="1921.0" cy="911.5" r="1.85"/><circle cx="1916.1" cy="923.0" r="1.85"/><circle cx="1935.5" cy="915.1" r="1.85"/><circle cx="1898.5" cy="901.2" r="1.85"/><circle cx="1935.5" cy="903.1" r="1.85"/><circle cx="1901.0" cy="915.9" r="1.85"/><circle cx="1941.4" cy="903.1" r="1.85"/><circle cx="1919.3" cy="904.9" r="1.85"/><circle cx="1913.5" cy="904.9" r="1.85"/><circle cx="1923.7" cy="910.2" r="1.85"/><circle cx="1936.2" cy="910.1" r="1.85"/><circle cx="1941.1" cy="919.8" r="1.85"/><circle cx="1913.8" cy="913.3" r="1.85"/><circle cx="1893.8" cy="911.6" r="1.85"/><circle cx="1900.9" cy="919.0" r="1.85"/><circle cx="1933.9" cy="915.2" r="1.85"/><circle cx="1893.8" cy="937.0" r="1.85"/></g>
<g fill="#5c00ff"><circle cx="1949.5" cy="917.4" r="1.85"/><circle cx="1967.9" cy="918.9" r="1.85"/><circle cx="1951.1" cy="925.8" r="1.85"/><circle cx="1960.2" cy="914.9" r="1.85"/><circle cx="1952.8" cy="913.2" r="1.85"/><circle cx="1992.8" cy="915.9" r="1.85"/><circle cx="1963.5" cy="917.8" r="1.85"/><circle cx="1971.5" cy="922.2" r="1.85"/><circle cx="1979.7" cy="906.2" r="1.85"/><circle cx="1991.2" cy="924.1" r="1.85"/><circle cx="1961.0" cy="931.0" r="1.85"/><circle cx="1979.1" cy="939.5" r="1.85"/><circle cx="1956.5" cy="909.7" r="1.85"/><circle cx="1965.5" cy="909.7" r="1.85"/><circle cx="1997.0" cy="911.5" r="1.85"/></g>
</g>
<line x1="1082.2" y1="926.1" x2="1999" y2="926.1" stroke="#b4b4b4" stroke-width="2"/>
<line x1="1136.13" y1="842.7" x2="1136.13" y2="1040" stroke="#333" stroke-width="1.4"/>
<line x1="1190.06" y1="842.7" x2="1190.06" y2="1040" stroke="#333" stroke-width="1.4"/>
<line x1="1243.99" y1="842.7" x2="1243.99" y2="1040" stroke="#333" stroke-width="1.4"/>
<line x1="1297.92" y1="842.7" x2="1297.92" y2="1040" stroke="#333" stroke-width="1.4"/>
<line x1="1351.85" y1="842.7" x2="1351.85" y2="1040" stroke="#333" stroke-width="1.4"/>
<line x1="1405.78" y1="842.7" x2="1405.78" y2="1040" stroke="#333" stroke-width="1.4"/>
<line x1="1459.71" y1="842.7" x2="1459.71" y2="1040" stroke="#333" stroke-width="1.4"/>
<line x1="1513.64" y1="842.7" x2="1513.64" y2="1040" stroke="#333" stroke-width="1.4"/>
<line x1="1567.56" y1="842.7" x2="1567.56" y2="1040" stroke="#333" stroke-width="1.4"/>
<line x1="1621.49" y1="842.7" x2="1621.49" y2="1040" stroke="#333" stroke-width="1.4"/>
<line x1="1675.42" y1="842.7" x2="1675.42" y2="1040" stroke="#333" stroke-width="1.4"/>
<line x1="1729.35" y1="842.7" x2="1729.35" y2="1040" stroke="#333" stroke-width="1.4"/>
<line x1="1783.28" y1="842.7" x2="1783.28" y2="1040" stroke="#333" stroke-width="1.4"/>
<line x1="1837.21" y1="842.7" x2="1837.21" y2="1040" stroke="#333" stroke-width="1.4"/>
<line x1="1891.14" y1="842.7" x2="1891.14" y2="1040" stroke="#333" stroke-width="1.4"/>
<line x1="1945.07" y1="842.7" x2="1945.07" y2="1040" stroke="#333" stroke-width="1.4"/>
<rect x="1082.2" y="842.7" width="916.8" height="197.3" fill="none" stroke="#333" stroke-width="1.4"/>
<line x1="1075.4" y1="865.3" x2="1082.2" y2="865.3" stroke="#333" stroke-width="1.2"/>
<text x="1068.6" y="870.9" class="b" font-size="15.9" text-anchor="end" fill="#000">1.0</text>
<line x1="1075.4" y1="895.7" x2="1082.2" y2="895.7" stroke="#333" stroke-width="1.2"/>
<text x="1068.6" y="901.3" class="b" font-size="15.9" text-anchor="end" fill="#000">0.5</text>
<line x1="1075.4" y1="926.1" x2="1082.2" y2="926.1" stroke="#333" stroke-width="1.2"/>
<text x="1068.6" y="931.7" class="b" font-size="15.9" text-anchor="end" fill="#000">0.0</text>
<line x1="1075.4" y1="956.5" x2="1082.2" y2="956.5" stroke="#333" stroke-width="1.2"/>
<text x="1068.6" y="962.1" class="b" font-size="15.9" text-anchor="end" fill="#000">-0.5</text>
<line x1="1075.4" y1="986.9" x2="1082.2" y2="986.9" stroke="#333" stroke-width="1.2"/>
<text x="1068.6" y="992.5" class="b" font-size="15.9" text-anchor="end" fill="#000">-1.0</text>
<line x1="1075.4" y1="1017.3" x2="1082.2" y2="1017.3" stroke="#333" stroke-width="1.2"/>
<text x="1068.6" y="1022.9" class="b" font-size="15.9" text-anchor="end" fill="#000">-1.5</text>
<text x="1084.2" y="1020" font-size="13.3" fill="#000">FDR=</text>
<text x="1084.2" y="1036.2" font-size="13.3" fill="#000">2.8e-10</text>
<text x="1138.13" y="1020" font-size="13.3" fill="#000">FDR=</text>
<text x="1138.13" y="1036.2" font-size="13.3" fill="#000">2.8e-10</text>
<text x="1192.06" y="1020" font-size="13.3" fill="#000">FDR=</text>
<text x="1192.06" y="1036.2" font-size="13.3" fill="#000">2.8e-10</text>
<text x="1245.99" y="1020" font-size="13.3" fill="#000">FDR=</text>
<text x="1245.99" y="1036.2" font-size="13.3" fill="#000">2.8e-10</text>
<text x="1299.92" y="1020" font-size="13.3" fill="#000">FDR=</text>
<text x="1299.92" y="1036.2" font-size="13.3" fill="#000">2.8e-10</text>
<text x="1353.85" y="1020" font-size="13.3" fill="#000">FDR=</text>
<text x="1353.85" y="1036.2" font-size="13.3" fill="#000">2.8e-10</text>
<text x="1407.78" y="1020" font-size="13.3" fill="#000">FDR=</text>
<text x="1407.78" y="1036.2" font-size="13.3" fill="#000">1.1e-08</text>
<text x="1461.71" y="1020" font-size="13.3" fill="#000">FDR=</text>
<text x="1461.71" y="1036.2" font-size="13.3" fill="#000">1.3e-08</text>
<text x="1525.64" y="1020" font-size="13.3" fill="#000">FDR=</text>
<text x="1525.64" y="1036.2" font-size="13.3" fill="#000">2e-07</text>
<text x="1569.56" y="1020" font-size="13.3" fill="#000">FDR=</text>
<text x="1569.56" y="1036.2" font-size="13.3" fill="#000">8.9e-07</text>
<text x="1623.49" y="1020" font-size="13.3" fill="#000">FDR=</text>
<text x="1623.49" y="1036.2" font-size="13.3" fill="#000">2.2e-06</text>
<text x="1677.42" y="1020" font-size="13.3" fill="#000">FDR=</text>
<text x="1677.42" y="1036.2" font-size="13.3" fill="#000">8.7e-06</text>
<text x="1731.35" y="1020" font-size="13.3" fill="#000">FDR=</text>
<text x="1731.35" y="1036.2" font-size="13.3" fill="#000">1.5e-04</text>
<text x="1785.28" y="1020" font-size="13.3" fill="#000">FDR=</text>
<text x="1785.28" y="1036.2" font-size="13.3" fill="#000">2.4e-04</text>
<text x="1839.21" y="1020" font-size="13.3" fill="#000">FDR=</text>
<text x="1839.21" y="1036.2" font-size="13.3" fill="#000">1.6e-03</text>
<text x="1893.14" y="1020" font-size="13.3" fill="#000">FDR=</text>
<text x="1893.14" y="1036.2" font-size="13.3" fill="#000">2.1e-02</text>
<text x="1947.07" y="1020" font-size="13.3" fill="#000">FDR=</text>
<text x="1947.07" y="1036.2" font-size="13.3" fill="#000">3.9e-01</text>
<text transform="translate(1105.86,1058.5) rotate(-24.5)" class="b" font-size="16.2" text-anchor="end" fill="#000">Immune Score</text>
<text transform="translate(1159.79,1058.5) rotate(-24.5)" class="b" font-size="16.2" text-anchor="end" fill="#000">T cells CD4</text>
<text transform="translate(1213.72,1058.5) rotate(-24.5)" class="b" font-size="16.2" text-anchor="end" fill="#000">T cells CD8</text>
<text transform="translate(1267.65,1058.5) rotate(-24.5)" class="b" font-size="16.2" text-anchor="end" fill="#000">T cells gamma delta</text>
<text transform="translate(1321.58,1058.5) rotate(-24.5)" class="b" font-size="16.2" text-anchor="end" fill="#000">NK cells</text>
<text transform="translate(1375.51,1058.5) rotate(-24.5)" class="b" font-size="16.2" text-anchor="end" fill="#000">Dendritic cells</text>
<text transform="translate(1429.44,1058.5) rotate(-24.5)" class="b" font-size="16.2" text-anchor="end" fill="#000">T regulatory cells</text>
<text transform="translate(1483.37,1058.5) rotate(-24.5)" class="b" font-size="16.2" text-anchor="end" fill="#000">B cells</text>
<text transform="translate(1537.3,1058.5) rotate(-24.5)" class="b" font-size="16.2" text-anchor="end" fill="#000">Macrophages M1</text>
<text transform="translate(1591.23,1058.5) rotate(-24.5)" class="b" font-size="16.2" text-anchor="end" fill="#000">Cytotoxic cells</text>
<text transform="translate(1645.16,1058.5) rotate(-24.5)" class="b" font-size="16.2" text-anchor="end" fill="#000">Macrophages</text>
<text transform="translate(1699.09,1058.5) rotate(-24.5)" class="b" font-size="16.2" text-anchor="end" fill="#000">Monocytes</text>
<text transform="translate(1753.02,1058.5) rotate(-24.5)" class="b" font-size="16.2" text-anchor="end" fill="#000">Plasma cells</text>
<text transform="translate(1806.95,1058.5) rotate(-24.5)" class="b" font-size="16.2" text-anchor="end" fill="#000">Macrophages M2</text>
<text transform="translate(1860.88,1058.5) rotate(-24.5)" class="b" font-size="16.2" text-anchor="end" fill="#000">Neutrophils</text>
<text transform="translate(1914.81,1058.5) rotate(-24.5)" class="b" font-size="16.2" text-anchor="end" fill="#000">Eosinophils</text>
<text transform="translate(1968.74,1058.5) rotate(-24.5)" class="b" font-size="16.2" text-anchor="end" fill="#000">Fibroblasts</text>
<text transform="translate(1000.8,981.3) rotate(-90)" font-size="18.4" text-anchor="middle" fill="#000">Log2 FC</text>
<g transform="translate(1022.8,1017) rotate(-90)" fill="#000"><text x="0" y="0" font-size="18">PRs ESR1</text><text x="86.5" y="-9.5" font-size="14">HIGH</text><text x="133.5" y="0" font-size="18">- GRs</text></g>
</svg></body></html>
